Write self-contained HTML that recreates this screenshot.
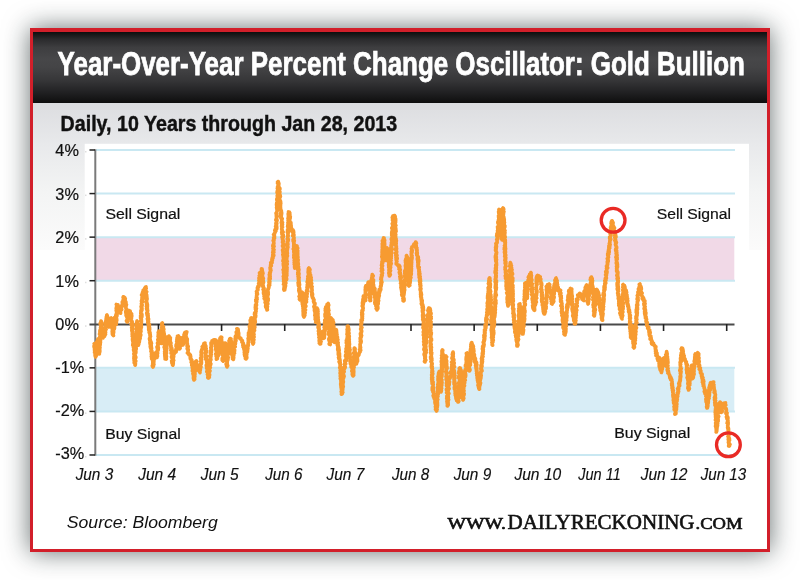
<!DOCTYPE html>
<html><head><meta charset="utf-8"><style>
html,body{margin:0;padding:0;background:#fff;}
body{width:800px;height:580px;position:relative;overflow:hidden;font-family:"Liberation Sans",Arial,sans-serif;}
#frame{position:absolute;left:30px;top:28px;width:734px;height:517px;border:3px solid #d21f2a;border-top-width:4px;background:#fff;
 box-shadow:0 0 24px 0 rgba(15,30,30,0.64);}
#hdr{position:absolute;left:0;top:0;width:734px;height:70.7px;
 background:linear-gradient(#0e0e0e 0%,#2a2a2c 10%,#3e3e40 22%,#474749 38%,#444446 50%,#363638 68%,#222224 84%,#0e0e0e 100%);}
#panel{position:absolute;left:0;top:70.7px;width:734px;height:147px;background:linear-gradient(#dcdde0 0%,#e8e9eb 28%,#f3f4f4 60%,#fbfbfb 100%);}
svg{position:absolute;left:0;top:0;}
.g{stroke:#c9e8f2;stroke-width:2;}
.t{stroke:#222;stroke-width:1.5;}
.bt{stroke:#222;stroke-width:1.6;}
.yl{font-family:"Liberation Sans",Arial,sans-serif;font-size:16.3px;fill:#111;stroke:#111;stroke-width:0.2px;}
.xl{font-family:"Liberation Sans",Arial,sans-serif;font-style:italic;font-size:16.6px;fill:#111;stroke:#111;stroke-width:0.15px;}
.lab{font-family:"Liberation Sans",Arial,sans-serif;font-size:15.5px;fill:#111;stroke:#111;stroke-width:0.2px;}
.ttl{font-family:"Liberation Sans",Arial,sans-serif;font-weight:bold;font-size:32.4px;fill:#fff;stroke:#fff;stroke-width:0.75px;}
.sub{font-family:"Liberation Sans",Arial,sans-serif;font-weight:bold;font-size:22.2px;fill:#111;stroke:#111;stroke-width:0.45px;}
.src{font-family:"Liberation Sans",Arial,sans-serif;font-style:italic;font-size:17px;fill:#111;}
.dr{font-family:"Liberation Serif",serif;fill:#111;stroke:#111;stroke-width:0.6px;}
</style></head><body>
<div id="frame">
 <div id="hdr"></div>
 <div id="panel"></div>
</div>
<svg width="800" height="580" viewBox="0 0 800 580">
 <text x="57.6" y="75" textLength="687.3" lengthAdjust="spacingAndGlyphs" class="ttl">Year-Over-Year Percent Change Oscillator: Gold Bullion</text>
 <text x="60.6" y="131.2" textLength="336.6" lengthAdjust="spacingAndGlyphs" class="sub">Daily, 10 Years through Jan 28, 2013</text>
 <rect x="84.7" y="143.8" width="664.3" height="320" fill="#fff"/>
 <rect x="96" y="237.14" width="638.3" height="43.57" fill="#f1d9e7"/>
 <rect x="96" y="367.85" width="638.3" height="43.57" fill="#d8edf6"/>
 <line x1="96" y1="150.00" x2="735" y2="150.00" class="g"/><line x1="96" y1="193.57" x2="735" y2="193.57" class="g"/><line x1="96" y1="237.14" x2="735" y2="237.14" class="g"/><line x1="96" y1="280.71" x2="735" y2="280.71" class="g"/><line x1="96" y1="367.85" x2="735" y2="367.85" class="g"/><line x1="96" y1="411.42" x2="735" y2="411.42" class="g"/><line x1="96" y1="454.99" x2="735" y2="454.99" class="g"/>
 <line x1="95.3" y1="149.3" x2="95.3" y2="455.8" stroke="#7a7a7a" stroke-width="2"/>
 <line x1="89.5" y1="150.00" x2="95" y2="150.00" class="t"/><line x1="89.5" y1="193.57" x2="95" y2="193.57" class="t"/><line x1="89.5" y1="237.14" x2="95" y2="237.14" class="t"/><line x1="89.5" y1="280.71" x2="95" y2="280.71" class="t"/><line x1="89.5" y1="367.85" x2="95" y2="367.85" class="t"/><line x1="89.5" y1="411.42" x2="95" y2="411.42" class="t"/><line x1="89.5" y1="454.99" x2="95" y2="454.99" class="t"/>
 <rect x="85.2" y="151.00" width="1.2" height="1.5" fill="#d6d6d6"/><rect x="85.2" y="194.57" width="1.2" height="1.5" fill="#d6d6d6"/><rect x="85.2" y="238.14" width="1.2" height="1.5" fill="#d6d6d6"/><rect x="85.2" y="281.71" width="1.2" height="1.5" fill="#d6d6d6"/><rect x="85.2" y="325.28" width="1.2" height="1.5" fill="#d6d6d6"/><rect x="85.2" y="368.85" width="1.2" height="1.5" fill="#d6d6d6"/><rect x="85.2" y="412.42" width="1.2" height="1.5" fill="#d6d6d6"/><rect x="85.2" y="455.99" width="1.2" height="1.5" fill="#d6d6d6"/>
 <line x1="89.5" y1="324.5" x2="734.5" y2="324.5" stroke="#4a4a4a" stroke-width="2"/>
 <line x1="158.44" y1="324" x2="158.44" y2="331" class="bt"/><line x1="221.58" y1="324" x2="221.58" y2="331" class="bt"/><line x1="284.72" y1="324" x2="284.72" y2="331" class="bt"/><line x1="347.86" y1="324" x2="347.86" y2="331" class="bt"/><line x1="411.00" y1="324" x2="411.00" y2="331" class="bt"/><line x1="474.14" y1="324" x2="474.14" y2="331" class="bt"/><line x1="537.28" y1="324" x2="537.28" y2="331" class="bt"/><line x1="600.42" y1="324" x2="600.42" y2="331" class="bt"/><line x1="663.56" y1="324" x2="663.56" y2="331" class="bt"/><line x1="726.70" y1="324" x2="726.70" y2="331" class="bt"/>
 <text x="78.9" y="155.90" text-anchor="end" class="yl">4%</text><text x="78.9" y="200.07" text-anchor="end" class="yl">3%</text><text x="78.9" y="243.14" text-anchor="end" class="yl">2%</text><text x="78.9" y="286.61" text-anchor="end" class="yl">1%</text><text x="78.9" y="330.18" text-anchor="end" class="yl">0%</text><text x="84.3" y="373.45" text-anchor="end" class="yl">-1%</text><text x="84.3" y="416.12" text-anchor="end" class="yl">-2%</text><text x="84.3" y="458.99" text-anchor="end" class="yl">-3%</text>
 <text x="75.65" y="480.3" textLength="37.60" lengthAdjust="spacingAndGlyphs" class="xl">Jun 3</text><text x="138.15" y="480.3" textLength="38.10" lengthAdjust="spacingAndGlyphs" class="xl">Jun 4</text><text x="200.65" y="480.3" textLength="38.10" lengthAdjust="spacingAndGlyphs" class="xl">Jun 5</text><text x="265.15" y="480.3" textLength="37.35" lengthAdjust="spacingAndGlyphs" class="xl">Jun 6</text><text x="326.40" y="480.3" textLength="37.85" lengthAdjust="spacingAndGlyphs" class="xl">Jun 7</text><text x="391.90" y="480.3" textLength="37.35" lengthAdjust="spacingAndGlyphs" class="xl">Jun 8</text><text x="453.65" y="480.3" textLength="37.60" lengthAdjust="spacingAndGlyphs" class="xl">Jun 9</text><text x="514.40" y="480.3" textLength="46.85" lengthAdjust="spacingAndGlyphs" class="xl">Jun 10</text><text x="578.15" y="480.3" textLength="42.60" lengthAdjust="spacingAndGlyphs" class="xl">Jun 11</text><text x="640.65" y="480.3" textLength="46.85" lengthAdjust="spacingAndGlyphs" class="xl">Jun 12</text><text x="700.65" y="480.3" textLength="45.60" lengthAdjust="spacingAndGlyphs" class="xl">Jun 13</text>
 <text x="105.5" y="219" textLength="74.8" lengthAdjust="spacingAndGlyphs" class="lab">Sell Signal</text>
 <text x="656.7" y="218.8" textLength="74.3" lengthAdjust="spacingAndGlyphs" class="lab">Sell Signal</text>
 <text x="105.2" y="438.75" textLength="75.5" lengthAdjust="spacingAndGlyphs" class="lab">Buy Signal</text>
 <text x="614.2" y="437.8" textLength="76" lengthAdjust="spacingAndGlyphs" class="lab">Buy Signal</text>
 <polyline points="94.4,344.0 94.2,343.7 94.7,344.1 94.6,345.2 94.0,346.0 94.0,346.4 94.1,346.1 94.6,348.2 94.2,347.4 95.0,349.5 95.0,348.8 95.6,348.5 95.5,349.5 94.5,349.7 94.8,351.7 94.6,351.7 95.3,351.7 95.3,351.5 94.6,352.4 95.5,353.3 95.1,354.2 95.3,354.1 95.8,355.4 95.1,355.7 95.5,356.8 95.9,356.0 95.6,357.0 96.3,355.7 95.6,356.6 95.3,355.5 95.2,355.4 96.3,354.7 96.5,353.6 96.3,353.7 96.2,352.9 96.6,353.5 96.1,352.4 95.6,351.9 96.5,352.1 96.8,350.0 96.3,350.4 95.8,349.4 96.1,348.2 96.0,349.1 96.1,347.4 96.6,348.3 96.2,346.9 96.9,347.3 97.3,346.8 96.6,345.3 97.0,345.0 96.9,345.3 97.8,343.2 96.8,342.9 97.0,343.0 97.5,342.0 96.8,341.8 97.4,341.6 98.3,341.4 97.8,340.8 98.1,339.0 98.5,340.1 98.0,339.0 98.6,340.2 97.9,339.8 97.5,340.8 97.5,340.0 97.8,340.8 98.0,341.0 97.5,341.7 97.7,342.7 97.6,344.3 98.5,343.2 98.0,344.2 98.2,344.2 98.9,346.6 98.4,346.0 97.9,345.6 98.3,346.5 99.0,346.8 97.9,349.0 98.7,347.7 98.7,348.0 98.7,350.6 99.2,350.4 98.4,350.2 98.3,351.6 98.9,352.1 98.6,351.4 99.3,353.6 99.4,353.7 99.4,354.0 99.0,354.0 98.6,353.5 98.9,352.0 98.4,352.0 98.8,352.4 99.8,351.4 99.8,352.1 99.8,350.2 98.9,349.4 98.8,348.8 99.5,349.9 99.8,348.5 99.6,348.7 98.8,347.9 100.0,347.6 99.8,346.5 99.0,346.6 99.3,346.2 100.2,344.8 99.4,345.5 99.9,343.3 99.1,342.7 100.2,343.7 99.2,343.2 100.4,342.3 99.5,341.6 99.3,339.9 100.5,340.8 99.9,341.0 99.8,340.3 100.4,338.4 99.6,338.0 99.6,338.2 99.7,337.3 99.5,337.9 99.9,336.4 100.2,336.9 100.0,336.4 100.2,335.1 100.2,333.4 100.1,333.3 99.5,334.2 99.8,332.9 100.6,332.6 100.1,332.0 100.4,332.1 99.8,331.1 100.1,330.0 100.8,330.0 100.6,330.1 101.1,328.9 100.7,328.5 100.6,328.4 100.5,327.6 100.6,328.0 100.9,327.3 101.3,325.5 100.8,326.5 101.2,324.2 100.3,324.4 100.2,323.4 100.3,323.9 101.3,323.9 100.4,323.0 101.2,321.2 101.5,322.5 101.0,321.0 100.7,322.5 101.0,322.0 101.9,323.2 100.8,322.8 101.3,323.1 100.9,323.6 101.7,323.4 101.5,324.9 100.9,325.1 101.8,326.0 101.0,327.6 102.1,328.0 101.2,327.0 101.2,328.6 101.6,327.7 101.8,329.9 102.4,329.0 101.6,330.9 102.2,330.9 101.6,330.0 102.5,331.3 101.7,333.0 102.5,333.2 101.8,333.8 101.9,334.3 102.5,333.6 102.7,335.4 102.3,334.2 102.7,334.9 102.2,335.3 102.2,335.8 102.6,336.6 103.3,337.0 103.0,338.0 103.3,336.9 103.4,336.1 103.5,335.6 104.5,336.4 104.0,335.8 105.3,334.6 105.0,335.0 105.5,334.4 105.1,334.7 105.0,333.5 105.5,334.1 105.0,333.2 105.6,332.3 105.2,331.2 104.8,330.2 104.8,331.0 105.2,329.3 105.0,330.3 106.1,329.4 105.3,327.9 105.4,327.9 105.3,327.4 105.5,328.0 106.5,326.6 105.5,327.0 105.7,325.2 105.3,324.7 106.0,324.5 105.7,324.0 105.5,323.0 105.6,322.8 105.6,321.4 106.0,321.4 106.5,321.6 106.8,321.3 106.8,321.3 106.3,319.6 107.2,318.7 106.9,319.3 106.0,319.2 107.2,318.3 107.1,318.2 106.3,317.1 106.9,317.2 107.3,316.7 107.1,316.4 107.0,315.0 107.3,315.9 106.8,315.0 106.7,316.2 106.8,317.7 107.5,317.8 107.7,318.4 107.6,317.4 108.1,319.5 107.8,319.6 108.1,319.0 108.2,320.0 107.4,320.5 108.4,320.9 108.5,323.0 108.2,322.2 108.3,323.4 108.8,323.8 108.7,323.1 108.1,324.0 109.0,324.6 108.8,324.4 108.2,325.5 109.2,326.9 109.0,327.0 109.4,326.0 109.2,325.9 109.3,324.7 110.0,324.3 110.2,325.5 109.0,323.9 110.2,324.5 109.8,322.5 109.6,323.5 109.7,322.2 109.7,321.6 111.0,320.2 110.9,320.5 111.1,320.4 110.3,320.4 110.8,318.0 110.2,318.5 111.0,318.0 111.0,318.1 110.6,318.7 110.9,320.2 110.5,320.6 111.8,319.7 111.9,321.5 112.0,321.0 111.3,321.8 112.2,322.7 111.4,322.8 111.3,322.5 111.1,324.7 111.5,325.5 111.5,324.5 111.9,324.8 111.8,327.0 112.5,327.2 112.2,327.9 112.7,327.6 112.5,327.0 112.6,328.4 112.6,329.3 112.1,328.5 113.0,329.2 112.4,330.2 112.2,331.5 113.3,331.0 112.9,331.6 112.8,332.3 112.3,332.3 112.4,334.4 112.9,333.4 113.5,335.6 113.0,335.0 113.0,333.7 112.7,333.1 113.0,332.6 112.9,332.5 113.4,333.4 113.7,331.8 113.3,331.6 113.3,330.6 112.9,330.0 114.2,329.2 113.7,329.8 114.2,328.4 113.4,327.9 113.7,327.9 114.5,328.3 114.5,325.9 113.3,327.0 114.6,325.9 114.2,324.4 114.0,325.9 114.7,325.3 115.0,323.4 113.8,322.7 114.4,323.4 115.1,323.0 114.7,322.6 114.5,321.6 114.0,321.6 114.3,321.4 115.0,319.6 114.3,319.0 115.1,319.4 114.4,317.6 115.0,318.0 115.1,318.7 115.0,318.4 115.4,318.4 115.1,319.9 116.1,320.8 116.0,320.9 115.2,320.9 116.3,322.5 115.5,321.4 115.8,323.4 115.8,323.0 116.0,324.0 116.3,324.4 115.7,322.0 115.9,322.3 116.4,321.3 116.5,322.0 116.2,320.4 116.8,320.1 116.7,319.4 115.8,320.1 116.0,320.0 116.3,317.8 115.9,317.8 116.6,318.5 115.9,316.8 116.0,317.5 115.9,315.0 115.8,315.3 117.0,315.8 116.8,315.6 117.1,313.6 116.1,314.5 116.9,312.0 116.8,312.2 116.5,311.6 116.2,310.4 116.4,310.7 117.3,309.7 117.4,309.4 116.6,310.2 117.2,308.9 116.2,308.4 116.7,308.9 116.4,307.2 117.5,306.0 116.8,307.2 117.3,305.0 116.3,304.5 117.0,305.0 118.0,304.9 118.1,306.7 118.0,305.7 119.2,306.9 119.0,307.0 118.8,308.0 118.9,307.5 118.6,309.1 119.9,309.3 120.0,308.5 119.1,309.9 120.2,311.5 119.5,310.5 119.7,311.5 120.4,311.3 120.3,313.0 120.0,313.0 120.6,313.1 120.4,311.6 120.1,311.2 120.9,310.1 120.2,311.1 120.4,309.0 120.2,309.6 120.8,310.1 121.7,309.6 120.9,307.1 120.8,307.5 121.8,306.9 121.3,306.3 121.9,306.4 122.2,306.3 122.0,305.0 122.4,303.7 122.7,303.5 122.5,303.2 122.8,302.3 122.3,301.9 122.3,302.8 123.0,301.1 122.9,302.1 123.1,299.9 123.7,300.3 124.1,298.6 123.5,299.7 124.1,299.4 123.1,297.5 123.3,296.8 124.0,297.0 124.8,297.7 124.9,297.7 124.9,298.4 124.2,299.6 125.3,298.6 125.0,300.3 124.6,300.2 124.6,300.3 124.9,301.7 125.6,301.3 124.9,302.1 126.0,302.3 125.6,302.8 126.0,304.0 126.4,304.6 125.4,304.1 125.9,305.6 126.3,305.1 125.7,306.9 126.0,306.5 125.9,308.5 126.0,308.1 126.1,308.3 126.8,310.1 126.1,308.8 126.7,309.3 125.7,311.4 126.3,311.7 126.3,312.3 126.4,311.3 125.8,312.6 126.7,313.9 126.0,313.8 126.4,314.0 126.1,314.0 126.6,315.9 126.1,315.5 127.1,317.0 126.3,315.7 127.3,318.0 126.7,316.5 127.4,317.8 127.4,318.8 127.3,318.3 127.3,318.9 126.8,320.8 127.4,319.8 126.5,320.8 127.0,321.2 127.0,322.0 126.6,320.9 127.5,321.9 126.6,320.6 127.7,319.0 127.9,318.7 127.7,319.1 127.8,318.1 127.6,318.2 127.7,317.8 127.8,316.9 127.3,316.8 128.1,315.4 128.6,316.1 128.2,314.3 128.3,313.6 127.9,313.8 128.0,313.4 128.7,312.0 128.9,311.6 129.1,312.6 128.9,310.5 129.0,311.0 129.3,311.2 130.2,311.1 130.4,313.4 130.5,313.4 130.0,314.2 130.7,314.6 131.0,314.0 131.6,313.8 131.5,315.9 130.5,315.2 131.5,315.2 131.8,316.0 131.7,316.2 131.3,318.4 130.9,317.5 131.4,318.1 130.8,318.3 131.0,320.5 131.8,320.9 131.1,321.1 131.1,321.1 131.8,321.2 132.2,322.1 131.9,323.3 131.2,324.1 132.0,323.3 132.3,323.5 132.6,324.7 131.8,325.6 131.9,324.8 132.4,325.0 132.5,326.0 132.3,328.1 132.3,327.9 132.0,326.9 131.6,327.7 132.5,328.9 132.4,330.4 131.9,329.4 132.6,329.4 131.8,330.7 132.0,331.2 132.2,332.2 132.7,331.8 132.8,332.9 132.2,334.5 132.4,333.2 132.2,334.8 133.3,335.6 132.7,335.0 132.2,336.3 133.0,336.2 133.0,337.0 133.2,337.4 133.7,338.5 132.8,339.4 132.5,339.1 133.0,338.9 132.6,340.6 132.6,340.6 133.9,340.2 132.9,341.7 133.4,342.3 133.8,341.8 133.2,342.6 132.8,344.4 133.9,344.5 132.8,345.3 133.9,344.9 133.9,345.4 133.3,345.1 133.3,345.5 133.5,347.5 134.0,348.3 134.1,347.5 133.9,348.4 134.3,349.1 133.6,349.8 134.6,349.4 134.5,349.4 133.7,350.4 134.4,352.5 134.4,351.6 134.6,352.1 133.8,353.9 134.4,353.9 134.4,355.1 134.2,355.2 134.6,355.8 134.2,356.0 134.5,355.6 134.0,356.8 133.8,357.9 134.0,356.5 133.9,358.9 134.3,357.7 133.9,358.0 134.9,359.8 134.9,360.5 134.1,360.7 134.5,361.7 135.2,362.4 134.2,362.8 135.4,363.5 134.3,362.4 134.3,362.5 135.4,364.7 135.2,365.2 135.0,365.0 135.2,364.0 134.5,363.1 135.4,362.9 134.8,362.8 134.4,362.0 134.8,362.5 135.0,361.1 135.8,361.0 135.7,360.8 134.6,359.8 135.2,360.1 135.1,359.5 135.3,357.9 135.8,357.1 135.8,356.8 134.7,356.3 135.8,357.6 134.7,356.0 135.4,356.2 135.0,355.0 135.3,355.2 135.2,355.0 135.2,352.9 135.8,353.0 135.0,352.8 135.0,352.6 135.9,352.1 135.8,350.7 135.5,350.3 136.2,349.1 136.2,348.5 135.3,348.5 136.3,348.5 135.6,348.8 135.4,347.4 135.9,347.6 136.2,346.8 135.7,345.6 135.4,346.3 136.1,345.5 135.5,344.4 136.3,344.2 135.5,343.4 136.5,342.4 135.6,342.1 136.3,342.8 135.6,340.7 135.7,340.6 136.1,339.8 135.9,339.3 136.8,340.0 135.6,340.0 135.6,338.2 136.9,338.6 136.6,337.4 135.8,337.3 135.7,335.9 136.2,335.0 136.2,336.1 136.6,335.0 136.6,334.4 135.9,334.2 136.3,334.0 137.0,332.8 136.6,333.0 136.4,331.4 136.8,332.3 136.9,331.4 137.1,330.9 136.8,329.9 136.4,329.8 136.1,328.8 137.1,329.0 136.9,327.5 136.6,327.4 136.9,326.8 137.0,327.4 136.3,326.3 137.2,325.3 136.8,326.0 136.2,324.6 136.4,324.6 137.5,323.5 136.4,323.2 137.0,323.0 137.0,322.3 137.4,321.5 137.0,321.0 136.9,322.5 136.7,322.4 136.9,323.1 136.6,324.1 136.9,322.5 136.9,323.8 136.5,324.3 137.1,325.4 137.1,325.0 136.9,326.5 137.9,326.6 137.0,327.7 137.2,326.9 136.9,328.6 137.9,328.8 137.4,329.1 137.1,330.5 137.3,330.3 138.0,331.2 137.5,330.5 137.7,330.7 138.1,331.7 138.2,332.0 137.5,332.5 137.6,332.8 137.1,334.5 137.5,333.9 137.5,335.0 137.7,335.8 138.1,335.7 138.5,337.3 137.3,337.7 138.5,338.1 137.5,338.7 138.2,337.4 137.4,340.0 138.3,339.0 137.6,339.2 137.8,341.1 138.0,340.2 138.8,342.1 137.8,342.9 138.4,343.1 138.5,343.9 138.7,344.2 137.9,344.4 138.4,345.0 138.4,345.0 138.4,345.3 138.7,343.5 138.3,342.7 138.8,342.0 138.9,341.7 139.0,342.0 139.2,342.3 138.5,341.7 139.3,340.6 139.6,340.7 139.3,339.3 140.2,338.1 139.9,338.8 139.1,338.2 140.2,338.4 139.8,338.1 140.1,336.5 140.8,335.0 140.6,335.8 140.4,335.0 140.2,335.3 140.3,333.9 140.5,334.1 140.1,332.9 140.4,332.6 141.0,331.5 141.0,331.3 140.6,330.5 140.6,331.5 140.9,330.6 140.4,329.1 140.4,329.2 140.9,329.1 140.1,328.5 141.3,327.6 140.2,326.6 140.1,325.8 141.4,326.2 141.1,326.1 141.4,325.2 141.1,324.8 141.2,324.2 141.2,322.9 141.2,322.9 141.4,321.6 140.6,321.0 141.4,322.4 141.3,320.7 141.5,321.1 141.2,319.5 140.9,319.3 140.9,318.8 141.4,319.5 140.6,318.1 140.6,316.7 141.7,317.2 141.9,316.4 140.6,315.8 141.5,316.5 142.0,314.9 141.3,313.6 141.6,313.4 140.9,312.4 140.8,313.4 140.9,313.5 140.9,312.8 141.0,310.4 141.8,310.4 141.9,309.8 141.0,310.6 141.9,310.3 142.0,308.1 141.8,309.0 141.6,309.0 141.4,308.5 142.0,305.9 141.1,306.8 142.2,305.1 141.5,306.0 141.4,305.8 141.8,303.5 141.7,304.2 141.8,303.9 141.4,303.7 141.8,302.8 142.2,301.8 141.8,302.1 142.6,301.6 142.1,300.0 141.5,301.0 142.4,300.2 141.9,299.2 142.8,299.2 142.3,297.6 142.1,298.4 142.0,297.4 142.4,297.4 142.7,295.5 141.6,295.0 142.2,295.2 142.8,295.4 141.7,294.7 142.8,294.3 142.4,293.0 142.7,292.0 143.4,292.8 143.4,292.5 143.2,290.2 143.7,291.3 143.5,290.8 144.7,289.2 144.5,289.7 144.6,288.2 144.5,288.9 145.5,287.8 144.8,288.1 145.6,287.0 146.0,286.9 145.8,288.9 146.2,288.5 145.7,289.2 145.3,288.8 145.4,290.4 145.7,290.6 145.7,291.0 145.4,290.5 146.7,291.7 145.4,292.8 146.4,292.2 146.2,293.2 146.1,292.9 145.5,295.6 146.7,295.0 146.3,295.0 146.6,295.8 146.9,297.1 146.8,298.0 146.0,296.5 146.0,297.3 145.8,297.5 146.5,299.8 146.4,300.5 147.1,299.0 146.7,300.3 146.1,302.0 146.3,301.6 146.9,303.0 146.9,302.3 146.7,302.3 147.4,304.6 146.4,303.0 146.5,304.2 147.4,305.9 147.4,304.5 147.4,306.5 147.2,307.6 146.4,306.2 147.4,308.5 147.3,307.6 147.3,309.1 146.6,308.6 146.9,308.7 147.2,309.3 146.9,309.7 147.6,309.9 147.7,310.8 146.7,312.9 147.0,313.5 148.0,313.9 147.0,313.4 147.0,314.9 148.0,314.8 147.6,315.0 147.6,315.1 148.2,316.0 147.9,315.7 147.4,316.0 148.2,317.6 147.4,318.8 147.7,318.3 147.6,318.5 148.6,319.1 147.7,320.0 148.0,321.4 147.7,322.1 147.7,322.4 148.6,321.4 148.4,322.0 148.1,322.3 148.4,324.6 149.3,324.9 148.1,324.0 149.3,324.0 149.1,325.0 149.5,324.9 149.3,326.1 148.4,325.9 149.5,327.6 148.6,327.9 149.7,327.9 149.3,328.2 148.8,330.1 149.6,329.3 148.7,329.6 149.5,331.0 149.1,330.9 149.6,332.5 150.0,332.7 149.6,333.0 149.2,332.5 150.0,333.8 150.1,333.5 150.2,334.6 150.3,336.3 149.9,334.9 150.5,336.4 150.5,336.5 149.6,338.2 149.9,337.3 150.0,338.7 149.5,339.0 150.2,339.5 149.8,340.5 150.8,341.3 150.1,341.5 150.3,342.1 149.9,342.8 151.2,342.5 150.6,343.1 150.7,342.4 151.4,343.4 150.3,343.6 150.5,345.7 150.2,344.6 151.2,345.3 150.3,346.7 151.1,347.1 151.3,346.6 151.6,348.5 150.5,347.7 151.2,349.0 150.9,348.7 151.2,349.2 151.5,351.3 150.9,351.2 151.8,350.8 152.0,353.0 151.4,352.3 152.1,353.1 151.5,354.5 152.1,353.6 151.4,354.1 151.7,356.1 152.3,356.4 152.3,356.8 151.3,356.5 152.6,358.0 151.7,357.3 152.3,357.7 152.2,357.6 152.1,359.0 151.6,358.7 153.0,360.6 153.0,360.8 152.8,361.8 153.0,360.5 152.7,361.5 152.8,362.0 152.7,363.9 152.8,363.0 152.7,363.9 153.4,364.0 152.5,365.3 152.3,365.7 153.5,366.0 152.6,366.4 153.0,367.0 153.1,365.7 152.6,365.2 152.9,365.3 153.0,364.4 152.8,364.6 153.9,364.2 153.6,363.8 153.2,363.5 153.6,362.6 153.9,361.9 153.5,360.9 153.5,361.0 153.8,360.7 153.3,359.7 154.6,358.9 154.2,359.0 153.9,359.6 154.0,358.6 153.9,356.5 154.9,356.9 153.9,356.3 154.5,356.5 154.1,354.9 155.4,355.5 154.3,354.1 154.7,354.4 155.1,354.3 155.0,353.0 155.7,353.5 155.8,354.5 156.1,354.4 156.4,355.5 156.8,354.7 157.0,354.9 157.1,356.7 157.0,357.0 157.0,357.5 157.2,355.8 157.5,356.3 157.3,354.7 157.1,354.4 157.5,353.5 157.1,353.6 157.1,352.6 157.7,353.3 157.4,351.9 157.0,351.1 157.0,351.2 157.6,349.6 158.1,349.6 158.1,350.2 158.3,348.3 157.6,349.4 157.0,347.0 157.8,347.5 158.4,347.6 157.9,347.6 157.9,346.0 158.1,345.3 157.7,345.2 157.8,345.5 158.2,344.1 157.5,343.2 157.9,343.1 158.2,343.3 158.8,342.0 158.1,341.8 158.9,340.7 158.3,341.2 157.8,339.6 159.0,340.2 158.4,338.1 159.0,338.9 158.9,339.1 159.0,337.3 158.1,336.5 158.6,336.5 158.2,335.3 158.8,335.7 158.5,336.1 158.9,333.5 158.6,334.6 158.5,333.9 158.2,332.6 159.4,332.7 159.2,331.3 159.0,331.6 159.0,331.0 158.8,331.8 159.2,333.1 159.4,332.3 158.8,332.2 159.8,332.6 158.9,333.3 159.6,335.2 159.8,335.7 159.1,334.4 160.2,335.6 160.2,336.2 159.5,336.5 159.5,338.4 160.3,337.7 160.2,338.2 159.7,339.9 160.5,340.5 160.4,340.3 160.2,339.5 161.3,341.8 160.5,342.4 161.3,341.6 161.1,343.5 161.0,343.0 161.0,343.5 160.7,341.8 161.4,340.9 160.9,341.8 161.2,341.1 160.9,339.3 161.0,338.8 161.9,338.5 161.4,337.7 161.4,337.7 161.2,336.5 160.9,337.7 161.2,335.9 161.1,335.5 161.2,334.5 161.8,334.7 161.1,335.0 161.1,333.5 162.1,332.7 161.6,333.7 162.2,331.8 161.6,332.5 161.6,332.5 161.4,332.0 161.9,329.9 161.8,329.2 162.2,329.0 162.5,329.2 161.8,327.9 162.2,327.4 162.6,326.7 162.1,327.1 161.8,327.1 162.0,326.3 162.3,325.1 162.1,324.1 161.8,325.3 162.1,324.4 161.8,323.6 162.4,323.0 162.3,323.5 162.2,323.0 162.3,323.9 162.1,325.5 162.4,325.3 163.4,326.6 163.4,327.3 162.4,326.5 162.3,327.9 163.3,327.7 163.0,328.8 163.5,328.4 163.8,329.2 163.5,329.3 162.9,331.4 163.8,331.5 162.9,330.5 163.1,331.3 163.4,332.2 163.1,332.6 164.0,332.8 164.3,334.2 164.2,334.0 164.0,335.0 163.9,335.9 163.9,334.9 164.6,337.1 163.8,336.0 164.7,337.7 163.6,337.4 163.7,339.1 163.9,339.9 164.6,338.6 164.6,339.8 164.7,341.2 164.1,340.1 165.1,341.3 165.1,342.4 164.8,343.2 164.7,342.9 163.9,343.9 164.5,344.0 165.2,343.7 165.0,344.0 165.0,346.2 164.4,346.1 165.4,346.8 164.9,346.4 164.2,347.2 164.7,347.3 164.6,347.7 165.2,349.4 164.6,348.9 165.0,349.9 165.6,350.2 164.8,351.8 164.6,351.6 164.9,352.7 165.2,353.1 164.7,353.4 165.4,353.4 165.6,354.7 164.8,354.0 165.1,354.4 164.8,355.0 165.0,356.4 165.4,355.6 165.2,356.9 165.3,356.8 164.9,356.9 166.3,359.1 165.6,359.0 165.0,359.0 166.3,358.1 165.1,357.5 165.6,356.3 165.8,355.4 166.4,356.3 166.0,356.5 166.1,354.5 165.5,353.7 165.3,354.6 166.4,353.1 165.5,353.3 166.5,353.4 165.6,352.6 166.5,352.0 165.9,350.3 166.6,350.1 166.0,350.1 166.0,350.2 165.9,348.0 166.4,348.8 166.7,348.5 166.9,348.5 166.4,347.0 165.9,346.1 166.5,345.1 166.7,344.8 166.4,346.0 165.9,343.5 166.5,343.3 166.9,342.4 167.1,343.8 167.1,342.3 166.4,342.4 166.7,341.3 166.5,340.9 167.0,341.2 167.4,339.3 166.6,339.4 167.0,338.7 166.5,337.6 166.7,337.9 167.6,338.4 167.0,337.0 168.0,338.0 168.7,337.3 169.0,336.0 169.3,337.2 169.6,337.0 169.4,337.7 170.4,338.0 170.0,338.1 169.7,339.8 169.3,338.8 170.3,339.9 169.5,340.9 170.0,341.2 170.1,341.6 170.4,341.8 169.8,341.8 171.0,343.1 170.0,344.3 170.3,343.1 170.7,344.0 170.7,345.1 170.4,345.7 170.3,346.0 171.1,345.6 170.9,346.1 171.0,348.3 171.2,348.5 171.6,347.7 172.0,349.5 170.8,350.2 171.3,349.3 172.2,350.6 171.6,351.0 172.0,350.7 172.1,351.0 171.3,352.2 171.1,353.2 171.4,353.1 172.1,353.8 172.4,354.8 172.4,355.1 172.5,356.3 171.5,356.5 171.8,357.1 172.3,357.7 171.5,357.2 172.4,359.0 172.4,357.5 172.3,358.1 172.3,360.2 171.7,360.9 172.5,360.0 171.9,360.9 172.8,361.7 171.8,360.9 171.9,363.2 172.0,363.1 172.2,363.9 172.4,363.2 173.1,364.6 172.6,365.0 172.9,365.2 173.3,362.9 172.6,362.7 172.8,363.8 173.3,361.5 172.5,362.7 173.3,361.3 173.0,360.2 173.6,360.3 173.7,360.2 172.6,359.1 172.9,359.9 173.5,357.5 173.0,357.7 173.4,357.7 173.4,356.7 172.9,356.7 173.4,354.9 173.7,356.6 173.1,354.2 174.1,354.0 173.6,354.0 173.6,353.7 174.0,353.0 174.4,353.6 175.5,351.2 175.3,352.4 176.1,352.0 176.0,351.0 176.3,350.8 175.9,349.5 176.6,350.3 176.9,349.4 176.1,349.1 176.7,348.0 176.7,347.2 176.6,346.8 176.0,346.1 176.4,347.1 176.7,345.2 176.4,344.4 176.7,343.7 176.2,344.8 176.9,343.4 177.2,342.6 176.7,341.5 176.9,341.6 177.6,341.6 177.9,340.6 178.0,340.7 176.9,339.3 177.6,340.6 177.4,339.6 177.6,339.3 177.1,338.0 178.4,337.0 177.5,336.0 177.5,336.0 178.0,336.0 178.3,335.9 178.0,336.3 178.3,338.3 178.5,337.3 178.6,339.5 178.5,338.1 178.9,340.3 178.3,339.2 178.1,340.6 179.1,341.3 179.3,340.9 178.5,342.5 179.0,342.3 179.1,342.6 178.3,343.3 178.3,344.3 178.8,344.5 179.2,344.5 179.1,344.4 179.8,346.1 180.0,345.5 179.5,347.5 179.2,346.6 179.0,347.2 179.9,347.6 179.6,349.0 180.1,348.3 179.8,348.2 179.9,347.8 180.0,346.6 180.3,346.0 180.3,346.6 180.4,345.1 180.5,346.1 180.1,344.0 180.3,345.0 179.8,342.4 180.3,343.3 180.8,342.2 181.2,341.4 180.9,340.6 180.0,340.2 180.1,340.5 180.8,339.3 181.4,339.2 180.4,338.3 181.3,339.4 181.0,338.0 180.7,337.5 181.7,338.4 182.1,339.5 181.8,339.7 182.1,340.4 181.6,341.9 181.5,342.0 181.5,342.3 182.1,343.3 181.8,343.1 182.4,344.4 183.3,344.3 182.5,344.0 183.0,345.0 182.7,344.4 182.7,343.3 183.5,343.8 182.9,344.1 182.9,342.7 182.9,342.8 183.9,341.0 183.8,341.7 183.2,340.1 183.5,340.9 183.1,339.9 183.8,338.9 183.8,339.3 183.4,338.8 183.6,338.1 184.4,336.3 184.5,337.6 184.0,336.0 184.0,334.5 184.0,336.0 184.1,335.4 184.5,334.5 184.7,332.8 185.8,332.1 185.5,333.4 186.0,332.0 186.4,333.3 186.8,332.0 185.8,334.1 186.5,333.0 186.2,333.9 186.2,334.1 185.7,336.6 186.1,336.8 185.9,336.5 186.0,336.8 186.1,337.9 186.1,338.5 186.6,337.6 186.5,339.0 187.3,339.2 186.4,341.0 187.3,341.0 186.5,340.3 186.6,340.6 186.3,342.0 186.9,342.6 186.9,341.9 187.4,343.8 187.2,344.1 187.5,345.6 187.8,345.5 187.1,345.1 187.2,347.0 187.2,346.2 187.3,346.2 188.2,346.4 187.7,348.9 187.2,348.7 187.4,348.4 187.2,348.7 188.2,350.6 188.3,349.5 188.1,350.6 188.1,351.6 187.6,353.0 187.3,353.0 188.0,353.0 188.9,353.4 188.9,354.9 188.8,354.5 189.9,354.3 190.0,355.0 190.4,355.3 190.3,356.2 190.6,356.1 190.7,357.1 190.2,357.7 190.4,358.9 190.8,359.0 191.0,358.9 190.7,358.7 191.8,360.1 191.4,360.6 191.9,360.4 191.2,362.2 191.7,362.3 192.3,363.4 192.0,363.0 192.6,362.5 192.0,364.7 192.6,363.7 191.8,364.5 191.7,365.2 192.8,366.0 192.3,365.6 192.3,368.1 192.8,367.4 192.6,368.7 193.0,367.7 193.0,368.7 192.8,368.9 192.6,369.6 192.7,369.4 192.5,371.2 192.4,370.8 193.4,371.5 192.9,371.9 193.6,372.1 193.4,374.3 192.9,373.8 193.8,374.8 193.2,374.0 193.4,375.2 193.8,375.5 193.5,376.8 194.1,376.7 193.5,377.7 194.4,377.3 194.5,379.0 193.7,379.4 193.7,378.6 194.0,380.0 194.4,379.2 194.1,379.0 194.7,379.1 193.5,378.2 194.2,377.4 194.8,376.8 194.3,377.4 194.3,376.0 194.5,376.2 194.8,375.5 194.4,373.5 194.9,374.1 195.1,374.1 194.2,372.4 194.2,373.2 194.3,371.1 195.2,371.6 194.3,371.4 195.3,370.5 194.4,370.4 195.0,369.7 195.9,369.7 195.7,367.7 195.0,368.0 194.6,368.6 195.1,366.5 195.2,366.0 196.0,366.1 195.5,365.3 195.0,364.6 196.1,365.2 196.2,363.5 195.3,362.5 195.8,362.7 195.8,362.5 196.0,361.7 196.4,360.8 196.0,361.0 196.7,361.6 195.6,361.6 196.4,362.3 196.5,362.6 196.2,364.2 196.4,364.5 197.2,364.7 196.8,366.0 196.9,366.3 196.5,365.9 197.4,365.5 197.8,366.1 197.6,366.8 198.1,368.1 198.1,368.5 198.0,369.4 197.6,368.9 198.0,370.0 198.9,369.6 199.4,370.2 198.6,370.3 200.0,372.6 200.0,372.0 199.9,371.8 199.7,371.9 200.4,369.7 199.6,370.4 199.6,370.2 200.0,368.4 200.4,368.1 200.4,367.2 201.0,367.1 200.9,366.2 200.9,367.6 200.4,365.0 200.4,365.8 200.2,365.1 200.1,364.4 201.0,363.8 201.0,362.7 201.2,362.2 201.4,363.6 201.5,362.1 200.6,361.2 201.3,361.0 201.6,359.6 201.0,360.8 201.2,359.6 200.6,358.2 200.9,359.4 201.7,357.4 201.9,356.5 201.4,358.0 201.1,357.5 201.6,355.0 201.2,355.4 201.1,355.5 201.1,355.1 201.3,353.1 201.7,352.6 201.7,353.6 201.8,352.4 201.1,352.0 201.2,351.8 201.3,351.2 201.7,350.2 202.1,349.3 201.5,350.5 202.0,349.0 202.0,349.3 203.0,348.0 202.2,346.7 203.5,346.3 203.1,346.8 202.8,346.2 203.1,345.8 203.9,345.0 203.7,344.6 203.9,343.6 204.2,344.7 204.8,344.3 205.0,343.0 204.4,344.5 205.1,344.6 205.2,344.9 204.8,345.6 204.7,345.0 204.6,345.8 205.3,346.0 205.9,346.1 205.5,346.9 205.5,348.6 205.7,347.5 205.1,349.2 206.2,348.5 205.7,350.4 206.0,350.2 206.1,350.9 206.2,350.4 206.3,351.8 205.6,351.6 205.4,353.5 206.1,352.7 205.6,353.2 205.5,353.9 205.7,356.0 206.7,356.1 206.0,356.0 206.4,357.4 206.4,357.3 205.7,357.8 206.6,358.6 205.6,359.0 206.0,358.3 206.9,359.9 206.7,359.2 206.8,361.5 207.0,361.5 206.9,362.2 206.6,361.9 207.0,363.1 207.1,362.6 207.2,363.6 207.2,363.2 207.3,365.1 206.3,365.7 206.4,364.8 206.7,365.4 206.8,367.4 207.1,367.5 206.7,368.1 207.3,368.4 207.6,369.2 207.0,369.0 207.0,368.6 207.4,370.7 207.0,370.7 207.8,371.6 206.8,371.5 206.9,371.1 208.1,372.3 207.9,372.9 207.6,372.9 207.7,374.8 208.1,374.0 207.5,374.5 208.4,375.4 208.5,376.7 207.8,376.9 207.8,377.7 208.1,377.0 208.6,378.0 209.3,377.2 208.3,377.9 208.9,377.4 208.7,376.0 209.5,375.5 209.6,374.3 209.4,373.8 209.1,372.9 208.6,374.5 209.1,373.7 208.8,372.2 208.7,372.1 209.8,371.5 209.2,371.9 210.0,370.9 208.9,370.3 209.4,370.5 209.4,369.4 209.8,368.2 209.7,368.4 210.3,367.5 209.6,368.0 209.2,367.2 210.1,366.1 209.9,366.1 210.0,365.0 210.6,365.0 210.4,363.0 209.9,362.7 210.8,363.9 209.7,362.7 210.3,361.0 210.1,362.0 210.5,360.5 210.7,360.0 210.4,359.8 211.0,359.8 210.8,359.4 210.2,359.5 210.7,358.4 210.2,356.8 210.6,357.7 211.0,356.2 210.1,356.0 211.1,354.8 211.0,354.3 210.4,353.5 210.4,353.7 211.4,354.5 210.3,352.6 211.4,351.8 210.6,351.9 210.3,351.0 210.7,350.7 211.6,350.0 210.5,350.9 210.9,350.2 211.2,349.6 210.8,347.7 211.4,347.9 211.2,347.9 211.5,346.5 211.0,347.4 211.3,345.5 211.4,345.0 211.7,344.0 211.8,344.6 211.1,345.0 211.0,342.9 211.4,343.0 211.1,342.7 212.3,342.5 212.1,342.4 212.0,340.9 213.0,341.9 213.3,340.9 213.4,340.0 214.3,339.8 215.0,340.5 214.7,339.8 215.4,340.0 215.9,340.2 215.0,341.8 215.6,341.5 215.8,342.9 215.1,342.1 215.0,342.8 215.7,344.3 216.0,344.2 215.6,344.7 215.5,345.8 216.3,346.2 215.4,346.4 216.3,346.5 216.5,347.9 216.4,348.2 216.3,348.8 215.6,348.9 216.4,349.2 215.9,348.5 216.4,350.7 216.0,349.9 215.9,350.1 216.6,352.5 216.8,351.7 216.7,351.6 217.0,352.6 215.8,353.8 216.1,353.5 216.0,354.4 216.7,355.7 216.1,356.2 216.2,355.4 217.0,356.1 216.6,357.2 216.5,358.1 216.5,358.7 217.4,358.6 217.0,359.0 216.4,359.1 216.5,358.0 217.1,356.5 217.5,357.5 217.5,356.3 217.4,356.2 217.1,356.3 218.3,355.7 218.3,354.1 218.4,353.1 217.8,352.7 217.8,353.4 218.2,352.4 217.8,351.3 217.9,351.0 217.7,351.5 218.2,350.4 217.9,350.4 217.9,349.0 218.5,349.4 219.2,349.0 219.2,348.9 219.0,348.0 218.1,346.4 218.1,347.3 219.2,346.3 218.6,345.2 219.0,345.0 218.7,344.8 219.9,343.6 218.7,342.8 219.3,343.9 220.1,342.4 219.2,341.1 219.4,342.1 220.0,342.1 220.7,341.1 220.2,340.7 219.9,338.6 220.6,339.0 220.2,338.0 220.1,338.9 221.2,338.5 221.0,337.0 221.7,337.4 221.4,337.7 221.6,339.3 220.7,337.9 220.8,339.7 221.1,338.9 221.8,341.1 221.3,340.0 221.9,341.6 220.8,341.6 221.6,343.3 221.5,343.3 221.1,342.9 222.2,343.7 221.1,344.7 221.1,344.3 221.6,345.7 221.9,346.5 221.7,345.5 222.1,346.0 221.8,347.3 222.2,348.5 221.6,348.8 222.3,348.9 221.5,350.4 222.2,349.0 221.8,351.6 221.8,350.8 222.6,352.2 222.4,352.5 221.6,351.6 223.0,353.7 221.7,352.5 222.1,354.9 222.1,354.9 223.1,355.3 223.1,355.0 222.1,354.9 223.0,355.6 223.3,357.5 222.3,358.2 222.3,358.0 222.2,359.1 223.4,359.9 222.2,360.3 223.0,360.7 223.0,360.8 223.0,361.0 223.2,361.2 222.5,359.0 223.2,359.0 223.1,357.9 223.6,357.5 223.8,358.7 223.3,356.7 223.7,356.4 223.4,355.6 224.2,356.1 223.4,354.6 224.0,355.8 224.2,353.6 223.6,353.6 224.2,352.7 224.0,354.1 224.3,351.4 223.4,351.2 224.3,351.7 224.1,350.9 224.0,350.7 224.4,350.9 224.6,350.2 224.9,349.7 224.7,347.5 224.7,348.8 224.4,348.3 224.1,348.0 224.5,347.0 224.3,345.6 224.5,345.1 224.2,344.9 225.5,344.8 225.5,344.6 225.4,344.6 225.0,343.0 225.4,343.0 224.7,343.8 224.5,343.9 225.7,345.9 225.0,346.1 225.6,346.9 225.7,346.6 224.8,347.7 225.1,347.8 225.2,348.1 226.1,347.8 225.5,349.3 225.6,350.5 225.5,350.9 225.9,351.5 225.1,350.4 225.4,352.4 225.1,351.5 226.1,353.6 225.4,352.9 226.1,353.9 226.3,354.6 225.6,354.0 225.3,355.4 225.6,355.0 226.7,356.3 226.3,356.8 226.3,357.4 225.9,356.5 225.6,356.9 226.1,357.7 225.8,359.0 227.0,359.9 226.1,360.6 226.0,359.6 226.2,360.8 226.8,361.4 226.9,361.1 227.2,362.2 227.1,362.0 227.2,362.9 227.2,364.7 227.0,364.0 226.1,364.3 227.4,364.7 227.1,366.2 227.2,365.8 227.0,367.0 226.5,365.6 227.8,365.7 227.3,365.7 226.8,364.0 226.5,365.3 226.7,365.0 227.1,364.0 226.8,363.6 227.0,362.2 227.4,361.1 227.1,362.2 227.2,360.7 227.9,359.9 227.1,359.4 227.4,359.2 227.8,358.9 228.2,357.5 227.9,358.7 227.4,356.5 227.7,356.2 227.8,357.0 227.3,355.2 227.9,354.8 227.5,354.9 227.4,353.5 227.8,353.9 228.6,353.6 227.5,352.4 228.5,352.6 228.7,353.0 228.7,350.6 228.9,351.1 227.9,349.8 228.8,349.4 227.8,349.0 229.0,348.9 228.7,347.6 228.4,347.6 228.1,347.9 228.3,346.2 229.3,346.5 228.2,344.9 228.9,345.5 228.0,344.9 229.1,344.6 228.4,344.0 229.0,343.8 228.3,343.7 229.5,343.0 229.4,341.7 229.5,340.8 229.0,341.0 229.0,340.8 230.4,339.3 229.8,338.8 230.5,338.6 231.0,339.0 230.6,340.0 231.2,341.0 231.0,340.9 230.5,342.0 230.9,341.4 231.3,343.0 231.3,343.6 231.6,342.4 231.9,342.8 232.2,343.9 231.2,345.5 231.4,344.8 231.4,345.9 231.0,345.7 231.3,347.2 231.1,347.2 231.5,347.4 232.0,348.5 231.4,347.9 231.5,350.0 231.6,348.7 232.1,350.2 232.7,349.5 231.8,350.3 232.4,351.4 232.2,352.9 232.6,353.3 233.0,352.5 233.1,353.3 231.9,354.9 232.0,353.4 232.3,354.5 233.3,356.3 232.6,356.1 233.2,357.2 233.0,357.0 232.3,356.9 233.1,358.2 233.4,359.4 233.0,359.0 233.7,357.8 232.5,358.9 233.3,356.8 233.5,356.5 232.9,356.2 233.4,356.4 232.8,356.0 233.7,354.9 233.8,355.2 232.9,353.9 233.9,354.0 234.0,352.3 234.5,353.1 233.5,351.8 234.6,350.9 233.9,352.0 234.6,349.9 234.5,349.7 234.4,350.1 233.7,348.4 233.9,348.0 233.7,347.2 234.3,347.3 233.9,347.2 235.2,346.7 234.4,346.4 234.6,344.8 234.7,343.9 235.1,343.8 234.7,345.0 235.3,344.2 235.0,343.0 235.3,342.8 235.5,343.0 234.9,342.1 235.1,340.5 235.9,340.7 236.0,340.8 235.8,338.8 235.1,339.1 236.2,338.0 235.3,336.9 235.6,337.9 235.4,336.4 235.9,337.0 237.0,334.9 235.9,336.5 237.1,334.2 236.3,334.5 236.4,333.8 236.7,333.0 236.2,332.1 236.5,331.6 237.2,332.4 236.8,332.1 237.5,330.7 237.3,329.8 238.0,330.1 236.9,328.7 237.6,329.0 238.0,329.2 238.1,329.4 238.3,331.2 237.4,331.2 237.6,332.0 238.6,332.6 237.8,331.6 238.5,333.1 237.9,332.8 238.6,333.1 238.8,333.9 238.3,334.8 238.8,336.0 238.2,336.5 238.5,336.0 239.0,337.0 239.6,337.8 240.0,338.7 239.8,337.8 240.8,338.1 241.0,339.0 240.8,338.9 241.9,340.7 242.1,341.5 242.4,340.6 242.0,342.0 241.9,342.2 242.2,341.5 243.0,343.0 243.1,342.7 243.8,344.8 243.2,343.8 242.8,345.0 243.5,345.2 243.9,346.1 244.0,345.6 243.1,346.8 243.8,347.0 244.2,347.4 243.8,348.4 244.4,349.6 244.0,349.4 244.9,351.0 244.6,349.6 244.4,351.3 244.3,350.5 245.4,352.9 244.3,352.4 245.0,352.6 244.4,354.1 245.4,353.9 244.6,354.3 244.7,356.0 244.7,355.0 245.8,355.2 245.0,355.6 245.2,357.1 246.2,356.8 245.4,358.6 245.8,358.1 246.0,359.0 245.5,357.9 246.8,357.2 245.9,358.0 246.8,357.9 246.3,357.5 246.5,355.5 246.4,356.0 246.8,354.2 246.1,355.5 246.1,354.7 246.5,352.9 246.4,352.9 247.5,351.7 247.4,351.6 246.5,352.0 246.8,350.3 246.9,351.2 247.6,350.2 246.5,350.1 247.4,349.9 247.9,348.1 247.9,348.7 247.1,347.2 247.3,346.7 247.4,345.6 247.2,346.9 247.6,345.8 248.3,345.6 247.5,345.4 248.3,345.1 248.3,344.1 248.0,343.0 248.5,342.0 248.3,341.7 248.7,340.7 248.3,340.6 248.7,340.2 248.8,340.8 249.0,338.7 249.1,339.5 248.8,338.8 248.0,338.8 248.7,337.4 248.5,337.6 249.2,337.3 248.4,335.6 248.5,334.6 248.7,334.0 249.4,333.9 248.5,333.0 249.5,332.8 249.1,332.8 249.7,333.5 249.1,332.3 249.9,331.4 250.0,331.5 249.2,331.3 249.7,329.1 249.7,330.2 249.7,329.0 249.6,329.3 250.0,327.4 249.7,327.2 250.6,327.4 249.5,327.4 249.4,326.2 250.0,326.0 250.1,324.1 250.3,325.2 250.7,323.7 250.0,324.0 250.8,322.4 251.0,323.6 250.4,321.7 250.9,322.4 250.2,320.6 250.5,321.0 250.3,320.1 250.8,319.9 250.4,320.0 251.6,318.6 251.0,318.0 251.5,317.8 251.7,319.1 251.5,320.3 251.0,320.9 250.8,319.5 251.2,321.9 251.8,322.5 251.3,323.0 251.4,321.7 251.6,323.7 251.3,323.7 251.1,323.5 251.4,324.5 251.5,324.1 250.9,325.1 251.9,326.5 251.3,326.0 251.7,326.3 251.9,328.4 251.4,328.2 252.1,329.0 252.1,329.5 251.6,330.2 252.5,329.0 252.6,330.4 251.4,330.1 252.5,331.9 251.6,331.9 252.3,333.6 251.9,333.6 251.8,332.8 251.8,333.8 252.4,334.1 251.8,334.4 251.8,334.8 252.1,336.0 252.0,336.5 252.4,338.0 252.5,338.5 252.5,337.3 252.7,337.7 252.2,338.1 252.9,340.5 252.6,339.7 252.6,340.2 253.0,340.8 252.3,342.3 252.9,340.9 253.4,343.0 252.7,343.3 253.5,343.3 253.0,344.0 252.9,343.1 253.1,343.4 253.4,343.5 252.6,341.7 253.7,342.1 253.3,341.4 253.0,341.5 253.4,339.8 252.9,338.7 253.9,339.7 252.7,338.1 253.4,338.0 253.3,338.4 253.3,337.1 254.1,336.8 253.5,335.6 253.4,335.7 254.0,334.5 253.5,334.3 253.5,334.9 253.8,333.0 253.6,333.7 253.3,332.9 253.2,331.3 253.3,332.2 253.4,330.4 253.3,330.0 254.3,330.5 254.6,330.5 254.1,329.9 253.5,329.4 254.1,327.3 254.5,328.3 254.1,326.1 254.8,327.1 254.4,327.0 253.7,324.5 253.8,323.9 254.7,324.8 253.9,323.3 254.0,323.7 254.7,324.0 254.3,323.6 254.5,321.8 254.3,320.9 255.3,322.1 255.0,319.8 254.3,319.2 254.5,320.0 254.2,319.1 255.1,317.5 254.8,318.6 255.0,317.4 255.5,317.2 254.7,316.3 255.0,316.0 255.7,316.3 255.7,315.1 254.6,313.8 255.0,314.4 254.5,314.2 255.7,313.0 254.6,313.2 255.2,312.4 255.5,312.0 255.3,312.0 256.1,311.4 255.7,309.6 255.4,309.0 256.1,309.6 256.0,309.2 256.4,308.4 255.5,308.1 255.4,307.2 255.3,307.3 255.8,305.5 256.5,304.6 256.5,305.6 255.5,305.1 256.1,304.9 256.2,303.3 256.7,302.1 256.5,301.6 255.9,301.2 256.7,301.4 256.6,300.5 256.6,300.8 255.8,300.0 256.7,298.9 256.6,298.5 256.3,299.4 257.1,299.1 256.4,297.7 257.0,297.6 256.6,297.3 256.5,297.0 256.7,294.7 257.1,294.2 257.0,293.5 257.5,294.1 257.2,292.7 257.1,292.7 256.6,293.2 257.0,292.0 256.5,291.5 256.7,291.8 257.9,289.5 257.5,289.9 257.9,290.0 257.5,290.0 257.4,287.7 258.4,287.2 257.7,287.5 258.0,286.3 259.0,286.4 258.9,285.5 259.2,284.9 259.3,285.2 259.5,285.1 259.0,284.0 259.2,283.6 259.6,282.9 258.6,283.4 259.6,282.4 259.6,280.9 259.2,281.7 260.0,281.4 258.9,280.4 259.5,279.3 259.0,278.2 259.5,278.5 259.3,277.7 259.7,278.1 259.8,276.3 260.3,276.2 260.4,277.1 259.3,275.7 260.6,274.7 260.0,274.1 260.0,274.0 259.5,272.9 259.9,272.5 260.8,272.6 261.4,272.4 260.8,272.5 261.4,271.1 261.9,270.9 261.4,270.2 261.5,270.5 262.0,269.0 261.7,270.5 261.5,268.9 262.2,269.9 262.1,270.2 262.6,271.9 262.5,272.9 262.9,272.9 262.6,271.9 261.7,273.3 263.0,273.6 262.5,273.4 262.3,275.9 262.6,276.2 261.8,275.3 262.1,277.2 262.0,278.0 262.2,278.3 262.6,277.6 263.3,278.3 262.9,278.0 263.2,280.6 262.2,280.5 262.4,279.7 262.6,281.4 263.5,282.6 263.6,282.3 263.1,281.8 263.2,283.1 262.8,284.4 263.0,284.0 262.7,283.7 262.6,284.2 263.3,286.2 262.8,286.0 263.4,286.6 263.3,287.1 262.8,286.5 263.4,287.4 263.9,287.9 264.1,288.4 263.1,289.5 263.6,289.6 264.2,289.9 264.1,291.7 263.9,291.5 264.6,292.2 263.6,291.6 263.5,292.6 263.6,293.8 264.1,293.6 264.3,295.5 264.0,294.2 264.2,295.1 265.1,296.5 264.5,295.8 264.0,296.2 265.2,297.8 264.3,298.3 264.2,298.5 264.6,298.1 265.3,300.0 265.0,300.0 265.1,299.8 265.4,300.9 265.5,300.6 266.0,300.9 265.1,302.3 265.2,302.1 266.0,304.6 265.6,303.5 266.1,303.9 265.9,305.4 266.0,304.7 265.6,306.1 267.0,307.4 265.8,307.0 266.5,306.8 266.8,308.0 267.1,308.0 267.4,309.7 266.9,308.7 267.0,310.0 267.0,308.7 267.3,309.4 267.2,309.5 266.5,308.5 267.5,306.6 266.9,306.0 267.3,307.0 267.0,306.4 267.0,306.0 266.9,306.1 267.2,303.4 266.7,304.5 267.8,303.8 266.9,303.8 267.7,301.7 267.2,302.4 266.7,300.5 267.2,301.8 268.2,300.1 268.1,300.6 268.0,299.7 268.2,299.3 268.2,298.6 267.2,298.0 267.6,297.1 267.5,297.0 267.8,295.9 267.4,296.0 267.7,295.3 268.0,294.3 267.8,294.0 268.2,294.4 268.2,293.5 267.5,293.9 267.9,292.2 267.6,291.8 268.2,292.2 267.9,291.5 267.6,290.4 268.0,290.0 267.9,289.1 268.1,289.6 268.7,287.9 268.1,288.6 268.8,287.9 268.9,287.4 268.6,285.5 269.0,286.0 268.9,284.5 269.7,285.1 269.4,285.5 269.6,283.4 269.0,282.6 269.7,283.5 269.3,282.2 269.0,282.0 269.7,282.4 269.9,281.8 269.4,280.3 269.3,281.0 269.1,278.7 269.3,279.9 270.2,278.1 270.2,278.9 269.7,276.8 270.2,276.7 269.3,277.4 269.8,275.8 270.1,275.0 269.3,274.8 269.9,273.4 269.9,274.6 269.9,273.9 270.4,272.3 269.6,272.9 270.4,271.5 269.9,272.3 270.9,270.4 270.5,270.7 270.2,269.0 270.3,269.8 270.7,269.0 270.1,267.9 270.4,267.8 270.5,268.4 270.2,268.1 270.4,267.3 270.5,266.2 270.7,264.5 271.3,265.7 270.6,265.1 271.0,264.0 271.1,264.6 270.7,262.7 271.1,262.8 272.1,262.8 271.9,261.3 272.4,260.1 271.8,261.1 272.2,261.1 271.9,259.4 272.3,257.9 272.3,257.6 273.0,258.0 272.8,257.4 273.1,256.5 273.3,256.5 273.8,255.3 273.1,255.5 272.9,255.8 272.7,255.3 273.0,253.6 273.3,253.6 272.9,252.1 273.9,252.2 272.7,252.3 273.3,251.1 273.1,251.8 273.1,250.3 274.0,249.7 273.2,248.8 273.6,249.4 273.3,248.3 273.0,248.6 273.4,248.2 273.3,247.5 272.8,245.9 274.1,246.4 273.8,245.5 273.5,244.3 273.1,244.8 273.9,243.5 273.8,242.7 273.8,242.3 273.7,242.1 273.7,241.2 273.7,241.8 273.2,240.6 274.0,240.6 273.9,240.6 273.9,238.9 273.7,239.7 273.9,239.1 273.6,237.9 274.5,238.2 274.1,236.1 274.1,235.5 274.5,237.0 274.3,235.0 274.4,234.3 274.4,234.5 274.0,234.0 273.6,234.4 274.4,233.7 275.0,232.6 275.5,231.3 275.8,231.1 274.8,230.6 275.1,229.6 276.0,230.0 276.2,228.7 275.6,228.5 275.8,229.4 276.7,228.8 276.8,227.4 276.6,226.5 276.8,227.2 276.5,225.4 275.6,226.4 276.3,225.2 276.8,223.7 276.6,223.9 276.7,223.4 275.9,224.0 276.0,223.0 276.8,221.4 276.7,221.3 276.0,220.4 277.1,220.2 276.5,220.0 275.8,220.1 276.9,219.8 276.3,217.9 276.3,218.5 276.8,217.3 276.6,216.2 277.2,216.4 276.7,216.6 276.3,216.0 276.5,215.7 276.2,214.0 276.9,214.0 276.6,213.7 276.4,212.9 276.1,213.2 276.5,212.7 276.9,211.7 277.1,210.2 277.3,210.0 277.4,210.6 277.2,210.2 276.9,209.4 277.6,207.8 276.5,207.8 277.1,206.7 276.7,207.8 276.9,205.7 276.7,206.2 276.7,205.4 277.2,204.9 277.2,205.2 276.5,204.9 276.8,202.5 277.6,203.2 277.3,201.9 277.3,202.0 277.7,201.1 277.7,200.4 277.5,200.8 277.2,200.0 276.8,199.8 277.7,198.2 277.5,199.0 276.9,198.7 278.0,196.5 277.2,196.1 277.2,195.6 277.5,195.5 277.3,195.4 277.4,195.6 277.9,193.7 277.3,192.9 277.4,192.6 278.0,193.6 278.4,191.9 277.1,192.6 277.6,192.4 277.6,190.6 277.2,191.5 277.8,189.9 277.8,190.1 278.3,188.9 277.4,188.3 278.5,187.8 278.2,187.6 277.9,187.2 277.6,186.6 278.5,185.1 277.8,186.3 278.7,183.9 278.2,184.8 278.6,183.9 277.6,183.1 278.4,183.5 277.7,182.8 278.4,182.3 278.2,181.5 277.6,181.9 278.1,182.7 278.2,182.2 278.7,183.0 278.9,183.6 278.7,185.2 278.1,185.5 278.1,186.5 278.1,186.5 278.7,185.8 278.8,187.0 278.9,186.7 279.1,187.6 279.8,188.2 279.1,188.4 279.9,189.1 279.3,190.0 279.5,191.2 279.2,191.6 279.1,190.6 278.8,191.9 280.0,191.8 279.4,193.6 279.2,192.7 279.6,193.8 280.2,195.4 279.2,195.1 279.5,194.5 279.6,196.9 279.4,196.7 280.0,196.0 280.4,196.6 279.5,198.5 279.2,198.2 279.3,198.9 279.2,198.7 279.5,199.1 279.4,199.8 280.0,200.2 280.5,201.3 279.7,201.4 280.6,201.5 280.5,202.1 280.8,203.3 280.3,204.8 279.6,203.5 280.5,205.2 280.6,205.0 280.3,206.0 280.3,205.8 280.3,206.5 280.6,207.1 280.2,208.3 280.0,209.2 280.6,208.4 280.1,209.5 280.7,210.5 280.6,210.3 281.3,210.5 281.5,212.4 281.6,213.0 280.6,213.2 281.2,212.3 281.7,213.8 281.5,214.1 280.6,215.3 280.7,214.5 281.4,214.8 281.2,216.5 280.8,216.9 280.8,216.9 281.7,217.9 281.5,218.0 280.9,217.8 282.2,218.8 281.5,219.2 281.9,220.5 281.9,220.3 281.8,221.0 281.3,222.5 282.4,222.6 282.5,222.4 282.3,222.4 282.2,224.0 282.5,224.7 282.4,224.0 282.3,224.9 281.7,225.2 282.4,226.8 282.5,226.9 281.6,226.2 282.2,226.9 281.9,227.1 281.7,229.0 281.8,229.8 282.0,230.3 282.0,229.5 282.1,229.4 282.2,230.7 281.7,232.3 282.2,230.9 283.1,231.9 282.1,232.0 281.9,234.0 282.6,234.0 282.2,234.0 283.2,234.7 283.3,236.4 282.1,236.8 282.0,237.0 283.1,237.4 282.8,238.2 282.3,238.1 282.5,238.3 282.4,239.5 282.9,240.1 283.1,240.2 283.5,241.2 283.0,240.6 283.6,241.2 283.0,242.0 282.5,242.1 283.3,243.9 283.2,243.9 283.7,244.6 283.0,244.4 283.5,244.6 282.6,245.8 283.5,245.4 283.4,247.4 282.6,246.2 283.2,247.1 283.8,249.1 283.1,249.1 283.4,248.3 283.9,248.8 282.6,249.9 282.6,250.5 283.1,252.0 283.2,252.3 283.7,252.2 282.9,252.1 283.3,252.8 283.5,253.5 283.1,254.2 284.1,253.8 283.1,253.9 282.8,254.5 283.3,256.7 283.7,257.5 283.9,257.2 283.6,256.4 283.3,257.5 283.7,257.5 283.6,258.7 283.5,259.3 283.0,260.5 284.0,260.7 283.0,261.2 284.1,262.6 283.9,261.0 284.1,262.9 283.3,263.9 284.1,264.4 283.3,264.2 283.5,264.1 284.0,265.3 283.4,265.6 284.3,266.1 284.3,266.6 284.4,266.0 283.7,267.6 284.1,269.0 283.9,268.5 284.0,269.1 284.1,270.5 283.1,269.6 284.4,269.5 284.3,270.0 284.1,272.2 283.5,271.7 283.5,273.0 283.9,273.2 283.7,273.7 284.6,274.6 284.6,273.9 284.0,274.7 283.8,276.2 283.5,276.1 284.4,277.5 283.3,276.5 284.0,278.5 283.6,278.7 283.9,278.6 284.7,278.0 283.9,278.7 283.6,279.6 284.4,280.7 283.6,281.7 284.2,280.7 284.6,282.7 283.8,283.5 284.6,282.4 283.5,284.3 284.7,283.1 284.6,285.1 284.4,285.7 284.9,285.1 284.8,286.9 284.0,286.9 284.6,287.8 284.4,287.0 284.0,288.1 283.8,289.3 284.9,288.4 284.7,289.9 284.4,290.0 284.0,290.1 284.9,288.6 284.1,288.0 285.1,287.9 285.2,286.8 284.3,286.7 285.5,285.8 284.4,286.6 284.5,285.9 284.6,284.4 285.5,285.3 285.2,283.9 284.8,283.1 285.2,283.6 285.9,283.1 285.7,282.4 285.2,281.2 285.6,280.5 286.3,279.9 286.0,280.0 285.8,279.0 286.5,279.3 286.0,278.2 286.7,279.0 286.0,277.6 286.6,276.5 285.8,275.6 286.1,276.6 285.7,275.4 286.9,275.0 286.0,275.2 286.8,273.7 285.7,273.8 286.6,273.9 286.5,272.1 286.3,271.5 286.2,271.4 286.9,271.9 286.9,270.5 287.0,269.2 287.0,269.8 286.9,268.8 287.1,267.5 286.9,268.7 286.3,268.2 286.1,267.6 286.4,266.3 286.1,266.7 286.8,264.6 287.2,264.4 286.4,264.3 286.7,264.9 287.2,263.8 286.4,262.1 286.0,262.5 286.8,261.9 287.3,261.3 286.5,260.8 286.2,261.5 286.8,260.1 286.6,259.0 286.5,259.0 286.7,259.6 286.9,257.4 286.2,256.8 286.6,257.6 287.4,255.9 287.2,255.9 286.9,255.6 286.3,254.0 287.1,254.9 286.8,254.9 287.4,253.1 286.4,253.1 287.2,251.9 287.0,252.0 286.4,251.5 286.4,251.5 287.3,250.0 287.0,249.4 286.7,248.8 287.6,248.9 287.5,248.2 287.6,248.2 287.4,247.3 287.3,246.3 287.9,246.9 287.3,246.3 286.8,245.1 287.0,245.8 286.7,244.4 287.9,244.6 287.7,243.1 287.1,243.4 287.2,243.0 287.3,242.6 287.6,242.2 288.2,240.7 288.3,239.4 288.1,239.0 287.7,239.3 288.0,238.6 287.3,239.1 287.8,238.6 287.7,236.5 288.1,236.4 287.7,235.4 287.5,236.4 288.2,235.8 287.8,235.5 288.1,233.9 287.9,234.2 288.2,232.8 287.7,232.7 287.4,232.2 288.3,232.2 287.6,232.0 287.5,231.6 287.6,229.6 287.8,230.0 287.8,230.3 288.8,228.5 288.5,228.9 288.3,227.5 288.9,228.5 287.6,226.6 288.0,225.8 288.2,226.9 287.7,226.2 288.1,223.9 288.9,224.0 288.0,223.2 288.2,222.7 288.0,222.5 288.6,222.4 288.2,222.1 288.9,222.0 288.3,221.9 289.0,220.6 288.6,219.6 288.1,220.3 288.8,218.1 289.3,219.4 288.0,218.4 288.4,217.6 289.2,216.7 288.8,216.9 288.4,216.3 288.7,216.6 288.4,215.5 288.2,214.0 288.4,213.2 289.0,212.8 289.4,212.1 289.1,213.3 289.0,212.0 288.5,211.9 289.5,212.9 289.8,213.1 289.1,215.0 289.1,215.5 289.9,214.3 289.5,216.5 288.9,216.8 289.9,217.0 289.7,216.1 290.3,216.6 290.1,218.5 289.5,218.9 289.7,219.6 289.2,220.5 289.7,220.7 289.9,221.2 289.7,221.1 289.4,221.5 289.5,222.8 290.4,222.3 290.9,224.0 290.9,222.6 290.6,224.5 290.5,223.4 291.0,224.9 290.6,226.2 290.2,225.0 291.2,226.0 290.0,226.2 291.4,228.0 290.4,227.2 291.4,228.9 291.0,228.2 290.8,230.5 291.0,230.0 290.8,229.8 291.4,231.1 291.9,231.0 293.0,230.0 293.5,231.0 292.4,231.4 293.1,231.5 292.6,232.0 293.6,231.7 293.7,232.8 292.9,232.9 293.2,234.3 293.3,235.4 293.3,235.0 294.0,234.9 292.6,235.6 293.1,235.7 293.3,236.0 294.0,237.5 294.0,238.4 293.8,239.1 293.2,239.5 293.1,239.6 293.7,240.6 293.1,240.2 294.0,241.7 294.3,240.7 293.2,241.1 294.0,243.0 293.9,243.6 293.7,243.6 294.3,244.3 294.0,244.7 293.8,245.6 293.9,244.7 293.7,245.8 293.8,246.6 293.7,246.8 293.8,247.2 294.6,247.1 293.3,249.0 293.9,248.9 294.2,249.2 293.7,248.9 294.6,251.5 293.8,250.9 293.9,250.5 294.7,252.7 293.8,252.0 294.5,253.7 294.2,253.3 293.9,254.7 294.8,255.3 293.8,255.2 295.0,256.0 294.3,255.2 293.8,257.0 293.8,257.7 294.7,257.4 295.0,259.0 294.7,257.6 294.7,258.8 294.2,260.4 294.9,259.2 294.2,260.2 294.7,260.6 294.6,262.2 294.2,262.5 294.5,263.5 295.4,262.6 294.9,262.6 294.7,264.3 295.0,264.2 294.2,264.2 295.0,264.8 294.6,266.3 295.5,266.5 294.6,267.2 294.7,268.1 295.0,268.0 294.6,267.0 295.0,267.9 294.7,265.8 294.7,265.4 295.0,265.3 295.6,264.8 295.3,264.3 295.7,264.9 295.3,264.4 295.1,264.1 295.5,262.9 295.4,261.5 295.1,262.3 295.4,261.4 295.6,260.6 295.3,259.3 295.5,259.9 295.9,257.9 296.2,258.4 295.3,257.5 295.6,258.2 296.1,256.6 295.7,256.0 295.8,255.7 296.5,256.1 296.5,255.8 296.4,253.6 295.6,253.3 296.0,253.6 296.8,253.2 296.3,251.9 297.1,252.6 296.3,250.5 297.2,250.5 297.1,249.7 296.9,249.7 297.2,249.1 296.2,248.3 297.2,249.6 297.0,248.4 296.6,247.0 296.3,248.1 296.3,246.7 297.0,246.0 296.8,245.8 297.0,247.9 296.7,246.8 297.3,248.3 297.1,247.8 297.7,248.1 296.7,248.9 297.2,249.9 297.3,251.0 297.8,250.9 296.6,252.2 296.6,251.6 296.8,252.7 297.7,252.2 297.1,254.3 297.7,253.1 297.7,255.1 297.3,254.2 297.7,255.1 297.0,255.3 297.4,255.7 297.4,257.1 297.6,257.3 298.0,257.1 297.4,259.5 298.2,259.9 298.0,259.6 298.1,260.2 297.2,260.0 297.2,261.8 297.5,261.3 297.9,261.1 298.1,263.2 298.3,263.8 297.6,262.7 298.3,264.4 297.7,264.2 297.5,265.7 297.9,266.2 297.8,265.6 298.0,267.0 298.6,266.7 298.3,267.3 298.6,268.6 298.2,268.2 297.8,269.8 298.6,269.1 297.6,269.3 298.9,269.5 298.7,271.1 298.4,271.6 298.2,272.1 297.8,273.4 297.8,272.2 298.6,273.8 298.8,274.4 299.0,273.5 297.8,274.4 298.9,274.7 298.5,276.6 298.0,276.6 299.1,277.5 298.4,277.5 298.3,279.0 299.0,278.9 298.4,279.5 298.7,280.2 298.5,280.8 299.0,280.4 298.8,281.7 298.8,282.5 298.1,282.9 299.1,282.5 299.3,282.2 298.6,284.0 299.4,283.7 299.6,284.8 298.3,284.2 298.4,285.7 299.0,286.0 298.8,286.0 299.0,286.1 299.7,288.2 299.2,287.9 298.9,288.7 299.0,290.0 299.9,290.0 299.7,289.1 298.8,290.2 298.8,290.8 300.1,292.2 300.1,291.4 299.1,291.5 299.2,292.0 299.6,293.1 299.8,294.1 299.7,294.1 300.0,295.4 300.0,295.4 299.7,295.5 299.1,296.4 299.9,296.3 300.3,298.3 300.4,298.7 299.9,297.8 299.6,299.5 300.6,298.6 300.0,300.0 299.4,299.2 300.0,299.2 299.8,299.3 300.3,298.9 300.4,297.1 300.3,298.0 301.0,297.2 300.4,296.1 301.5,296.6 301.9,294.1 301.2,295.6 301.5,295.0 301.3,292.5 302.4,292.5 302.0,292.2 302.0,292.0 302.1,293.5 302.7,293.8 301.8,294.2 301.5,293.8 302.8,294.0 302.1,295.2 301.9,296.0 302.5,295.1 302.9,295.6 302.7,296.7 301.9,296.6 303.2,298.7 302.5,299.1 303.2,299.9 302.6,299.0 302.7,301.1 303.0,300.9 303.2,300.8 302.8,302.3 302.4,302.8 302.2,302.6 303.0,302.2 303.5,303.4 302.5,303.8 303.1,304.3 302.3,304.1 303.4,304.7 302.8,306.7 303.7,307.3 302.7,305.9 303.6,307.7 303.1,306.9 303.2,307.9 303.5,310.1 303.0,308.6 303.7,309.1 303.1,310.4 304.2,310.6 303.3,311.4 303.1,311.8 303.9,312.1 304.1,312.3 303.2,313.8 303.7,314.9 303.2,315.0 304.1,314.7 303.4,315.7 304.3,315.9 303.9,316.9 304.0,317.0 304.2,316.3 303.7,315.9 304.2,316.4 304.9,315.1 304.1,313.9 304.5,314.5 304.1,313.9 305.2,312.8 305.1,312.4 304.8,312.8 304.2,311.2 305.4,310.0 304.5,310.4 305.2,310.3 305.5,309.9 304.2,308.1 304.4,308.3 304.4,308.1 305.3,306.8 305.7,306.8 305.9,306.2 305.5,306.1 305.0,306.1 304.7,304.4 305.2,305.3 305.5,303.0 305.3,303.7 306.1,302.1 306.1,302.3 305.8,301.8 305.7,302.6 306.5,301.9 306.3,300.9 306.0,300.0 305.5,298.5 306.6,299.4 306.3,298.1 305.9,298.9 306.3,296.4 306.1,296.7 305.7,297.6 307.0,296.7 305.8,295.3 306.0,295.5 307.0,295.1 307.0,293.2 306.0,292.6 307.2,293.7 306.8,291.9 307.3,291.2 306.6,290.4 307.6,290.8 307.3,291.2 307.1,291.1 307.4,290.4 307.7,288.1 307.5,287.9 307.0,287.7 307.9,286.5 307.2,286.2 308.0,286.5 307.7,286.0 307.8,285.1 307.4,285.5 307.8,285.4 307.3,284.8 308.0,283.7 307.6,283.1 307.2,281.6 307.5,281.2 307.2,282.0 308.2,281.3 307.5,281.0 308.0,280.0 308.5,279.8 307.7,279.1 308.0,278.0 307.7,278.8 308.4,278.5 307.8,276.5 308.3,275.5 308.1,276.1 308.3,276.4 308.5,275.3 308.6,275.1 308.3,272.9 309.2,274.1 308.1,272.1 308.2,272.8 308.2,270.9 308.7,270.4 308.4,270.7 308.4,269.4 308.5,269.4 308.6,269.3 308.7,268.6 308.3,269.2 309.0,268.0 309.4,268.5 308.5,268.4 309.8,269.4 308.9,270.7 310.0,269.7 309.5,271.1 309.0,271.1 309.8,272.4 309.9,272.8 309.7,272.1 309.2,274.2 310.5,274.9 309.5,275.1 309.7,274.7 309.8,276.3 310.8,276.7 310.3,277.5 310.2,277.2 310.8,276.9 310.5,277.1 311.2,277.8 310.3,278.5 311.1,279.8 311.0,280.0 311.1,281.3 311.4,280.4 311.1,280.8 310.8,281.2 310.6,282.2 311.7,283.3 310.6,282.9 311.4,284.1 310.6,283.6 311.4,285.2 310.8,286.1 311.0,286.2 311.4,286.1 312.1,286.8 311.4,287.6 312.0,289.1 311.9,288.6 311.9,289.3 312.2,290.5 312.0,289.4 311.8,290.4 311.3,291.6 311.3,292.0 311.7,291.8 312.1,293.0 312.5,294.1 312.3,293.0 312.1,294.0 312.5,294.4 311.7,294.0 311.9,295.6 312.0,296.0 312.0,295.6 312.5,296.1 312.3,297.4 312.8,298.0 313.3,298.3 313.0,297.9 313.8,300.5 314.0,300.0 313.7,300.2 313.8,301.5 314.1,302.2 313.5,301.2 313.8,302.2 314.1,302.7 315.0,303.4 314.5,305.0 314.6,304.7 314.9,304.6 313.9,306.5 314.6,306.2 314.0,307.0 314.5,307.3 314.4,308.4 314.5,307.5 315.3,307.9 314.5,309.0 315.5,308.7 314.5,310.7 314.4,310.3 315.4,311.5 315.5,310.7 315.6,311.7 315.6,312.4 315.7,313.0 314.9,312.7 315.3,313.0 314.8,315.3 315.5,315.8 314.9,315.5 315.4,315.1 315.2,317.4 315.9,317.0 315.7,318.3 316.3,318.2 315.1,319.3 315.3,318.4 315.3,319.5 315.9,319.9 315.8,319.7 316.2,321.1 315.7,322.2 316.0,322.0 316.7,322.4 316.8,320.1 316.0,320.4 315.8,320.5 316.7,318.7 316.2,320.0 316.8,318.4 315.7,317.9 316.3,318.1 315.9,316.5 317.1,315.4 316.6,315.1 316.8,315.3 317.1,314.4 317.1,313.9 315.9,313.1 316.0,313.3 317.3,312.7 317.0,311.5 316.7,312.1 316.2,311.7 316.7,310.6 317.3,310.9 316.3,309.1 316.3,309.0 317.1,310.0 317.6,309.3 317.0,308.0 316.5,309.1 317.5,308.9 317.8,309.7 316.6,309.4 316.7,310.7 317.4,311.8 316.6,310.4 318.0,311.5 317.1,313.3 316.9,313.6 318.1,313.6 317.7,312.9 317.7,314.8 318.0,315.0 317.1,314.9 317.9,315.1 317.2,316.0 318.2,317.1 317.7,318.5 318.0,317.4 318.0,319.3 317.8,318.9 318.2,320.6 318.3,319.3 318.3,320.1 318.1,321.5 317.6,321.5 318.0,322.2 318.8,322.4 318.5,322.5 318.1,323.5 318.5,323.4 318.9,324.5 318.3,324.5 319.1,326.4 319.2,325.4 318.1,326.8 318.1,327.8 319.0,327.1 318.7,328.4 318.4,328.2 319.3,329.4 319.1,328.6 319.0,330.0 318.6,330.0 318.4,331.3 319.2,332.4 319.2,332.9 319.1,332.5 318.9,332.9 319.9,333.5 318.6,333.7 318.9,334.8 319.4,334.9 320.0,336.1 318.9,335.0 319.7,336.7 319.7,337.0 318.9,337.4 320.0,338.2 319.0,337.7 320.2,339.1 319.2,340.0 320.3,340.8 320.0,341.2 319.2,340.9 320.3,341.2 319.4,342.8 320.2,341.4 319.3,343.1 320.6,343.8 320.0,344.0 320.6,342.6 320.3,342.3 320.0,341.7 320.3,341.0 320.6,341.8 321.1,341.6 320.0,341.3 320.7,341.0 320.7,338.6 321.1,338.3 321.6,338.6 321.6,338.0 320.8,337.9 321.5,336.9 320.9,336.3 321.6,335.4 320.9,335.5 321.7,334.0 321.3,335.5 321.3,334.6 321.5,332.6 321.8,333.8 322.3,331.5 322.0,332.0 322.5,332.8 322.3,333.4 322.5,332.8 322.9,333.2 322.6,335.3 323.1,335.0 323.5,335.5 323.2,336.1 322.8,336.2 323.0,338.1 324.4,337.8 324.0,338.0 323.6,338.3 323.8,337.7 324.3,336.7 324.5,335.5 324.6,335.6 324.6,335.7 323.9,334.3 324.1,333.1 324.8,333.9 324.3,333.1 324.9,331.6 324.2,332.4 324.5,331.5 324.1,330.4 324.7,330.2 325.1,330.9 325.2,329.0 324.6,328.1 324.4,327.6 324.7,329.0 325.1,327.2 324.4,327.9 324.1,327.3 325.3,325.1 325.5,325.8 324.7,324.8 325.1,324.6 325.4,324.9 324.7,322.4 325.4,323.3 325.3,321.6 324.5,322.9 324.9,321.4 325.8,320.3 325.4,319.5 325.3,320.5 324.8,320.1 325.9,319.7 325.7,319.5 325.6,318.1 325.8,318.2 325.6,317.4 325.0,316.1 325.2,316.8 325.9,315.0 326.2,314.0 325.0,314.1 325.0,315.0 325.4,313.3 326.2,313.1 325.9,312.4 325.7,313.0 325.5,311.6 325.8,310.2 325.3,310.5 326.3,309.9 325.3,310.5 325.4,309.8 325.3,308.8 326.0,308.0 325.8,307.0 326.4,307.6 326.7,306.3 326.9,306.0 326.9,306.5 327.1,304.2 327.8,304.2 328.0,304.0 328.3,303.5 328.3,304.7 328.7,305.1 328.0,305.6 328.1,306.0 328.4,306.8 328.4,307.0 328.1,308.1 328.5,308.8 328.1,308.1 327.7,308.7 327.8,309.3 328.5,310.1 328.9,310.4 327.9,310.8 327.8,312.4 328.4,312.0 328.8,313.4 328.3,313.7 328.6,313.9 327.8,314.2 329.1,314.7 328.7,314.6 328.9,316.8 328.3,316.2 328.5,316.5 328.1,316.7 328.8,318.0 329.2,319.5 329.1,320.0 329.1,318.5 328.1,321.0 329.2,320.8 328.8,320.9 328.6,320.7 328.8,321.5 328.2,323.3 328.9,323.8 328.5,323.7 328.5,324.7 328.4,324.8 328.9,324.6 328.3,325.5 328.9,326.7 328.5,325.8 328.6,327.7 328.6,327.8 328.3,327.1 329.3,328.5 328.5,328.9 329.6,329.3 329.1,329.8 329.1,329.5 329.6,331.2 328.9,331.0 328.7,333.0 329.6,332.2 329.3,333.1 328.8,332.5 329.5,333.3 329.3,333.4 328.6,334.3 329.5,335.7 330.0,336.4 329.3,335.4 330.0,337.0 329.8,336.5 329.8,337.9 329.0,338.3 328.8,339.2 329.0,339.9 329.0,340.4 329.6,341.0 330.1,340.5 329.8,341.3 330.1,342.7 329.9,342.7 329.2,343.9 330.2,344.5 329.6,344.0 329.4,344.2 329.9,343.7 330.1,342.4 329.6,342.7 330.0,341.6 330.3,340.0 329.1,340.4 329.3,340.8 329.3,340.3 329.5,338.2 330.3,338.9 329.8,338.2 330.0,338.5 330.0,337.1 330.0,336.3 330.3,335.1 330.3,336.4 330.5,335.1 329.9,333.6 329.6,334.1 330.7,334.3 329.7,333.5 330.6,332.5 330.7,331.3 330.0,331.5 330.6,330.9 330.0,331.3 330.2,329.8 330.0,329.5 330.7,328.7 330.7,328.5 329.8,329.0 330.2,327.6 331.2,326.4 329.9,325.9 330.1,326.8 330.6,324.5 330.3,325.0 330.2,324.1 331.2,323.9 330.3,323.7 330.2,323.0 331.0,321.6 330.9,321.6 331.2,321.8 331.4,321.2 330.4,319.8 331.2,320.7 330.3,319.3 330.6,318.9 331.5,318.6 331.0,318.0 331.7,319.0 331.5,319.1 332.0,319.1 332.6,320.0 333.0,320.0 332.6,321.2 332.6,320.6 333.6,322.6 332.9,323.0 332.5,323.5 332.7,322.0 333.5,322.8 333.5,322.9 332.7,324.2 332.6,324.9 333.0,326.0 333.3,327.0 333.8,325.8 333.9,327.9 333.4,327.6 332.9,327.6 333.0,327.8 333.6,328.6 333.8,329.7 333.9,329.1 334.0,330.5 333.7,330.4 333.8,331.3 333.9,332.2 333.1,332.1 333.9,331.9 333.8,333.6 333.9,333.6 333.6,334.4 334.0,334.1 333.7,335.0 333.9,335.5 333.3,335.9 334.3,336.7 334.3,338.0 333.5,338.1 333.2,339.5 334.0,338.1 333.9,339.5 334.1,339.5 334.5,340.8 333.4,341.7 334.5,341.1 334.0,342.0 334.4,342.3 334.7,340.1 334.7,339.9 334.8,340.4 334.4,340.4 334.9,340.1 335.2,338.7 335.0,338.4 334.6,337.5 334.8,336.4 334.6,337.3 335.5,336.4 335.3,335.5 335.3,335.4 334.6,334.4 336.0,333.4 335.4,332.6 335.2,333.7 334.9,333.2 336.1,332.8 335.4,332.4 335.7,330.9 336.5,330.6 336.0,330.0 336.3,329.6 335.4,330.5 335.6,332.2 335.9,333.0 336.6,331.8 336.7,332.6 336.5,332.6 337.0,334.6 336.7,334.9 336.4,334.2 336.4,336.0 336.8,335.2 336.4,336.4 336.2,336.0 336.9,336.7 337.5,337.2 337.4,339.1 336.9,339.1 337.9,339.8 337.1,341.0 337.0,341.5 337.1,340.8 337.2,341.8 338.0,342.4 337.1,343.6 337.9,343.0 338.2,342.6 337.9,344.6 338.2,344.9 337.3,345.0 337.6,345.7 338.0,346.0 337.9,346.4 338.2,347.2 338.7,347.0 337.9,347.3 337.7,349.3 338.9,348.2 338.2,350.4 339.0,351.1 339.2,350.1 337.9,350.4 338.6,350.4 338.3,351.9 339.0,351.7 338.3,352.6 338.3,352.7 338.3,354.7 339.5,353.5 339.4,355.8 339.3,355.1 339.6,355.1 338.5,357.5 338.8,357.9 339.6,356.5 338.8,358.3 338.9,358.9 339.7,358.4 339.5,358.9 340.1,360.3 339.9,360.8 339.1,361.8 340.1,361.5 339.9,362.0 340.2,362.6 339.6,363.0 339.5,362.4 340.0,364.0 340.1,365.3 340.4,364.4 340.1,365.7 340.2,365.9 340.2,366.9 340.7,367.0 340.6,367.9 339.7,367.5 340.0,368.2 340.3,368.5 341.1,370.0 340.2,370.4 341.0,369.8 340.6,372.0 340.3,372.3 341.0,371.6 340.1,373.2 340.5,372.7 340.6,374.0 341.2,374.9 341.1,373.8 340.6,373.9 340.3,375.1 340.3,375.9 340.3,376.8 340.7,376.4 341.2,377.1 340.3,378.7 341.3,379.3 340.7,378.5 341.3,378.7 341.7,380.3 341.2,379.5 340.8,380.8 341.8,380.7 341.3,381.1 341.9,383.0 341.7,383.5 340.9,382.9 340.7,384.1 340.8,383.8 340.9,385.9 341.8,385.0 342.1,385.3 341.0,386.2 342.0,386.1 342.0,387.6 342.0,387.6 341.0,387.6 342.0,389.0 342.1,388.8 341.4,389.4 342.3,390.9 341.3,391.5 341.2,391.4 341.5,392.6 342.2,392.9 341.5,392.0 342.2,393.9 342.0,394.0 341.4,394.2 342.6,392.7 342.2,392.8 342.8,392.3 342.2,392.1 342.2,390.0 342.4,390.3 342.1,389.8 342.0,389.1 342.8,389.8 342.4,389.3 342.0,388.0 342.9,388.1 342.4,386.3 343.3,386.7 342.9,385.7 342.2,385.7 342.6,385.9 343.0,385.1 342.9,384.6 342.4,384.6 343.0,383.2 342.5,381.6 343.3,382.5 343.3,381.0 343.1,381.6 343.3,381.4 342.6,380.6 342.5,379.8 343.3,378.1 343.2,378.9 343.8,377.1 343.4,378.1 342.9,377.9 344.1,376.2 343.1,375.2 343.1,375.3 343.9,376.0 343.7,375.5 343.6,374.3 343.0,373.3 343.1,372.2 344.2,371.7 343.6,372.1 343.9,370.5 343.4,371.4 343.8,369.6 344.0,370.0 344.1,369.2 344.9,368.0 343.8,367.6 344.4,369.0 344.8,366.6 344.6,366.7 345.3,367.0 344.8,365.5 344.7,365.6 344.7,365.1 344.3,364.3 345.7,363.8 345.1,364.1 345.6,363.5 345.1,363.0 344.9,362.3 344.7,360.8 345.0,360.7 345.9,359.4 346.2,359.1 346.4,360.5 346.0,359.7 346.5,358.4 346.0,358.0 346.5,356.5 346.5,357.3 346.5,355.7 345.5,356.1 346.3,355.9 345.7,355.1 346.9,354.0 346.7,355.0 346.5,353.4 346.2,352.9 345.8,351.6 346.1,351.3 347.0,351.2 347.0,351.1 347.0,351.4 346.8,349.9 346.2,349.6 346.3,349.7 346.0,348.8 346.4,347.8 346.7,348.6 347.4,346.7 347.4,347.5 346.8,346.1 346.4,346.1 346.8,345.6 347.4,344.8 347.1,344.1 346.4,343.4 346.3,342.3 347.6,342.2 346.5,341.9 346.4,341.7 346.7,340.4 347.3,341.4 346.4,340.5 347.3,339.5 347.1,337.9 347.0,338.6 347.0,339.1 347.1,338.3 347.7,337.6 347.3,336.5 347.9,335.2 347.0,334.4 347.4,334.9 348.1,335.4 347.4,334.0 347.0,334.1 347.6,332.3 348.1,331.5 347.2,331.9 348.4,330.7 347.4,331.6 347.5,331.4 347.1,329.4 347.5,330.3 347.3,329.4 348.4,329.5 348.3,327.0 347.9,326.9 347.4,326.4 348.3,326.7 348.0,326.0 347.5,326.0 347.5,327.9 348.4,327.4 348.8,329.1 347.7,328.0 347.8,329.3 348.4,329.5 348.6,330.1 348.0,330.9 348.9,330.0 348.3,330.7 348.7,331.8 348.9,332.9 349.1,333.2 348.6,334.5 348.9,333.6 348.0,335.4 348.0,335.9 349.2,335.9 349.3,336.2 349.0,336.7 348.3,336.1 349.1,337.4 348.2,338.1 348.5,338.0 349.3,339.3 349.2,340.2 348.8,339.9 348.8,340.2 349.3,341.8 348.7,342.0 348.6,340.9 349.3,343.1 348.8,344.1 349.4,343.1 349.5,344.8 348.7,345.4 349.1,344.5 349.0,345.6 349.3,345.5 348.7,346.8 349.6,347.4 349.2,348.3 348.7,347.2 348.7,348.6 349.5,348.4 349.5,348.4 348.9,351.0 350.1,349.6 349.8,351.0 349.6,352.2 349.8,353.0 349.9,353.4 349.2,353.7 349.5,354.4 350.2,355.0 350.1,354.3 349.8,355.6 349.2,355.6 350.0,356.5 349.7,356.7 350.3,356.7 350.2,358.4 350.0,358.0 349.9,358.6 350.2,359.7 350.0,359.0 350.2,360.3 350.0,361.6 350.6,361.5 350.6,360.5 350.6,362.2 350.3,363.6 351.1,362.9 350.4,362.9 351.0,364.3 350.8,364.5 351.1,365.1 351.8,365.5 352.0,366.3 351.1,366.8 351.8,367.6 352.5,367.2 352.0,368.0 352.6,367.9 352.3,367.9 352.6,369.4 352.2,370.0 352.1,369.9 352.6,371.3 351.8,371.0 353.1,371.5 352.3,372.7 352.4,374.0 353.4,372.7 352.4,373.3 352.7,374.0 353.1,375.8 352.3,374.5 353.0,376.0 352.5,375.1 352.5,374.8 352.9,375.0 353.8,375.1 353.0,373.8 352.6,373.2 353.7,373.3 352.7,371.3 353.8,371.9 353.6,370.0 353.4,369.5 353.6,370.6 353.1,368.4 353.7,370.1 353.5,368.2 353.2,368.7 354.1,367.2 353.1,368.1 353.4,366.4 353.2,366.5 354.2,365.4 354.0,364.8 353.5,365.2 354.3,364.6 353.9,364.2 354.2,364.0 353.7,362.3 353.0,362.1 353.5,360.4 354.4,360.6 354.4,359.4 353.6,360.6 354.1,359.9 353.8,358.1 354.3,359.1 353.9,358.1 354.4,357.5 353.9,357.0 354.3,357.0 353.8,356.6 353.9,355.9 353.9,355.9 354.7,355.1 353.9,353.7 354.0,353.7 353.5,353.1 354.8,351.5 354.7,352.2 354.9,352.0 354.6,351.6 354.2,349.7 354.8,350.8 354.6,348.9 354.3,349.0 354.2,348.5 354.4,348.0 354.4,349.6 354.7,350.0 355.1,348.8 355.0,349.7 354.8,350.6 355.0,350.6 355.0,351.2 355.2,352.0 355.1,353.6 354.6,351.9 355.5,353.6 355.2,354.7 355.6,354.2 355.8,354.8 355.5,356.2 355.0,355.8 355.1,356.2 355.2,357.8 354.7,358.6 355.8,358.1 355.6,358.1 355.9,359.8 355.4,359.5 355.2,359.5 356.1,360.8 355.6,361.3 355.3,360.4 355.6,362.2 355.4,362.6 355.7,362.5 356.3,363.2 356.0,364.0 356.5,364.0 356.1,362.0 356.9,362.6 356.6,362.4 356.7,362.4 356.1,362.0 357.0,360.3 357.6,360.9 357.3,358.4 357.4,358.8 357.5,359.2 357.0,358.8 357.4,357.0 357.1,356.1 357.5,356.6 358.0,356.0 358.9,354.8 358.2,354.7 358.9,354.2 359.2,353.2 358.6,353.7 359.8,352.2 359.1,352.9 360.0,352.0 359.4,352.4 360.3,350.3 360.0,349.5 359.5,349.7 360.7,350.4 360.5,349.3 360.3,348.5 360.4,348.0 360.1,348.2 360.0,346.8 360.6,347.5 360.1,345.9 360.2,344.9 360.2,345.6 360.0,344.5 360.1,344.2 360.9,342.7 360.5,342.3 360.7,342.9 360.2,341.4 360.3,341.1 361.2,341.8 361.0,340.3 360.6,339.3 360.6,340.5 360.2,338.8 360.3,339.3 360.5,338.0 360.2,337.9 360.9,337.7 361.2,337.0 360.6,335.5 361.1,334.5 361.6,335.5 361.0,334.2 360.4,334.1 361.4,332.7 360.5,333.4 361.0,333.1 361.0,333.1 361.7,331.1 361.2,331.2 361.1,331.2 361.5,330.7 360.9,329.5 361.3,329.2 360.6,329.2 361.3,327.2 361.9,327.6 361.7,327.5 361.6,327.4 360.8,325.6 361.0,325.8 361.1,324.0 361.0,323.8 361.6,323.9 361.5,322.4 361.7,322.5 361.1,321.5 361.2,321.8 361.2,321.4 361.3,321.5 362.3,320.1 361.2,321.0 361.2,319.8 362.2,319.0 362.4,317.7 362.2,318.9 362.5,318.3 361.9,317.0 362.5,316.2 362.0,316.0 361.7,314.5 361.7,314.2 362.7,314.1 362.0,315.0 362.5,313.4 361.7,312.7 362.0,313.5 362.2,313.0 362.0,310.5 363.0,310.1 362.8,310.7 362.2,310.7 362.4,310.6 362.6,310.0 363.2,308.2 362.9,308.5 362.9,306.5 363.0,307.6 362.3,305.6 362.2,306.1 362.3,306.3 362.8,306.1 363.2,304.3 362.5,303.8 363.1,304.3 363.6,302.6 362.4,302.9 363.4,302.3 363.6,302.2 363.4,301.7 362.7,301.5 363.5,299.1 362.9,299.8 363.1,300.0 363.1,298.5 363.4,299.0 363.2,298.4 363.8,297.2 364.2,297.3 363.6,296.0 364.1,296.6 363.3,296.4 364.3,296.7 364.5,297.7 364.3,299.2 365.1,299.5 364.8,299.6 365.0,300.0 365.7,300.4 365.2,298.1 365.7,297.5 364.6,298.3 364.8,298.1 365.5,296.3 365.8,297.6 365.5,297.1 365.7,295.4 365.8,296.0 365.7,293.6 365.3,294.4 365.3,292.8 365.4,292.2 365.5,291.6 365.9,291.4 366.2,290.6 365.8,291.3 365.3,290.8 365.8,290.3 365.3,289.4 366.3,289.3 365.5,288.1 366.4,287.0 365.9,287.5 365.8,285.9 365.4,287.3 366.0,286.0 366.3,285.9 366.6,285.8 366.4,287.9 367.6,286.9 367.6,288.0 367.5,286.6 367.6,287.0 368.3,286.5 368.6,287.1 368.3,284.5 367.8,285.4 367.9,285.4 367.9,283.0 369.3,283.3 368.8,283.2 368.3,282.1 369.0,282.0 368.8,283.0 369.5,283.4 368.6,283.4 369.7,283.3 368.9,284.8 369.9,284.0 369.5,285.4 369.3,286.7 368.7,286.7 369.0,287.6 369.6,287.3 368.8,288.6 369.6,288.6 369.7,290.0 369.1,289.9 369.9,289.5 370.0,290.1 370.1,291.2 370.2,292.3 370.0,291.7 369.5,292.7 370.0,292.8 370.2,292.9 369.7,293.2 369.2,294.0 369.1,295.2 369.9,295.3 370.2,296.1 370.1,295.6 369.6,295.9 369.4,298.3 369.4,298.2 369.7,298.9 370.5,299.7 370.6,300.5 370.0,300.0 369.9,300.6 370.4,298.5 369.9,298.6 370.6,297.1 370.7,297.9 370.3,296.8 370.1,296.3 370.6,295.9 370.6,296.3 369.8,293.9 371.0,293.8 370.9,293.8 370.1,292.4 370.4,293.2 369.9,291.4 370.3,292.8 371.0,291.0 370.5,290.8 371.0,290.0 370.5,290.0 370.4,289.3 371.1,289.0 370.2,288.2 371.0,287.4 370.7,287.6 370.7,286.3 371.5,285.5 371.0,286.0 371.6,284.6 371.2,285.1 371.1,284.8 371.8,283.6 370.7,282.8 371.9,283.2 371.8,282.3 371.3,282.4 371.7,282.4 371.2,280.7 372.0,281.4 371.7,280.6 371.3,279.8 371.7,279.4 371.7,277.8 371.7,278.5 372.4,278.4 372.0,276.0 372.6,276.0 372.6,276.0 372.3,274.5 372.4,275.0 372.1,276.0 372.4,276.8 372.9,276.6 373.2,275.9 372.4,277.6 372.0,278.8 372.2,278.7 372.4,278.7 372.7,279.0 372.3,280.4 373.0,279.6 373.5,280.1 372.5,281.0 372.7,282.0 373.5,281.6 373.1,283.3 372.7,283.2 373.0,284.9 373.5,284.5 372.5,284.7 373.6,285.4 373.0,286.3 372.6,286.8 373.5,286.1 373.2,288.3 373.0,288.1 373.1,288.6 373.2,288.7 374.0,289.9 374.2,289.6 373.4,290.2 374.0,290.7 373.8,290.8 373.6,292.0 373.8,291.0 374.4,290.7 374.5,290.6 373.8,290.1 374.7,289.9 374.7,289.1 374.5,287.7 374.4,288.0 374.9,288.8 374.7,288.6 374.9,289.6 374.3,291.1 375.0,290.9 375.1,291.4 374.5,292.5 375.3,292.4 374.6,292.5 374.1,293.9 375.3,293.7 374.8,294.7 374.2,294.3 374.6,295.2 374.8,295.7 375.6,295.8 374.5,295.4 375.5,296.9 375.0,296.5 374.6,296.9 375.7,297.5 375.0,298.9 375.4,298.9 375.5,300.3 376.0,299.6 375.1,300.1 375.1,300.9 374.8,302.7 375.2,303.0 376.0,303.7 374.9,303.7 375.6,304.0 376.2,304.8 376.0,304.8 376.4,305.6 375.9,306.0 376.1,305.8 376.5,307.7 376.6,306.4 376.4,308.6 376.1,308.5 377.0,309.1 376.6,308.4 377.0,310.0 377.3,308.8 377.3,309.1 377.5,307.6 377.9,308.5 377.8,306.8 377.6,306.7 377.7,306.9 377.3,307.0 377.4,305.4 377.9,304.2 378.2,304.1 378.2,303.2 377.2,303.7 377.4,302.9 377.4,303.0 378.2,302.4 377.4,300.5 378.1,300.1 378.4,300.6 378.7,300.7 378.4,300.2 378.2,298.5 377.7,298.9 378.6,298.3 378.4,297.4 379.0,296.7 378.0,297.5 378.9,296.9 379.3,295.4 378.2,295.0 378.7,294.3 379.2,293.5 379.5,292.9 378.6,293.7 378.6,293.0 379.0,292.0 378.9,291.3 379.3,290.4 380.0,291.5 380.3,289.2 379.2,289.4 380.3,289.1 380.8,289.6 380.6,287.5 380.4,286.5 380.5,287.6 380.6,285.8 381.0,286.0 381.1,286.4 381.3,284.1 381.0,283.9 381.6,283.8 381.1,284.3 380.9,282.9 381.9,282.1 381.3,282.3 381.1,281.8 381.2,281.7 381.4,281.0 381.5,280.4 381.3,278.7 381.2,278.6 380.8,279.1 381.5,278.0 381.8,276.5 381.0,277.5 381.0,277.3 381.6,277.0 382.2,275.3 381.5,274.9 382.1,274.4 382.1,275.1 382.1,273.5 382.2,273.0 382.0,272.3 382.5,273.1 382.0,271.6 381.4,271.1 382.6,269.9 382.0,270.0 382.4,269.0 382.3,268.5 382.2,269.1 381.4,268.7 382.1,266.9 381.8,267.1 382.5,265.8 381.5,265.4 382.3,265.3 382.5,265.5 382.0,264.7 381.7,264.2 382.4,262.9 382.5,262.2 382.9,262.6 382.9,262.4 381.9,262.0 382.5,260.7 382.6,261.1 382.6,259.4 383.0,260.4 382.3,259.9 383.1,258.2 382.0,257.4 382.4,256.7 382.1,257.5 381.8,256.7 382.3,256.5 382.1,255.5 382.1,253.9 383.0,254.2 382.2,255.0 382.4,253.6 382.1,252.8 383.1,253.2 383.0,252.9 382.2,250.5 382.1,251.3 382.7,250.2 383.0,249.4 382.8,249.3 382.2,249.6 382.3,249.2 383.1,247.9 382.7,246.9 382.3,247.4 382.6,246.6 382.6,245.5 382.3,246.1 382.7,244.2 383.4,243.7 382.5,243.2 383.0,244.1 382.2,243.9 383.2,243.2 382.8,241.9 382.4,241.0 383.5,240.5 383.5,241.2 383.0,240.0 383.8,238.7 383.4,239.7 383.5,237.9 384.0,238.0 383.4,238.6 384.1,238.4 383.8,239.8 383.7,240.6 384.7,240.3 383.7,241.2 384.0,240.6 384.6,242.1 384.0,241.9 384.7,243.9 384.2,243.7 384.0,243.9 384.6,244.1 384.7,245.1 383.9,244.7 384.5,245.2 384.7,246.7 384.8,247.8 384.8,248.1 384.2,248.8 385.4,248.7 385.3,249.1 384.7,248.8 384.8,250.5 385.3,251.4 385.0,252.0 384.8,250.4 384.9,252.1 385.4,251.9 384.4,253.5 384.7,254.3 385.3,253.2 385.2,255.1 384.8,256.0 384.7,254.7 385.4,256.4 385.5,257.4 385.0,256.0 385.5,257.2 385.3,257.8 386.0,258.0 385.8,259.1 385.3,260.4 385.6,260.0 385.3,259.1 385.3,259.4 386.0,258.2 385.3,258.2 385.7,257.6 386.2,255.9 385.4,257.2 386.6,255.1 385.7,255.3 386.6,254.6 386.9,253.6 386.9,253.0 386.5,254.5 386.7,253.9 386.3,253.5 387.1,251.5 387.0,252.4 386.2,250.8 387.1,250.7 387.4,249.9 386.8,248.8 386.6,249.8 386.6,249.4 387.0,248.0 387.5,248.7 387.0,247.9 386.8,250.2 388.1,251.0 387.3,251.5 387.7,250.7 388.4,252.2 388.0,252.0 388.3,252.0 387.5,252.3 387.8,252.8 388.2,253.6 387.8,255.3 388.0,253.9 387.5,255.6 387.6,256.1 387.6,256.4 388.5,257.1 388.0,258.2 389.1,258.7 389.0,259.5 388.3,259.1 388.4,260.1 388.1,259.4 388.5,260.6 389.3,260.6 387.9,261.3 389.2,261.1 388.7,262.7 389.2,262.6 388.9,264.5 389.5,264.1 388.6,264.8 389.2,265.4 389.1,265.2 389.2,265.7 388.6,265.6 389.1,266.3 388.7,267.1 388.9,267.8 389.8,268.6 389.2,268.8 389.2,270.2 389.2,270.0 389.0,269.8 388.9,270.1 389.0,270.5 389.2,272.2 388.8,273.1 389.3,273.3 389.3,274.1 389.7,273.2 389.6,274.0 389.9,274.7 389.2,274.5 389.6,276.0 390.3,274.7 389.3,275.9 389.1,274.3 389.7,274.4 390.2,274.5 389.6,272.1 389.5,271.4 389.6,272.3 390.5,270.6 389.7,271.9 390.1,270.3 389.5,269.0 389.7,269.8 389.5,269.0 390.6,267.4 389.9,267.8 390.4,268.0 390.6,266.9 390.1,266.8 390.3,266.9 390.5,265.7 390.7,265.0 390.5,264.9 390.7,265.1 390.3,263.5 391.3,263.7 390.7,262.1 390.2,261.8 390.6,261.4 390.4,261.0 390.9,259.6 391.1,260.5 390.5,258.9 390.3,258.9 391.2,258.3 391.0,258.0 391.1,257.7 390.4,256.0 391.1,257.4 391.4,255.9 390.8,254.7 391.3,255.6 391.0,253.6 390.9,254.5 391.6,253.3 391.8,252.8 390.6,251.9 391.8,252.5 390.7,251.0 391.2,251.0 390.7,251.4 391.4,249.5 390.7,249.7 392.0,249.5 391.9,249.3 391.7,247.0 391.2,247.7 391.4,246.4 390.9,247.3 391.8,245.6 391.5,246.3 391.1,245.3 391.2,245.4 392.1,245.0 391.5,243.5 391.4,242.7 392.3,243.5 392.4,242.9 391.7,241.9 392.3,240.8 392.4,241.2 391.5,239.7 392.1,238.8 391.5,238.3 391.3,239.4 392.6,238.7 391.9,238.0 392.2,236.9 392.0,235.7 392.0,236.0 391.7,235.2 391.8,235.4 391.7,233.9 392.6,234.6 392.7,234.1 391.7,233.0 392.6,233.2 391.8,232.0 392.3,230.4 391.9,231.5 392.5,230.4 392.4,230.1 392.1,228.6 392.7,229.6 392.3,229.1 392.9,228.4 392.9,228.5 391.8,228.0 392.4,227.1 392.8,225.1 392.6,224.6 392.9,224.6 392.4,224.0 393.0,224.3 392.3,224.0 392.2,223.7 392.8,223.1 392.9,223.1 393.0,221.4 392.9,221.1 392.5,220.1 393.2,220.7 393.5,219.9 392.9,218.8 393.2,218.8 393.5,218.5 392.8,217.0 392.3,217.6 392.9,216.3 393.0,216.0 392.9,216.0 394.6,215.5 394.8,216.6 395.0,216.0 395.2,216.7 394.7,217.4 395.2,218.5 395.1,217.7 395.6,218.8 394.9,219.3 394.6,218.8 395.7,219.9 395.6,219.9 395.1,220.4 395.6,221.7 395.0,221.7 394.8,221.9 395.5,222.6 394.7,223.2 395.2,225.1 395.1,224.3 395.9,225.5 395.2,225.3 394.9,225.2 395.3,226.8 394.8,226.9 394.9,227.7 395.1,228.4 395.8,228.3 395.2,228.1 395.0,229.8 395.8,229.2 396.1,231.4 395.3,231.1 395.7,231.1 395.3,232.5 395.5,232.4 395.6,232.2 395.5,233.0 395.1,234.1 395.8,234.6 395.6,235.4 395.5,236.6 395.2,234.9 395.7,236.9 395.5,236.8 395.4,236.9 396.1,238.8 395.4,238.6 395.6,238.2 396.0,239.6 396.4,240.9 396.3,240.0 395.2,241.7 395.2,241.9 395.3,242.5 395.2,241.6 396.3,243.0 395.7,244.5 396.2,243.4 396.1,244.2 395.8,244.6 395.5,245.1 395.6,245.3 396.4,246.2 396.0,247.7 396.2,246.7 396.6,248.9 396.4,248.1 396.4,249.3 395.3,249.2 396.0,250.0 396.3,250.6 396.7,251.6 396.6,252.6 395.9,252.9 395.5,253.2 395.6,253.0 396.2,252.6 396.5,254.6 395.9,253.9 396.7,255.1 395.7,255.1 397.0,255.5 396.2,256.4 397.0,257.7 396.4,257.9 395.9,257.0 396.4,258.8 396.1,258.0 397.2,258.8 396.1,259.1 396.2,260.0 396.9,261.3 396.5,261.5 396.6,262.2 396.3,262.8 396.2,263.9 396.6,263.6 397.0,264.0 397.0,264.3 397.5,265.1 398.6,266.0 399.3,265.5 399.0,266.0 399.2,266.2 398.9,267.0 399.9,266.5 399.7,267.6 399.6,268.0 399.8,269.0 399.3,269.4 399.0,269.1 400.3,269.6 399.7,271.4 399.3,272.4 400.0,272.0 399.6,273.5 400.0,273.2 400.3,272.6 400.2,274.5 400.7,275.0 400.6,274.2 400.2,275.5 399.8,276.6 399.9,276.6 400.2,276.3 401.2,277.8 400.9,278.2 400.7,279.3 400.1,278.7 400.4,279.7 400.7,280.9 400.5,280.0 401.5,281.5 400.9,281.2 401.3,281.2 401.4,281.9 401.5,282.1 401.7,284.3 400.5,283.3 401.8,285.2 401.0,285.7 401.5,284.9 401.7,285.8 400.9,287.3 401.8,286.4 401.4,287.9 401.4,287.5 401.7,289.5 401.1,288.5 401.7,290.6 402.5,288.9 402.0,289.7 401.5,290.2 401.9,292.6 402.0,292.0 402.7,292.2 402.7,293.4 401.7,294.4 402.0,295.1 401.9,295.4 402.6,295.0 402.2,295.5 403.1,296.1 403.5,296.6 403.5,296.2 403.3,297.7 403.6,297.6 403.1,299.2 402.9,298.7 403.8,299.8 403.4,298.9 403.9,300.3 403.6,301.0 403.3,300.2 403.1,300.7 404.1,300.5 404.0,298.3 403.6,299.6 403.1,297.7 403.3,296.8 403.5,297.3 403.2,297.3 403.8,295.3 403.3,295.6 403.7,295.0 403.4,294.2 404.0,293.1 404.0,294.2 404.2,292.2 404.3,291.6 403.6,290.9 404.2,290.8 403.9,290.2 404.7,289.7 404.5,290.7 404.2,289.7 404.0,289.7 404.6,287.6 404.6,287.2 404.3,286.8 404.4,287.3 404.7,286.1 403.8,285.9 405.0,285.6 404.7,285.6 404.7,285.5 405.2,284.5 405.0,282.7 404.3,283.5 404.7,283.3 405.0,281.6 404.2,281.8 404.2,281.0 404.4,280.3 405.0,280.3 405.0,278.5 405.4,279.5 405.4,278.7 405.1,278.9 405.3,277.8 404.3,276.0 405.3,277.3 405.0,276.0 404.9,274.9 405.0,275.8 405.5,273.7 404.7,273.4 405.5,273.0 405.8,272.8 404.8,272.3 404.8,272.8 404.6,271.3 405.2,270.0 405.0,271.6 405.9,269.8 406.0,270.4 406.0,269.5 405.6,268.5 405.9,268.2 406.3,266.8 406.2,267.6 405.6,267.3 405.4,265.8 405.8,266.5 405.4,265.8 406.0,265.4 405.6,264.4 406.4,264.3 406.2,263.7 406.1,262.6 405.5,262.0 406.7,262.5 405.4,260.6 405.7,261.3 405.7,260.6 405.7,259.1 406.9,258.2 406.3,258.0 406.6,257.0 406.5,257.0 407.0,256.6 406.6,255.5 406.4,256.0 407.2,256.8 407.4,257.5 406.4,258.0 407.0,257.3 407.9,258.9 407.4,258.1 408.0,258.5 408.0,260.0 407.7,259.5 407.6,261.5 407.7,262.6 407.8,262.7 408.4,262.8 408.3,262.2 408.6,264.4 408.2,263.3 407.6,264.0 408.9,264.6 407.9,265.6 407.6,266.6 408.6,266.1 407.6,267.9 408.7,268.1 407.9,269.0 408.5,267.5 409.0,269.4 407.9,270.4 408.5,270.3 407.7,269.9 408.8,269.9 408.0,270.6 408.6,271.2 408.9,272.4 408.9,273.9 409.2,272.8 408.3,274.6 408.3,275.5 408.3,275.3 408.3,276.0 408.3,275.8 408.9,277.2 408.2,276.3 408.3,278.1 408.9,278.5 409.1,277.9 408.7,277.9 408.5,279.7 408.4,280.6 408.4,280.4 409.1,280.4 409.1,281.3 408.2,281.1 409.1,283.2 409.1,283.8 409.1,284.1 409.4,284.2 409.0,283.8 408.6,284.1 408.4,285.3 409.0,286.0 408.8,285.6 409.6,284.5 409.8,285.2 408.9,284.2 409.0,282.5 409.1,282.3 408.9,281.5 410.1,282.8 410.3,280.6 409.2,281.8 409.8,280.2 410.3,280.1 409.9,278.7 409.7,279.5 410.9,277.5 410.4,278.0 410.0,277.6 410.1,277.0 410.5,276.0 410.0,275.8 411.0,274.7 410.6,275.7 410.7,274.2 411.2,274.6 411.3,273.1 410.6,272.9 411.2,272.8 410.8,272.0 411.3,271.2 410.3,270.3 410.4,269.6 411.5,270.1 411.3,269.4 410.9,268.4 411.5,268.3 410.8,268.5 411.5,268.6 411.0,266.8 411.5,266.3 410.6,266.0 410.8,265.0 411.5,264.7 411.3,264.1 410.6,264.6 411.6,264.0 411.4,262.3 411.2,263.2 411.7,262.2 411.5,260.8 410.7,261.8 410.7,260.0 411.2,260.4 411.7,260.3 412.0,258.5 411.1,257.7 411.2,257.1 412.1,257.7 411.5,256.0 412.1,255.9 412.0,255.4 411.3,254.7 411.7,254.5 411.8,255.0 411.3,253.2 411.7,253.3 411.7,252.7 411.3,251.7 412.1,252.3 412.1,251.8 411.9,250.3 412.4,250.6 411.8,249.5 411.7,250.6 411.8,249.7 411.4,248.7 412.0,248.0 411.9,246.9 412.2,246.8 413.0,246.3 413.5,245.2 413.7,245.4 413.9,244.8 413.4,245.4 414.0,244.0 414.5,244.1 414.7,243.7 415.6,243.3 415.9,242.1 415.6,242.0 415.4,243.3 416.2,243.9 415.7,243.3 416.5,243.3 415.5,243.8 415.7,244.8 415.9,245.4 415.5,245.7 416.2,245.5 416.3,247.9 416.6,248.5 416.9,248.0 415.8,247.5 416.7,249.8 416.4,248.7 417.1,250.1 416.7,249.7 416.9,251.2 417.2,252.4 417.0,252.0 416.5,253.2 416.9,252.8 417.0,254.2 417.2,253.1 417.3,253.7 416.7,254.0 417.3,255.4 416.8,255.2 418.1,256.6 418.3,257.1 418.3,257.9 417.6,257.0 417.3,259.1 418.1,258.6 417.5,259.8 418.0,260.0 418.7,259.9 418.8,261.1 417.7,260.8 418.5,262.9 417.8,261.9 417.8,262.4 418.0,263.3 418.0,264.4 418.1,264.0 418.4,264.3 417.9,264.6 417.9,266.4 418.0,266.5 419.2,267.3 418.5,267.3 418.7,267.6 418.2,267.7 418.4,268.4 418.7,268.6 419.2,269.3 419.1,270.9 419.1,271.5 419.5,271.4 418.8,271.0 419.5,272.2 419.0,272.1 418.9,274.4 419.4,274.8 419.9,273.9 419.1,275.9 419.2,275.7 419.6,276.0 420.2,276.4 419.6,278.0 420.2,278.4 420.0,277.4 419.1,277.4 420.4,279.1 420.4,280.5 419.5,281.0 419.6,279.8 419.6,282.1 420.6,281.2 420.0,282.7 420.5,283.4 419.9,282.4 420.1,284.5 420.3,284.8 419.8,284.5 420.8,285.2 420.7,286.2 420.2,286.4 420.6,286.4 420.4,287.7 420.9,288.6 420.3,288.4 420.5,289.3 420.1,288.9 420.2,290.2 420.9,288.9 420.1,289.7 420.8,291.6 420.5,290.6 420.8,292.3 420.7,292.0 420.6,292.4 421.3,293.2 421.2,294.1 420.5,294.0 421.2,295.8 421.5,294.7 421.0,296.0 420.7,295.6 420.7,296.8 421.5,298.4 421.4,297.2 421.2,297.7 421.1,299.2 421.5,298.8 421.3,300.9 421.8,300.7 421.5,300.6 422.2,300.4 422.1,303.0 422.1,301.5 421.3,303.6 421.6,303.3 422.4,304.4 421.9,304.9 422.9,304.9 422.2,305.9 423.0,306.4 423.1,307.1 423.2,306.5 422.9,306.9 422.2,307.7 423.4,308.0 422.6,309.9 423.6,310.1 423.0,310.0 422.8,311.2 422.4,309.9 422.4,311.1 422.7,312.8 423.0,313.3 423.1,312.7 422.9,312.5 423.1,315.0 423.8,315.4 422.6,314.9 423.7,314.7 422.6,315.4 422.7,317.0 423.6,318.1 422.7,317.9 423.7,317.3 422.7,319.6 423.8,318.1 422.9,319.8 422.9,319.9 422.9,319.6 423.4,321.1 423.9,320.4 423.3,321.1 423.6,321.8 423.3,324.0 423.7,323.9 423.7,323.3 423.8,325.5 423.0,325.7 423.4,324.8 423.8,326.8 423.2,325.8 423.7,326.4 423.7,328.6 423.0,327.8 423.3,327.8 423.9,330.0 423.7,329.6 424.0,330.8 424.4,330.1 423.4,331.9 424.0,332.3 423.4,332.6 423.3,331.7 423.4,332.7 423.8,333.8 424.5,333.8 424.1,334.3 423.8,334.5 423.3,335.0 424.3,336.7 424.3,336.4 423.9,336.3 423.7,338.6 424.2,337.8 424.1,338.5 423.8,338.8 424.0,340.4 424.7,339.5 424.1,339.9 424.8,340.2 424.2,340.4 424.2,341.9 423.6,341.7 424.3,342.9 424.0,342.5 424.1,343.7 423.8,344.7 424.0,345.1 424.7,344.4 424.4,346.3 425.0,346.9 424.9,347.4 424.1,348.2 424.8,348.0 425.1,347.5 425.1,348.7 424.6,350.2 424.1,350.0 423.9,349.5 425.2,350.4 424.5,350.7 425.2,352.0 425.1,352.0 424.6,352.4 424.8,354.0 424.8,354.2 424.4,355.5 424.1,354.3 425.0,356.5 425.3,355.4 425.4,356.4 424.9,357.3 425.0,358.3 425.4,357.6 425.4,358.1 425.1,358.2 425.1,359.1 425.6,360.4 424.8,361.5 424.4,361.5 425.2,360.4 425.0,362.0 425.0,360.7 425.8,360.1 425.3,360.6 424.6,361.0 425.2,359.8 424.8,358.2 424.9,357.5 424.8,358.0 425.1,358.1 424.8,356.4 425.3,356.9 425.1,355.4 424.8,355.2 425.2,355.7 425.0,354.1 425.8,353.4 424.8,354.5 426.1,352.6 425.2,352.4 425.1,352.6 426.1,352.0 425.4,351.7 426.2,349.8 425.9,349.3 426.3,350.2 425.6,349.5 425.4,347.5 425.8,347.1 425.7,348.3 425.9,346.5 425.4,346.6 425.9,346.9 425.4,345.4 425.8,344.7 425.5,344.2 426.0,343.3 425.7,343.6 426.6,343.0 425.8,341.5 426.1,341.7 425.5,341.4 426.3,340.7 426.5,340.8 425.5,339.0 426.2,339.7 426.3,338.4 426.0,339.0 426.1,338.1 425.9,337.8 426.3,335.9 426.7,337.2 427.1,337.0 426.7,335.4 426.1,335.4 426.3,334.1 425.9,334.2 426.8,334.1 426.0,332.4 426.7,331.7 427.1,332.9 426.8,331.0 426.7,331.6 426.4,330.8 426.8,330.9 427.1,329.9 426.8,329.9 426.9,328.9 426.5,327.1 426.9,326.9 427.5,326.4 427.4,326.1 426.5,326.2 426.7,326.6 427.1,324.1 426.7,323.6 427.0,324.0 427.1,323.6 426.9,323.4 427.1,323.2 427.5,321.5 427.8,320.5 427.0,320.0 428.1,320.6 428.0,321.1 427.0,320.4 427.0,319.4 428.1,318.2 428.3,318.6 427.8,317.0 427.4,316.1 428.0,316.6 427.6,316.1 427.5,315.1 428.4,314.2 428.2,313.7 428.8,313.4 428.9,314.4 429.0,312.5 428.7,311.6 429.2,312.4 427.9,310.7 428.1,310.7 429.3,311.1 428.5,310.7 428.1,309.6 428.7,308.1 429.5,308.8 429.0,308.0 430.0,308.8 429.9,308.2 430.0,310.4 430.4,310.0 430.5,310.8 430.4,310.7 429.7,310.9 430.0,311.1 429.8,313.1 431.1,313.4 430.9,312.9 430.9,313.7 431.0,313.9 430.2,315.1 430.1,315.0 430.8,316.6 431.2,316.8 430.3,316.9 430.6,317.7 431.1,318.1 431.2,318.5 430.5,318.0 430.3,319.5 429.9,319.9 430.0,320.0 431.1,321.9 430.0,321.7 430.6,321.0 430.3,322.6 430.5,323.2 430.0,323.7 430.8,323.3 430.7,325.5 431.2,325.3 430.7,326.0 430.6,326.5 430.5,326.6 431.0,327.2 430.8,327.2 430.5,328.3 430.6,328.4 430.5,328.5 430.9,330.3 430.3,330.3 430.8,330.8 430.9,330.8 430.0,331.2 430.8,332.3 431.3,332.8 431.0,332.7 431.2,332.7 431.3,334.0 430.7,334.9 430.8,336.1 430.3,334.5 430.9,335.4 430.4,337.6 430.8,336.5 430.6,336.9 430.5,337.2 431.5,339.0 430.6,338.1 431.5,340.4 430.3,340.8 430.9,341.6 430.8,340.9 430.2,341.7 430.5,342.8 430.5,343.3 430.7,343.7 431.2,344.5 431.0,343.7 430.6,343.9 430.4,344.6 430.7,346.2 430.2,346.0 431.0,345.7 431.2,346.4 431.3,346.8 431.5,347.6 430.4,347.7 430.6,348.2 430.7,350.5 431.0,350.0 430.8,350.3 431.4,350.1 430.5,352.3 430.9,351.3 430.7,353.0 431.8,352.8 431.5,353.4 430.8,353.6 431.0,354.0 431.6,354.1 431.1,356.0 430.6,357.0 431.5,356.8 430.9,356.3 431.8,358.5 430.7,358.7 431.0,357.6 431.6,358.1 431.9,360.3 431.2,359.2 431.5,361.0 430.9,361.4 431.0,361.2 431.1,361.1 431.6,362.1 432.2,363.9 432.0,363.5 431.9,363.6 431.6,364.6 431.6,364.9 432.2,366.6 432.1,366.8 431.5,365.6 431.4,367.0 432.2,368.0 432.4,368.6 431.6,367.5 431.9,368.6 432.4,370.4 432.0,370.6 432.3,370.5 431.9,372.0 432.4,371.7 432.7,371.2 432.4,372.6 431.8,372.2 432.2,374.3 431.7,374.9 432.8,373.8 432.3,375.0 432.0,374.7 431.9,377.0 432.7,377.5 432.3,377.0 431.7,377.3 432.4,379.1 431.7,378.8 431.7,380.0 432.0,379.9 432.6,379.4 432.4,380.3 432.0,380.8 431.9,382.0 433.2,382.1 432.4,382.5 432.1,383.5 432.9,382.6 432.4,383.2 432.9,383.4 433.2,384.0 433.2,384.8 432.8,386.5 433.4,387.3 432.3,387.5 432.7,386.8 432.8,389.0 432.2,388.9 432.9,389.8 432.8,388.9 433.4,389.1 433.2,390.0 432.3,390.3 433.5,390.7 433.0,392.0 433.7,391.7 433.8,392.0 433.6,393.6 433.6,394.9 433.2,395.6 433.8,395.7 433.5,396.6 434.3,395.9 433.7,397.3 434.3,398.1 434.9,398.0 434.8,397.3 435.1,399.0 434.2,398.1 434.3,398.9 435.0,400.0 435.4,401.1 435.4,400.7 435.8,400.7 434.9,401.9 435.0,403.0 435.9,403.5 435.2,403.7 435.3,404.1 435.6,403.7 436.1,405.7 436.1,404.6 435.4,406.5 436.3,406.8 436.5,406.8 435.6,407.4 435.7,407.7 436.5,408.1 436.4,409.2 435.5,409.5 436.8,410.3 436.8,410.8 436.4,411.0 437.1,409.5 436.4,409.3 436.9,409.0 436.8,409.3 435.9,408.8 436.4,407.5 436.9,407.8 436.3,407.5 436.1,405.5 437.3,406.9 437.4,406.6 437.2,405.2 436.9,404.6 437.6,405.0 436.9,402.8 437.1,402.8 437.5,403.4 437.3,401.1 437.2,400.7 437.2,401.7 437.4,400.4 436.8,400.9 437.8,399.5 436.7,399.4 437.2,398.3 437.2,397.5 436.9,397.8 437.5,396.8 437.9,396.5 437.1,395.5 437.7,395.9 437.8,395.5 437.5,395.1 437.8,393.5 437.2,393.8 438.3,394.0 438.3,393.2 438.0,391.4 437.6,392.3 437.6,391.0 438.0,389.4 438.0,390.0 437.5,388.8 438.5,389.6 437.5,387.8 438.8,387.3 438.6,387.7 438.7,387.5 437.6,387.1 438.5,385.0 438.9,385.0 438.2,385.1 438.4,384.7 437.7,384.8 438.4,382.6 438.4,382.3 438.3,383.0 438.8,381.3 438.2,382.5 438.7,380.3 438.7,379.9 438.0,380.3 438.0,378.7 438.9,380.0 438.0,379.0 438.2,377.0 438.0,376.4 439.0,377.9 438.1,375.7 438.1,375.8 438.6,374.8 439.3,374.1 439.0,373.7 439.1,373.2 438.5,374.6 438.6,372.9 439.2,373.6 439.0,372.0 439.1,371.7 439.3,373.4 439.3,373.2 439.6,373.0 439.3,374.6 439.9,375.6 439.0,375.2 439.5,375.7 438.8,377.6 439.4,376.2 439.1,376.4 440.2,377.2 439.7,379.5 440.1,379.2 439.4,379.9 440.2,379.4 439.5,380.3 440.0,381.9 440.1,381.0 440.3,381.2 439.5,381.4 440.2,383.2 440.1,383.6 439.8,383.4 440.4,384.3 440.3,385.9 440.3,386.0 439.8,386.0 439.8,385.8 440.1,386.7 440.1,388.5 440.3,387.6 440.0,388.2 441.1,389.1 441.3,389.8 441.0,389.8 441.3,390.4 440.4,390.4 441.4,390.5 441.0,392.0 440.6,391.8 441.3,390.9 441.3,390.3 441.2,389.0 441.0,390.5 441.2,388.6 441.3,389.5 441.1,387.8 441.6,388.3 440.8,387.4 440.9,386.2 441.6,385.7 441.8,385.5 441.7,384.2 441.1,383.5 441.8,384.9 441.3,383.4 442.0,382.8 441.0,381.7 441.9,382.7 441.4,382.0 441.8,381.4 440.8,380.8 441.9,379.9 441.3,379.8 441.0,378.4 441.7,379.6 440.9,378.4 441.5,376.5 441.0,376.6 441.8,375.7 441.4,376.3 441.9,376.6 442.0,374.3 441.7,374.7 441.7,374.2 441.5,372.9 441.9,373.8 441.9,372.8 442.3,371.5 441.8,372.2 441.9,369.9 441.7,371.2 441.3,369.8 442.4,369.4 441.8,369.2 442.3,368.4 442.4,368.5 441.7,367.8 441.6,366.0 441.8,365.5 441.6,366.8 442.5,364.8 441.4,364.7 441.8,363.7 442.4,363.2 442.0,363.0 442.2,362.2 442.0,363.3 441.3,361.3 441.4,362.2 442.3,360.4 442.6,359.8 442.1,360.5 442.2,358.5 441.5,358.3 442.7,359.4 441.9,357.0 442.3,356.8 442.7,357.9 442.6,357.1 442.6,356.7 442.0,356.0 441.6,355.4 442.2,355.6 442.7,353.9 442.6,353.7 442.5,351.9 441.9,352.0 442.6,352.9 442.5,352.1 442.6,350.2 442.0,350.7 442.4,350.0 442.8,350.3 442.8,350.6 442.3,350.8 442.5,352.2 442.1,353.4 442.0,353.5 442.5,354.5 442.5,353.0 443.1,354.2 443.3,355.4 442.9,355.9 443.3,355.6 442.6,356.8 443.2,356.0 442.7,357.3 442.6,358.1 443.1,358.1 443.7,359.5 442.7,359.7 444.1,360.2 444.1,359.9 443.1,360.6 443.2,360.8 443.3,362.0 444.1,363.1 443.1,363.6 443.9,363.0 443.1,364.8 443.3,364.0 443.6,365.7 444.6,366.4 444.0,366.0 444.6,366.3 444.2,364.0 443.9,363.7 443.9,363.2 444.2,362.5 444.3,363.8 444.3,362.5 445.3,360.9 445.2,361.6 444.3,361.9 445.5,359.6 445.8,360.2 445.5,358.9 444.7,359.5 445.8,357.8 444.9,358.2 445.4,357.2 446.3,357.1 445.4,356.9 446.0,356.0 446.3,356.6 446.7,356.9 446.3,356.5 445.8,357.6 446.0,358.5 445.6,359.4 445.5,359.0 446.2,359.0 445.9,361.2 446.5,360.7 445.7,362.1 446.7,361.1 446.1,362.6 446.5,362.3 446.7,363.7 446.7,365.0 446.5,364.9 446.0,364.5 446.1,366.2 446.5,365.5 446.9,366.5 447.0,367.3 446.7,367.2 447.1,368.0 446.6,368.3 446.4,368.3 446.2,369.3 446.8,369.2 446.0,370.8 446.4,371.8 445.8,371.4 447.0,372.6 446.3,372.5 446.4,371.9 446.0,372.9 447.1,373.3 446.3,374.6 446.9,375.3 446.4,375.2 446.0,376.6 446.5,376.0 446.3,377.0 446.2,377.1 446.2,377.3 446.8,378.1 446.2,379.8 446.1,379.3 446.5,379.0 446.5,380.4 447.1,380.5 446.6,382.4 447.0,381.9 446.4,383.1 447.5,382.4 447.4,383.2 446.9,383.0 446.6,383.9 446.5,385.7 447.6,385.1 447.4,385.6 447.1,385.8 447.6,387.0 447.1,388.1 447.1,388.0 447.3,388.4 447.2,388.6 446.6,388.9 447.7,390.2 446.4,389.8 447.2,391.0 447.8,392.4 446.6,392.7 447.8,393.0 447.8,392.7 447.4,393.9 447.6,394.5 447.7,394.1 447.7,395.2 447.9,395.1 447.4,396.8 447.7,396.9 446.8,396.2 447.1,397.8 446.7,398.4 446.8,397.8 447.1,399.1 447.7,400.5 447.0,399.1 447.9,400.7 448.0,401.5 446.9,401.2 447.1,401.9 447.2,403.3 448.1,402.3 448.2,404.5 447.4,404.8 448.2,405.0 447.4,405.3 448.0,405.1 447.6,406.0 447.6,404.6 447.2,405.7 447.4,404.9 447.6,404.5 447.4,402.6 448.0,402.5 447.4,402.4 447.8,402.9 448.1,401.4 447.8,401.2 447.4,400.1 448.1,401.0 448.1,398.9 448.6,399.7 447.6,398.2 447.4,398.6 447.7,398.2 448.4,397.6 448.2,395.9 447.5,396.2 447.5,395.5 448.6,394.2 448.1,394.6 447.8,393.3 448.4,392.8 447.8,392.4 448.9,393.4 447.8,392.2 448.3,390.5 448.1,391.3 447.8,391.5 448.2,389.7 449.1,388.7 448.0,388.9 448.3,388.1 448.7,389.0 448.5,386.5 448.4,387.8 448.6,385.5 448.3,385.4 448.5,385.1 449.0,385.5 448.1,383.7 449.2,384.8 449.2,382.8 449.1,382.1 449.1,381.9 449.4,382.8 448.9,382.0 449.6,381.9 449.2,380.8 449.0,380.0 449.0,379.9 449.0,378.9 449.2,377.6 450.2,377.8 449.8,378.5 450.2,377.1 450.7,375.8 451.0,376.0 451.7,376.1 451.6,374.6 451.7,375.4 451.8,373.3 450.7,372.6 450.7,373.4 450.7,372.4 451.1,372.5 450.7,372.0 452.1,370.6 451.3,371.0 451.2,370.8 452.2,368.9 451.5,368.2 451.7,368.3 452.3,368.5 452.4,368.2 452.2,366.7 452.0,365.6 451.6,366.9 452.5,364.8 451.9,364.8 452.1,364.7 451.7,364.8 452.0,364.1 452.4,364.1 452.1,362.7 452.5,361.4 451.6,362.2 452.5,361.5 452.7,359.8 452.9,360.3 453.0,359.6 452.9,358.0 452.0,358.6 452.7,357.7 451.9,358.3 452.0,357.9 452.3,357.0 452.8,355.4 452.5,354.9 452.8,354.5 452.9,354.0 452.3,354.4 452.5,354.5 452.8,352.5 453.3,353.4 453.0,352.0 452.8,353.0 452.8,354.1 452.8,352.5 452.4,354.1 453.3,354.0 453.0,354.8 453.0,354.8 453.3,356.4 452.6,357.3 452.9,356.9 452.9,357.9 453.2,358.2 453.2,358.5 452.8,360.1 453.3,359.1 453.9,359.5 453.9,360.3 452.9,361.2 453.2,360.8 454.2,363.0 453.5,363.2 453.8,362.6 453.1,363.7 453.2,364.6 453.8,363.9 454.1,366.0 453.7,366.5 453.7,364.9 453.7,366.2 454.4,367.0 454.5,366.8 453.7,366.9 453.2,369.0 453.2,368.4 453.8,370.4 453.6,368.9 454.3,370.9 453.5,371.9 454.5,372.5 454.5,372.1 454.4,371.7 454.3,372.7 453.9,373.1 453.6,374.7 454.6,373.4 454.2,374.0 454.3,374.8 454.9,375.6 454.3,376.0 454.9,375.9 454.1,376.9 454.7,377.7 454.9,378.1 453.9,378.9 453.9,378.7 454.5,380.2 454.1,379.8 454.6,380.9 454.5,381.9 454.1,380.9 454.0,383.1 454.9,382.2 454.4,383.1 455.3,383.8 455.0,383.6 454.1,384.4 455.0,385.4 455.3,386.7 455.0,387.6 455.5,387.8 454.3,387.3 454.4,388.2 454.9,387.6 454.4,388.9 455.1,389.3 455.0,390.0 455.1,390.8 455.5,391.5 455.2,390.8 455.9,391.0 455.1,391.8 455.7,393.3 455.1,393.5 455.9,394.4 455.3,395.0 455.7,394.7 455.6,396.3 456.4,396.7 456.3,395.6 456.3,396.1 455.9,398.2 455.9,397.8 456.1,399.1 457.5,398.0 456.7,400.5 457.0,400.0 457.0,400.1 458.4,401.9 457.9,401.9 458.4,402.0 458.8,401.2 457.7,400.7 458.7,401.5 458.4,399.8 458.3,399.7 457.8,399.9 459.2,397.5 457.8,397.6 458.1,398.1 459.1,397.1 459.2,395.9 458.2,395.7 458.6,394.8 459.2,395.6 458.4,393.9 458.4,393.8 458.9,394.1 459.3,392.1 458.3,392.2 459.4,391.9 459.1,392.2 458.7,390.7 459.2,390.8 459.5,389.5 459.5,389.5 459.4,389.3 459.0,389.3 458.3,387.5 458.9,388.2 458.5,387.6 458.4,386.2 458.9,386.5 459.0,386.3 459.3,384.7 459.0,384.3 459.6,383.6 458.6,382.9 458.7,383.7 459.3,381.9 459.0,382.9 459.8,380.9 459.8,380.0 459.9,380.1 459.8,379.0 459.5,380.4 459.7,379.2 458.7,377.9 459.9,378.8 458.9,377.2 459.4,376.6 458.9,377.3 458.8,376.3 459.2,375.4 459.9,375.5 459.8,373.4 459.8,374.6 458.7,372.9 459.7,373.8 459.5,373.4 458.9,371.5 459.9,372.1 459.1,371.2 459.4,371.0 459.4,369.6 459.9,369.9 459.4,369.5 459.2,368.5 459.6,368.0 459.5,368.2 460.2,368.1 460.4,369.2 461.0,370.0 460.8,370.5 461.6,371.8 460.8,370.7 460.6,372.8 461.5,373.0 461.8,372.8 460.8,372.6 461.1,374.6 460.7,374.4 460.7,374.4 461.4,375.8 462.0,375.6 461.1,375.5 461.0,376.0 460.8,376.7 461.6,377.9 462.1,378.5 461.0,378.2 461.9,380.6 462.0,379.4 461.5,380.4 461.6,380.5 461.3,380.5 462.3,383.0 462.5,382.2 462.1,382.4 461.4,382.4 461.7,384.7 462.0,383.9 462.0,385.1 461.6,385.4 462.7,385.9 462.8,387.0 461.6,387.9 462.4,387.4 461.8,388.3 461.8,388.4 461.8,388.8 463.0,389.7 462.4,390.3 462.6,390.7 462.1,390.4 462.6,392.4 463.0,392.0 462.2,392.7 461.9,393.0 463.0,394.5 462.0,393.3 462.6,394.7 463.3,394.1 462.2,395.5 463.1,395.0 462.6,397.0 462.7,396.3 462.2,398.1 462.9,398.1 463.2,399.1 462.8,398.7 463.6,398.6 463.0,400.0 463.4,399.4 463.1,398.4 463.7,398.1 462.9,397.0 463.8,398.2 462.6,396.2 463.0,395.4 463.3,396.7 463.7,395.5 464.1,394.5 463.2,393.9 463.6,393.9 463.0,393.4 464.2,393.8 463.8,393.2 463.6,391.9 464.0,390.8 463.9,390.9 463.5,390.4 463.4,390.2 463.3,389.3 463.3,389.0 463.4,389.1 463.3,388.6 463.8,388.4 463.8,386.1 464.4,385.8 464.6,385.8 463.9,385.6 463.9,384.4 463.7,383.8 463.9,383.1 464.3,383.3 464.6,383.0 464.7,382.6 464.5,382.6 464.0,380.9 463.9,381.8 465.2,380.2 465.2,380.0 465.3,380.2 464.5,378.4 464.7,379.3 464.8,377.5 464.2,377.1 465.5,376.7 465.4,377.2 465.6,376.3 465.0,374.9 465.7,375.5 465.5,373.3 465.4,374.2 464.7,372.9 465.2,372.3 465.3,372.3 464.8,371.0 465.3,370.2 465.9,370.6 465.2,369.7 465.3,370.0 465.9,369.1 465.9,368.9 466.1,368.7 466.1,366.7 465.6,366.3 466.3,365.9 466.5,365.8 465.4,366.1 465.5,364.9 465.9,364.9 466.1,364.5 466.5,364.6 466.3,362.9 466.2,362.3 466.7,362.2 466.6,362.3 466.6,361.9 466.3,361.0 467.0,360.0 466.9,359.1 466.1,359.8 466.7,359.5 466.8,357.5 466.1,358.4 466.4,356.2 466.8,357.0 466.9,355.0 467.3,355.8 466.7,355.9 467.0,355.0 466.4,353.5 467.4,353.8 467.1,352.9 467.4,353.8 466.6,354.7 466.7,353.8 467.1,354.9 466.9,355.3 467.0,355.6 467.3,355.6 468.1,355.9 467.3,358.3 467.6,358.9 467.6,358.5 467.9,358.7 468.7,359.2 468.4,360.0 467.9,361.2 468.8,359.9 468.4,362.0 468.3,361.7 468.7,361.7 468.4,362.3 469.0,364.1 468.4,364.6 468.7,364.8 468.3,365.6 469.0,366.6 468.5,365.8 469.3,365.9 469.3,367.7 468.6,368.0 468.8,367.5 469.0,369.1 469.4,368.7 469.6,370.2 468.9,370.8 469.5,370.8 469.5,371.0 470.0,369.9 469.5,370.5 468.9,369.3 469.7,368.9 469.7,369.2 469.1,368.5 469.4,366.6 469.7,366.2 469.7,365.8 469.7,365.2 470.5,364.9 469.8,365.2 470.1,363.7 470.4,363.7 469.4,363.3 470.1,362.7 470.3,362.1 470.5,363.0 470.5,360.5 470.0,361.1 470.0,359.8 470.3,359.2 469.7,359.3 470.9,358.7 470.9,358.9 470.5,358.9 470.4,358.0 470.3,357.7 470.9,355.4 471.0,355.0 470.6,354.6 470.8,354.9 470.0,355.3 470.5,354.0 470.2,354.4 470.5,353.1 470.6,353.0 470.6,352.0 470.4,351.1 470.3,350.4 470.6,350.8 470.5,349.1 471.7,349.7 470.6,349.7 471.6,348.6 471.9,347.9 470.8,346.2 470.8,346.7 471.5,347.0 470.9,344.8 471.0,345.0 472.3,345.4 471.1,344.4 471.3,343.1 471.6,342.7 471.9,342.7 471.7,342.6 471.9,344.0 472.3,344.8 472.1,343.8 472.6,344.9 472.2,345.7 473.4,346.6 473.2,345.9 473.0,347.9 473.1,348.0 473.7,349.1 472.6,350.1 472.6,350.1 473.2,351.0 474.0,351.1 472.8,351.4 472.9,351.4 473.0,351.7 472.9,352.7 473.0,352.6 474.0,353.2 473.8,355.0 473.9,355.4 474.4,354.7 473.4,356.8 474.4,355.9 474.5,355.9 473.5,358.1 473.4,358.6 473.6,358.9 473.5,358.8 474.2,359.5 474.7,358.8 474.5,361.1 474.3,360.3 474.3,361.4 475.0,360.8 474.4,361.0 475.4,360.7 475.3,358.4 475.5,359.0 474.9,359.6 475.0,360.3 475.2,361.1 475.0,361.5 475.4,362.7 475.8,362.1 476.4,362.1 476.6,362.6 475.3,363.1 475.9,364.3 475.5,365.5 476.5,365.7 476.9,364.7 476.5,367.0 475.9,366.5 476.0,368.1 476.4,368.4 476.1,368.4 476.9,368.4 476.3,368.3 476.8,369.6 476.3,369.9 476.5,370.0 476.9,370.5 476.5,371.5 477.6,372.8 476.6,373.6 477.6,373.0 477.5,374.1 477.2,375.3 477.4,375.2 477.9,375.3 477.3,375.9 476.8,375.3 477.8,376.9 478.0,378.5 477.2,377.3 477.8,377.4 477.2,378.0 477.5,379.4 477.5,380.4 478.3,381.2 478.1,381.6 478.5,382.0 477.9,382.2 478.7,382.0 478.1,382.0 478.5,382.7 478.4,383.4 478.0,385.4 478.4,386.1 479.0,385.8 478.7,386.5 479.3,386.0 479.0,386.6 478.5,387.0 479.5,389.1 479.0,388.0 479.2,389.2 478.8,388.3 479.1,389.0 479.4,387.7 479.6,386.5 479.3,386.5 479.0,385.7 479.7,385.9 479.4,384.2 479.8,383.9 479.1,385.2 480.2,384.6 479.7,383.7 480.5,382.9 479.4,381.6 479.9,381.5 480.3,380.4 479.8,379.5 480.1,379.2 480.0,378.5 480.9,378.5 480.5,378.7 479.9,378.2 481.0,377.0 480.8,377.5 480.8,376.2 480.8,376.4 480.7,376.0 481.2,375.6 480.8,373.7 481.0,374.0 480.6,373.1 481.2,372.0 480.9,371.7 481.2,371.3 481.7,370.5 481.0,371.5 481.8,370.3 482.0,370.8 481.5,369.1 481.0,369.4 480.8,368.8 481.1,367.3 481.7,367.3 481.0,366.2 482.0,366.3 482.1,366.3 481.0,365.2 481.9,364.4 481.3,365.6 481.6,364.3 481.8,364.6 481.5,362.0 482.2,362.9 482.5,361.1 481.6,361.4 481.8,360.2 481.6,359.5 482.1,359.2 481.5,358.6 482.5,359.3 482.1,359.2 481.7,357.8 483.0,356.5 481.9,357.0 482.2,355.5 483.0,356.6 482.7,355.3 482.7,355.0 482.7,354.1 483.1,354.0 482.3,353.7 483.1,353.0 482.5,352.6 483.1,351.3 483.4,351.3 482.8,351.0 483.3,349.8 483.0,350.0 482.6,349.5 482.4,348.9 482.6,347.8 483.0,348.9 483.4,347.0 483.5,347.0 482.7,346.4 483.7,346.7 484.1,344.4 483.5,344.7 483.5,345.2 483.5,344.1 484.0,344.3 483.8,343.1 483.2,342.2 483.4,342.6 484.1,340.7 484.0,341.8 484.4,340.2 483.8,340.1 483.9,340.5 484.6,339.9 484.8,337.6 484.8,337.7 483.9,337.7 484.2,336.4 485.0,335.8 483.8,335.8 484.9,336.2 484.4,334.8 484.0,335.2 485.0,333.4 484.9,334.4 484.5,332.4 485.1,332.8 484.7,330.9 484.6,331.9 484.5,331.0 485.3,330.2 485.0,330.0 484.5,329.9 485.4,329.2 485.8,328.2 485.3,327.9 485.9,327.1 485.1,326.7 486.0,327.0 485.1,326.7 486.3,325.1 486.1,325.4 485.9,323.9 485.2,324.8 485.7,324.2 486.5,323.8 486.4,323.0 486.6,323.0 486.8,322.3 486.0,321.9 485.8,319.8 486.9,320.1 487.1,319.1 486.0,318.2 487.2,319.2 486.6,318.3 486.1,318.5 486.6,316.3 486.9,316.5 487.0,316.0 487.0,316.0 486.6,315.6 486.8,314.3 487.7,314.5 487.5,314.1 487.1,312.7 487.3,313.3 486.8,312.4 487.2,312.5 487.6,311.9 487.2,310.4 487.0,309.4 487.1,308.9 487.6,309.2 487.8,309.1 488.2,308.1 487.7,307.6 487.5,306.6 487.3,306.1 487.6,305.9 487.7,305.9 488.4,305.2 488.4,304.1 487.9,304.2 487.7,303.4 487.4,304.1 487.2,303.2 487.8,301.7 487.6,302.5 487.7,301.2 487.9,300.9 488.0,300.0 488.1,299.6 487.5,298.0 488.3,297.4 488.2,297.5 488.5,297.1 487.6,296.2 488.0,296.8 488.5,296.7 488.9,295.6 487.7,295.4 488.1,294.7 487.9,293.8 488.1,293.9 489.1,292.7 488.5,292.8 488.9,291.7 488.2,291.8 488.3,291.0 488.8,290.6 489.3,289.7 488.3,289.3 489.3,289.8 488.1,287.8 488.4,288.6 489.1,286.8 489.2,287.8 489.3,286.2 489.3,285.5 489.5,284.7 488.8,284.6 489.4,285.1 489.1,284.1 488.8,283.7 488.4,283.5 489.8,282.4 489.1,282.2 489.0,282.4 488.8,281.0 489.5,281.0 489.0,279.2 489.6,278.7 489.8,277.9 489.9,279.2 489.4,278.0 489.4,279.4 489.8,279.4 489.1,278.6 489.0,279.1 489.8,280.9 490.2,280.7 489.4,282.3 490.0,283.1 489.0,283.5 489.6,283.7 489.3,283.6 490.1,284.5 490.0,283.6 490.4,284.0 490.3,285.6 490.0,285.4 490.3,287.1 489.6,287.9 489.8,288.3 489.6,287.7 489.6,287.5 489.5,288.2 490.1,289.5 489.5,290.9 490.3,290.5 489.8,290.8 490.7,291.3 490.2,292.9 490.1,293.3 489.7,293.5 489.8,293.0 489.7,294.8 490.9,295.1 490.4,294.1 490.4,296.4 490.7,294.9 491.1,297.5 490.6,295.9 490.8,297.8 489.8,297.9 489.9,297.5 490.9,299.6 490.4,298.7 490.3,299.4 490.8,300.0 491.3,299.9 490.4,301.8 490.7,301.1 490.6,302.0 491.2,302.4 491.1,303.9 490.8,303.0 491.0,303.6 490.6,305.9 490.5,306.5 491.0,306.0 490.5,305.5 490.4,307.7 491.6,307.0 490.9,307.7 491.3,308.1 491.1,309.3 490.8,308.7 491.4,310.3 490.5,310.4 491.7,311.2 491.4,312.5 490.8,311.8 490.7,313.4 491.4,313.8 491.5,313.1 491.6,313.5 491.3,314.8 491.7,314.4 491.7,315.6 491.5,315.1 491.4,315.6 491.6,317.6 491.2,317.4 491.6,318.1 492.1,319.3 491.7,318.7 490.9,319.9 491.1,320.4 491.7,321.3 490.9,321.0 491.3,321.2 491.2,322.7 491.5,322.6 491.1,323.1 491.8,322.7 491.4,323.5 491.7,323.6 492.4,324.8 492.3,324.5 492.1,326.9 491.7,326.2 491.9,326.6 491.4,328.4 492.0,328.0 491.8,329.2 492.2,328.5 491.6,329.3 491.2,329.8 491.3,330.9 491.7,330.6 491.5,331.0 491.6,332.8 491.9,332.6 491.7,334.0 492.1,332.8 492.3,332.9 492.7,335.0 491.6,334.8 492.6,336.1 492.5,336.2 491.7,336.8 492.2,336.2 491.5,337.6 492.7,337.6 492.4,337.6 492.7,339.9 491.9,340.0 492.6,339.8 492.8,339.5 492.0,340.2 492.7,342.0 491.9,342.4 492.3,342.6 492.2,343.1 492.4,343.1 492.2,343.3 492.6,345.2 492.4,345.0 492.1,344.7 492.3,343.3 491.9,342.5 492.9,342.2 492.3,342.5 492.2,342.2 492.6,340.9 492.9,341.3 493.3,340.1 493.1,340.3 492.9,338.5 492.5,338.8 492.2,337.6 493.3,337.1 493.0,336.9 492.9,336.8 492.6,336.4 492.7,337.0 493.0,334.7 493.4,334.3 493.4,335.1 493.7,334.0 493.5,334.1 493.6,333.2 493.8,333.0 493.1,331.7 493.7,332.4 493.1,331.9 493.7,330.9 493.1,329.5 493.1,329.9 493.4,328.4 493.0,329.2 493.1,327.3 493.6,326.5 493.4,326.3 494.1,326.6 493.6,325.9 493.0,326.3 494.3,323.9 493.8,325.1 494.2,325.0 494.3,324.3 493.3,324.1 494.5,322.8 494.4,321.5 493.8,320.6 493.9,322.1 494.3,320.4 494.0,320.0 493.8,318.9 494.0,318.5 494.1,318.7 494.0,318.2 494.1,317.5 494.2,317.8 494.8,316.7 494.7,315.6 493.9,315.1 493.9,315.6 495.0,314.8 494.1,313.2 494.9,313.7 494.1,314.1 495.0,313.5 495.3,312.6 495.3,312.5 494.2,310.7 494.8,310.8 494.3,309.5 495.2,310.5 494.8,310.0 495.4,309.4 494.5,307.7 495.2,308.2 495.5,306.2 495.3,305.5 494.9,305.0 495.2,304.7 495.4,304.8 495.7,304.1 496.0,303.2 494.7,303.5 495.4,303.8 494.7,301.8 495.1,301.9 495.9,301.9 495.2,300.8 495.9,300.6 495.6,300.0 495.1,299.2 494.9,298.9 495.2,298.1 495.4,298.8 495.0,296.6 495.1,296.8 495.5,297.4 495.9,295.5 495.1,295.6 496.1,294.4 496.0,294.2 496.3,295.0 495.2,294.2 495.8,292.8 495.7,293.4 495.6,292.1 495.7,290.5 496.0,290.1 496.2,289.4 495.8,289.5 495.9,289.8 496.0,289.7 496.4,287.7 495.3,288.0 496.3,287.3 495.3,287.1 495.4,285.6 496.1,285.9 496.2,284.6 495.5,284.2 496.2,284.4 495.9,283.0 495.6,283.3 496.0,282.4 496.4,282.1 495.8,281.9 495.5,280.5 495.1,281.9 496.4,280.8 495.2,279.3 495.5,278.5 495.5,278.5 495.5,279.2 495.9,279.1 495.5,276.6 496.1,277.5 496.2,276.2 496.2,275.1 496.1,275.9 495.9,275.3 495.7,274.3 495.8,274.2 496.3,273.1 495.9,272.8 495.4,273.0 495.1,272.8 495.2,270.8 496.2,270.9 495.5,270.5 496.4,270.3 495.6,270.5 495.5,268.1 496.2,269.2 496.3,267.8 496.1,266.9 495.5,268.0 496.3,267.5 495.9,266.5 495.7,265.3 496.5,265.5 496.5,263.7 495.8,264.9 496.5,264.2 496.4,262.5 496.2,261.6 495.8,260.9 495.8,260.8 495.8,261.4 496.2,261.3 496.5,259.6 495.7,259.3 495.6,259.8 496.3,258.9 496.1,257.5 495.6,258.1 495.4,258.1 495.4,255.9 496.3,256.9 495.5,256.5 496.0,254.2 496.0,253.9 496.2,254.3 496.4,254.4 496.5,253.4 496.3,253.3 496.4,252.0 496.6,252.5 495.6,250.4 496.1,250.6 495.9,250.0 495.6,249.3 496.1,249.6 496.3,247.6 496.0,248.0 495.6,247.5 496.5,246.5 496.5,245.9 495.9,246.8 495.9,246.2 496.4,244.0 496.3,244.6 495.9,243.7 496.5,243.4 497.1,242.8 497.2,242.0 497.0,241.2 496.8,242.0 497.2,240.0 497.2,239.7 497.5,239.6 497.4,238.8 497.7,239.1 496.7,239.4 497.5,238.5 497.1,236.9 497.4,237.8 497.6,237.0 496.7,235.9 497.1,235.6 497.7,235.2 496.8,234.1 497.3,233.8 497.3,232.8 497.3,233.0 498.3,231.9 498.4,232.4 498.4,232.3 498.2,231.9 497.5,230.8 498.0,230.0 497.8,228.8 497.8,229.3 497.6,227.6 498.6,228.7 497.5,226.8 497.5,227.1 498.9,225.7 498.4,225.9 498.6,225.7 498.7,224.1 499.1,225.1 497.9,222.9 498.9,224.1 498.3,223.9 498.7,222.5 497.9,222.0 498.4,221.4 498.4,221.8 498.5,219.6 498.4,220.7 498.8,219.2 499.3,220.1 498.7,217.7 498.6,217.1 499.4,218.0 498.7,217.3 499.4,217.6 498.5,215.9 499.2,215.4 499.1,214.9 499.0,214.7 499.0,213.6 499.0,214.1 498.7,212.9 498.9,213.4 498.6,211.7 499.9,212.0 499.0,211.5 499.4,209.6 499.4,210.0 498.9,209.5 499.2,210.8 500.1,212.4 499.6,212.4 499.7,213.2 499.4,213.3 499.2,212.9 499.3,213.8 499.4,214.7 499.1,214.6 499.9,216.1 500.2,215.8 500.0,215.5 500.4,217.4 500.3,216.6 499.8,217.6 500.4,219.1 499.5,220.0 499.6,218.7 500.1,219.9 500.7,219.5 500.6,221.5 499.8,220.7 500.4,221.0 499.9,221.6 500.0,224.1 500.7,223.6 500.4,224.3 500.7,225.2 500.9,226.0 500.1,226.5 500.0,225.1 500.6,225.5 500.9,228.1 500.9,227.0 500.5,227.0 500.4,229.2 500.1,228.2 500.4,229.2 500.6,230.0 500.4,230.1 500.1,231.3 500.8,231.7 500.6,232.9 501.3,232.6 500.9,233.8 501.0,233.3 501.3,233.0 501.2,233.6 501.9,235.6 500.8,234.9 501.7,236.1 501.4,236.3 501.2,236.8 501.0,236.5 501.4,237.0 501.4,237.8 501.7,239.2 502.6,240.0 502.0,240.0 502.5,239.6 502.4,239.3 501.4,238.2 501.5,238.4 501.9,237.4 501.6,238.0 501.8,235.7 501.9,235.6 501.7,235.9 502.1,233.9 502.8,233.7 502.7,235.1 502.3,234.1 501.5,232.3 502.6,232.9 501.7,231.5 501.7,232.1 502.5,230.7 502.4,230.5 502.0,230.1 501.6,230.0 503.0,228.3 502.3,228.7 502.6,228.6 502.2,228.1 502.2,227.6 502.4,226.7 503.0,225.3 502.5,225.2 501.9,225.6 502.1,223.8 502.0,224.6 502.8,223.1 502.5,222.7 502.5,221.5 502.3,223.0 502.3,221.9 502.8,220.9 502.8,220.9 502.7,220.6 502.4,218.9 502.6,219.6 502.7,217.4 502.6,218.9 502.2,217.7 502.4,217.1 503.1,216.1 502.3,215.9 503.4,214.5 502.5,214.4 502.8,215.1 502.9,214.2 502.4,213.6 503.2,212.6 502.2,213.5 502.9,213.0 503.0,211.1 502.5,212.0 503.3,210.7 502.3,209.6 502.8,208.6 502.9,208.9 502.6,208.6 503.0,208.0 503.7,209.3 503.5,208.6 502.7,209.5 503.7,209.4 502.6,211.3 502.5,211.0 503.9,211.7 502.6,211.6 503.6,212.9 502.7,212.9 503.3,212.8 502.9,213.6 503.3,215.5 503.2,215.9 502.8,215.4 503.0,215.0 503.2,216.9 503.7,216.5 503.9,217.9 504.1,218.4 503.1,219.1 504.3,219.8 504.0,218.7 504.3,220.0 504.1,221.4 503.4,220.0 504.5,222.4 503.3,221.9 504.4,222.8 504.0,224.1 503.3,223.2 503.5,225.0 504.2,224.0 504.6,225.9 504.1,226.5 503.7,226.4 504.9,225.9 504.5,227.7 504.8,227.0 504.1,227.2 504.3,229.3 504.1,229.8 504.0,229.4 504.4,230.0 504.6,231.2 505.0,230.7 504.3,232.1 504.9,232.6 504.1,233.3 504.9,233.2 504.3,234.0 503.9,234.5 504.4,235.1 504.7,234.7 504.3,235.5 504.1,235.5 504.8,235.8 505.2,237.1 504.4,236.8 504.3,237.8 504.1,238.1 505.3,240.0 505.3,240.5 505.0,241.0 504.9,240.3 504.3,241.3 505.4,242.5 505.4,241.9 505.0,243.6 505.1,243.8 505.3,243.6 505.3,243.7 505.3,244.4 504.5,245.7 505.3,245.8 504.8,245.5 505.4,246.9 505.1,247.7 504.3,248.1 505.4,247.2 504.3,249.3 504.6,249.1 505.6,248.8 505.0,249.0 505.5,251.3 504.9,251.6 504.6,252.2 505.5,252.5 504.4,252.1 505.3,253.7 505.1,253.9 505.1,254.2 504.8,253.8 505.7,255.1 504.9,255.0 505.0,256.0 504.7,256.4 505.0,256.8 505.0,256.5 505.8,257.6 505.6,259.5 505.1,258.7 505.5,260.5 505.3,260.3 504.8,260.1 505.3,261.3 505.2,262.0 505.8,261.4 505.4,261.6 505.1,263.2 505.9,262.8 505.8,264.4 505.9,263.5 505.5,264.2 505.8,265.9 505.1,267.1 506.0,266.3 505.1,267.6 505.3,268.3 505.2,268.8 505.3,268.7 505.3,269.3 505.0,269.2 505.6,270.0 505.4,270.7 506.1,271.0 506.3,270.7 506.1,271.8 505.4,272.1 505.6,273.0 505.8,274.1 506.3,273.8 506.3,274.7 505.3,275.7 506.5,275.8 506.0,276.9 506.7,276.7 505.5,277.0 505.7,277.4 506.3,277.4 505.6,278.5 506.5,279.1 506.7,280.6 507.0,279.6 506.3,280.7 506.0,282.0 506.8,282.5 506.3,282.0 506.5,281.6 506.2,283.3 507.1,282.5 506.3,284.0 506.5,284.0 506.2,284.6 506.1,285.0 506.1,286.8 507.0,286.5 506.5,287.4 506.6,288.2 507.3,287.4 506.9,288.2 507.6,288.4 506.3,288.9 507.0,290.0 507.6,290.8 507.4,291.0 507.4,291.3 507.2,292.3 507.6,293.5 507.4,293.7 506.7,292.8 507.8,293.0 507.2,293.9 507.4,294.6 507.9,294.6 507.8,297.0 507.3,297.2 507.6,296.4 507.5,296.7 507.2,297.1 507.1,299.3 507.6,299.8 507.5,299.1 507.6,299.7 508.3,299.5 507.3,300.4 507.7,301.3 507.2,302.2 508.3,302.6 507.6,303.0 507.5,302.5 507.6,303.7 508.3,304.3 508.5,304.2 507.7,304.8 508.0,306.0 508.5,304.8 508.4,305.0 508.7,304.6 508.2,305.0 508.6,302.8 508.9,303.0 508.4,301.5 509.1,302.5 509.0,301.8 509.0,301.5 509.9,300.6 509.6,300.0 510.2,299.3 509.5,297.9 509.5,299.1 510.0,297.8 509.6,297.7 509.0,297.0 510.2,295.7 509.1,296.0 509.9,295.2 509.6,296.0 510.4,295.6 509.3,293.6 509.4,294.4 509.9,293.1 509.2,293.2 510.4,291.4 509.5,290.4 510.3,290.4 509.3,291.3 510.1,289.9 509.5,290.5 509.6,289.5 510.0,288.3 510.5,287.8 509.5,286.9 509.2,286.9 510.5,287.0 509.7,285.6 510.3,286.2 509.7,284.5 509.6,285.2 509.9,284.4 510.2,284.2 510.0,282.0 510.2,281.9 510.5,282.2 510.3,281.9 510.5,281.7 510.6,281.2 509.7,280.5 509.8,280.1 510.1,279.2 509.5,277.8 509.6,277.1 510.6,278.4 509.9,276.9 510.2,276.9 509.5,277.0 509.5,274.7 510.5,274.6 510.3,274.6 510.1,274.0 510.6,273.3 510.6,273.2 510.7,271.6 509.9,271.0 509.6,271.6 510.2,270.3 509.8,269.8 510.8,270.1 510.1,269.7 510.2,269.0 509.7,269.6 510.4,268.5 510.9,266.6 509.7,266.4 509.9,265.8 510.2,266.7 510.5,266.0 510.4,265.9 510.9,263.7 510.6,265.0 510.8,263.6 510.4,263.0 510.3,262.6 510.2,263.1 510.0,265.1 510.7,264.7 511.1,265.1 511.4,265.4 510.5,265.9 511.6,267.8 510.6,268.4 510.5,268.4 511.1,267.9 511.4,268.4 511.4,270.0 511.3,270.9 512.0,269.8 511.2,269.9 511.4,270.6 511.4,271.2 511.8,272.0 512.5,273.7 511.7,273.6 512.0,274.0 511.4,273.5 512.5,274.1 511.9,274.9 511.7,275.4 511.7,277.5 511.7,277.3 511.7,278.4 512.7,278.0 512.8,279.0 512.7,279.1 511.6,278.6 512.7,281.0 512.1,281.4 512.8,280.6 512.6,282.1 512.5,281.4 511.6,282.1 512.0,283.0 512.1,283.3 512.1,283.2 512.0,284.9 512.0,285.9 512.9,285.4 512.1,286.3 512.9,287.2 512.0,286.4 511.8,288.5 512.1,287.8 512.8,288.0 512.8,287.9 512.4,288.5 512.9,289.5 513.0,291.1 512.0,290.6 513.0,291.9 512.5,291.2 512.1,292.2 512.6,293.3 513.1,293.9 512.7,294.1 512.8,293.5 512.0,295.1 512.6,296.3 512.3,295.7 512.4,296.8 513.1,296.1 512.6,297.9 513.1,298.6 512.3,299.0 512.7,299.9 512.4,300.2 513.4,300.2 512.4,300.2 512.7,301.8 512.4,301.3 512.7,302.1 513.2,301.5 512.5,302.1 512.9,303.8 513.3,304.5 512.5,305.6 512.3,304.3 513.2,305.8 513.0,306.0 512.9,306.9 513.0,306.6 512.9,307.3 512.6,308.5 512.7,308.7 513.8,309.7 513.7,308.8 513.8,308.9 513.0,310.0 513.7,312.1 513.1,311.5 513.2,312.5 512.9,313.4 513.3,312.3 514.1,314.0 514.1,314.8 513.6,314.3 514.2,315.0 513.4,315.8 513.7,316.6 514.4,317.1 513.3,317.1 513.9,316.5 513.7,316.9 514.3,317.9 513.6,319.8 513.8,319.9 514.4,320.3 513.6,319.9 514.7,320.8 514.0,321.5 513.7,322.5 514.8,323.5 514.2,323.4 515.1,324.3 514.4,325.0 514.6,324.6 514.7,324.3 514.5,325.5 515.1,326.1 514.5,327.5 514.2,326.3 514.6,328.6 514.8,327.8 515.3,327.9 515.3,328.1 515.1,330.5 515.0,330.0 515.2,329.9 514.8,331.7 514.9,332.4 515.2,331.1 515.7,333.0 515.7,331.9 515.4,333.5 516.2,333.1 515.6,334.2 516.0,334.9 515.6,335.5 516.0,335.0 515.8,336.0 515.8,336.7 515.9,337.2 516.6,337.4 517.0,337.6 516.2,339.5 516.8,339.1 516.3,340.5 516.5,341.2 517.4,340.2 517.1,340.9 517.0,342.9 517.2,343.3 516.9,342.5 517.3,343.2 517.3,343.5 516.9,344.7 516.9,344.4 516.9,345.9 517.6,346.0 517.1,345.0 518.1,345.0 517.6,344.1 517.7,344.6 517.5,342.7 517.3,343.4 517.7,343.4 517.4,342.5 517.7,341.0 518.1,340.6 517.5,340.4 517.8,339.1 518.6,339.3 517.7,338.2 517.5,337.8 517.4,338.1 518.2,338.3 517.7,337.7 518.4,335.5 517.7,335.3 518.6,336.0 517.5,334.4 517.7,334.8 518.1,335.0 518.7,333.0 517.9,333.0 518.1,333.1 517.8,332.8 518.4,331.3 519.0,330.7 518.7,331.5 518.9,331.1 518.3,330.1 518.9,328.6 518.4,329.4 518.9,327.6 518.9,326.7 518.4,327.2 518.3,325.4 518.7,326.3 518.8,324.8 518.0,324.0 518.7,323.5 518.2,324.0 518.5,323.9 518.2,323.0 518.6,321.8 519.3,323.0 519.4,321.0 518.1,321.4 519.4,320.2 518.6,320.7 518.9,319.7 519.2,319.0 519.4,318.6 519.3,316.9 518.9,318.4 519.0,317.4 519.0,317.5 518.4,315.5 518.6,316.3 519.7,314.3 518.8,313.9 519.3,314.5 518.8,314.2 519.1,313.0 519.0,312.4 518.6,311.0 519.9,311.0 519.1,312.1 519.0,309.6 519.8,309.8 519.5,309.1 518.8,308.4 519.8,308.6 519.6,308.5 519.5,307.9 519.0,306.3 519.4,307.3 519.1,306.6 520.0,306.0 519.0,304.2 520.0,303.9 519.6,304.0 519.0,304.7 520.1,305.7 520.2,305.7 519.9,306.9 519.9,306.4 519.8,307.2 520.7,307.5 520.4,307.0 520.8,307.5 521.1,309.3 521.4,309.9 521.0,310.0 521.4,310.0 521.7,311.2 521.2,311.2 521.6,312.3 521.2,312.7 521.6,314.1 520.8,314.5 520.9,313.9 521.6,315.2 521.1,314.6 521.4,315.5 521.2,315.6 520.7,317.5 521.2,317.9 521.6,316.6 521.0,317.7 521.1,317.6 521.9,319.0 521.1,319.5 521.8,320.7 521.5,319.9 521.0,321.2 521.7,322.6 521.3,321.0 521.8,322.9 521.4,322.5 521.4,324.3 521.9,323.5 521.6,324.0 521.2,325.7 522.3,325.1 521.7,326.9 521.6,326.9 522.6,326.6 522.4,327.1 522.7,327.2 521.6,328.9 521.9,328.9 522.6,328.8 521.8,330.3 521.8,330.4 521.8,331.3 522.5,330.5 522.7,333.0 522.0,333.1 522.1,333.9 523.0,334.0 522.4,334.0 522.3,333.2 522.1,333.8 523.2,333.0 523.2,331.6 522.1,331.5 523.4,331.2 523.3,330.8 522.7,330.0 522.6,329.3 523.6,329.9 523.2,329.0 522.8,328.3 523.7,326.6 523.9,326.3 522.6,325.5 523.2,326.5 523.0,326.5 523.8,324.2 523.9,323.9 523.8,323.0 524.0,323.2 523.9,322.1 523.7,322.3 523.3,321.8 524.5,320.5 524.5,320.7 524.4,321.2 524.0,320.0 524.1,319.8 524.7,318.9 524.5,318.5 523.8,319.1 523.6,318.5 524.5,316.3 524.7,315.5 524.5,317.0 524.5,316.4 524.5,315.5 524.8,315.4 524.0,313.3 524.1,312.6 524.8,312.8 525.0,311.6 524.2,312.2 524.1,312.0 524.0,310.0 524.9,310.6 524.1,310.6 523.8,309.1 524.4,309.8 524.6,308.4 524.6,309.0 524.3,306.8 524.5,306.2 524.2,306.8 524.5,305.3 523.9,306.5 525.0,305.3 524.7,304.5 525.3,305.1 525.3,303.8 524.9,303.9 524.3,302.5 524.8,301.6 524.8,301.7 525.3,300.9 524.6,300.6 524.1,299.0 524.1,300.3 525.3,299.6 524.5,298.8 524.3,298.1 524.9,297.9 524.3,297.9 525.0,297.6 524.3,296.5 525.4,296.6 524.6,294.6 525.5,294.9 524.4,294.2 524.7,294.2 524.5,293.5 524.9,291.7 524.7,292.7 525.7,292.5 524.5,291.8 525.3,290.3 524.5,290.5 525.2,288.9 525.2,288.1 525.8,289.3 525.5,289.1 524.8,287.5 525.9,287.9 525.5,285.6 525.3,286.1 525.4,285.0 524.9,284.6 525.0,285.5 524.9,283.4 526.1,282.7 525.4,283.0 524.8,283.3 525.6,284.3 526.1,285.4 524.9,285.7 525.3,285.7 526.2,285.2 525.8,287.4 525.7,287.3 526.3,287.2 525.4,288.4 525.3,289.4 526.0,289.1 525.6,289.6 526.1,290.3 525.6,290.0 526.3,291.6 526.5,290.5 527.0,291.8 526.6,293.6 526.9,292.7 526.2,293.5 526.6,293.2 526.8,295.3 526.2,295.3 526.8,294.9 527.3,295.2 527.2,295.6 527.4,296.5 527.2,297.9 527.0,298.0 527.3,298.1 526.8,296.9 527.3,297.0 527.1,295.7 527.4,294.6 527.3,294.8 527.6,294.1 526.7,294.4 527.2,292.6 526.8,294.0 527.5,291.7 526.9,292.1 527.5,290.5 527.7,291.0 527.8,289.6 527.0,290.3 527.1,289.5 527.7,289.8 527.9,287.7 527.4,288.7 527.6,287.7 527.8,286.6 527.9,286.8 527.9,285.6 527.9,286.3 528.8,285.6 528.6,284.2 528.6,284.4 529.0,282.9 527.7,283.0 528.7,282.1 529.1,281.3 528.7,282.3 529.2,280.7 528.9,279.7 528.6,279.2 529.1,279.6 528.1,280.0 528.8,279.3 529.4,278.2 528.8,277.9 528.9,276.3 528.3,277.1 529.0,276.0 529.9,276.0 529.6,275.9 529.6,274.2 530.5,275.1 530.5,273.9 530.9,273.2 531.0,273.0 530.9,272.6 531.2,274.7 530.9,274.9 531.4,275.4 530.7,275.4 531.3,276.8 530.5,275.6 530.8,277.6 530.8,277.6 531.0,278.4 531.2,278.0 531.4,279.9 531.9,279.6 531.7,280.9 531.7,280.8 531.9,280.1 531.6,281.0 531.5,281.1 531.3,282.5 532.0,284.1 532.3,283.8 532.1,283.8 531.2,284.1 532.0,285.1 531.2,284.9 532.0,287.0 531.7,286.5 532.4,287.5 532.1,287.6 532.4,287.6 531.3,289.2 532.2,288.1 532.6,289.4 532.0,289.1 531.6,291.2 532.4,291.2 532.2,291.2 532.6,293.1 531.6,292.0 532.6,293.4 532.6,292.7 532.1,293.9 531.6,294.6 531.9,295.0 532.7,294.6 533.0,296.5 532.2,295.6 532.7,296.8 533.2,297.4 532.7,297.6 532.1,298.3 532.2,299.0 532.3,300.0 533.1,300.4 532.4,299.5 533.0,300.8 533.4,300.7 532.9,302.8 532.5,302.3 532.5,301.9 533.5,303.3 533.3,302.9 533.5,304.5 533.4,304.6 532.6,305.4 533.0,306.0 533.0,306.1 532.8,306.0 532.7,306.7 533.1,308.7 533.9,308.6 533.2,308.6 534.5,310.4 534.0,310.0 534.7,309.2 534.4,308.5 534.5,308.6 534.5,307.0 534.1,307.0 534.6,306.6 534.5,306.5 534.9,305.7 534.7,305.7 535.2,305.5 535.3,303.7 535.0,304.3 535.6,304.4 535.7,303.2 535.7,302.0 535.7,301.7 535.5,300.9 536.4,302.0 535.6,300.5 536.0,300.0 535.4,300.2 535.7,299.8 535.7,298.5 536.3,298.2 536.7,298.0 536.1,296.8 536.0,296.4 536.6,295.0 535.9,295.9 535.7,295.7 536.0,295.3 535.9,294.6 536.8,293.1 536.4,293.6 536.9,292.7 536.9,292.9 537.0,290.9 536.3,291.3 536.6,289.6 536.5,290.9 536.5,288.8 536.2,289.9 536.4,287.6 536.2,288.2 536.1,287.5 536.5,287.4 536.3,285.8 536.5,285.3 536.7,285.3 537.1,284.3 536.7,284.0 536.2,283.2 536.8,283.5 536.9,283.4 536.1,283.5 537.4,281.5 536.3,282.1 536.2,281.3 536.5,281.5 536.3,280.0 536.3,278.7 537.2,279.6 536.4,279.6 536.4,277.6 536.6,277.0 537.1,275.9 537.4,277.2 537.0,276.0 538.1,276.3 537.5,275.5 538.0,277.0 539.0,276.0 539.3,277.0 539.7,277.6 540.2,276.8 539.5,277.9 540.0,278.5 539.7,278.6 540.4,278.6 540.8,279.1 540.4,281.3 540.2,281.0 540.4,280.6 541.0,282.0 541.2,283.4 540.9,283.9 540.9,283.9 541.7,283.3 541.5,284.0 541.1,284.2 541.8,285.0 541.1,286.8 541.2,286.7 541.5,287.6 541.3,288.3 541.0,289.1 540.8,289.2 541.5,289.8 541.0,288.6 541.9,289.8 541.3,291.3 541.8,290.4 541.8,291.7 541.1,292.1 541.9,291.8 542.3,292.7 541.9,293.1 541.7,295.1 541.7,294.4 541.6,294.8 541.6,296.5 542.6,295.2 542.4,297.4 542.3,298.0 541.8,298.4 542.5,298.4 542.1,299.0 542.8,298.3 541.6,299.8 541.7,300.9 542.8,301.6 541.8,300.8 541.8,301.9 542.4,302.0 541.9,301.6 542.1,302.3 543.1,304.4 542.9,304.4 542.6,303.8 542.4,304.1 542.3,305.0 543.0,305.1 543.1,306.5 542.8,306.1 543.0,308.3 543.5,308.5 543.0,307.8 543.7,308.1 543.3,309.2 543.0,309.0 543.3,310.7 543.6,311.7 543.9,312.5 543.3,311.6 543.6,311.7 543.6,313.0 543.8,313.0 544.0,314.0 544.6,314.0 544.9,313.1 544.6,312.7 545.3,311.6 545.3,311.5 545.4,311.6 544.9,310.7 545.3,309.3 545.3,310.5 545.4,308.2 546.1,308.4 546.0,308.0 546.2,306.7 546.1,306.9 546.2,306.4 546.2,307.1 545.6,304.5 545.9,304.2 545.5,305.0 546.7,302.9 545.8,302.9 546.1,304.1 545.7,302.3 546.3,301.3 546.1,301.9 546.6,301.7 546.6,300.1 545.9,298.9 546.6,300.2 546.7,299.2 546.3,297.5 546.4,297.1 546.2,298.1 546.6,297.9 547.0,297.0 547.2,295.2 546.9,295.8 546.7,294.2 546.6,295.4 546.9,294.9 547.1,292.5 546.5,293.8 547.0,292.5 546.7,291.8 546.6,291.2 546.7,291.2 546.3,289.8 547.0,290.2 546.8,289.5 546.7,290.1 546.6,288.6 546.6,288.2 546.7,287.3 546.3,286.6 546.9,286.8 547.0,286.0 547.8,284.6 547.6,284.6 548.1,285.7 549.2,284.9 549.0,284.0 549.7,284.5 549.4,284.2 549.6,285.0 549.5,285.4 549.5,286.3 550.1,287.1 550.1,287.0 549.8,288.1 549.6,288.3 549.3,288.2 549.9,289.9 550.3,290.5 549.7,289.9 551.0,290.2 550.0,291.6 550.5,292.8 551.2,292.7 550.7,292.9 551.6,292.6 551.0,294.0 551.0,295.1 551.3,294.1 551.6,296.4 551.5,295.3 551.8,295.7 550.6,297.4 551.6,298.1 551.4,297.1 550.8,298.8 551.9,298.7 551.9,299.2 551.5,300.4 551.9,300.8 551.2,301.4 552.1,302.1 552.0,302.2 551.5,303.6 552.6,302.5 552.2,304.1 552.0,304.0 552.2,303.0 552.3,302.2 553.2,302.5 553.0,302.0 553.7,300.9 553.8,301.3 553.2,299.6 552.6,300.0 552.7,299.8 552.9,299.9 553.6,297.5 553.9,298.4 553.1,297.2 553.7,297.9 553.4,297.2 554.2,297.0 553.8,296.2 553.1,295.5 554.2,294.2 554.3,293.7 554.3,293.1 554.0,293.3 553.4,291.6 553.8,291.8 554.2,292.5 554.7,290.2 554.4,289.7 553.6,289.1 554.8,290.0 554.3,289.2 554.5,287.6 554.4,288.9 553.8,288.0 553.9,287.1 554.1,285.6 554.0,285.8 555.3,284.7 554.6,284.6 554.6,283.9 554.7,285.1 554.3,284.2 555.3,282.9 555.2,282.6 555.0,282.0 555.8,280.5 555.6,281.7 555.6,281.5 554.9,280.2 556.0,278.6 555.8,279.7 556.1,278.2 556.0,278.0 556.5,279.4 555.8,278.4 556.7,280.1 556.2,281.1 557.1,280.7 556.3,280.1 555.9,281.3 556.6,281.1 556.4,283.3 557.2,282.7 556.4,284.5 557.6,284.6 557.3,284.9 556.8,285.1 556.6,285.1 556.9,285.1 557.7,286.4 557.2,287.6 557.8,287.9 558.2,287.3 557.7,287.6 558.2,289.6 557.3,289.2 558.0,290.0 557.9,290.7 559.1,289.4 559.8,291.0 560.0,290.0 560.6,290.3 559.4,290.7 559.8,292.0 560.0,292.8 559.9,293.4 560.9,293.1 559.7,294.1 560.9,293.2 560.8,293.6 560.2,294.5 560.1,295.8 561.3,296.0 561.3,296.0 560.2,296.5 561.2,297.1 560.6,298.8 561.0,298.3 561.4,298.2 560.5,299.8 561.0,300.4 561.5,300.9 560.6,301.5 560.8,300.6 560.9,301.7 561.3,301.7 561.5,302.7 562.0,303.5 561.9,304.7 561.6,304.9 560.9,305.9 562.2,306.4 561.0,305.4 561.4,305.8 561.4,306.1 561.9,308.3 561.6,308.7 562.4,308.7 562.4,308.5 562.1,309.8 562.0,310.0 561.4,311.6 561.8,311.0 562.6,311.5 561.7,313.1 562.8,312.5 562.1,311.9 562.1,314.6 562.8,313.2 562.7,313.6 562.5,316.0 561.9,315.5 563.3,315.1 562.6,317.2 563.2,317.1 562.9,317.6 563.0,319.1 563.1,317.9 562.5,319.0 563.2,320.1 562.7,319.3 562.5,321.1 562.4,319.9 563.1,322.2 563.9,321.5 563.0,321.6 562.8,322.3 563.8,324.0 563.7,324.6 563.0,325.5 563.5,324.5 564.0,324.9 563.6,326.0 563.0,327.1 563.2,328.1 564.3,327.1 564.6,328.2 564.1,328.0 564.6,329.2 563.9,329.1 563.9,329.6 564.9,330.7 564.6,331.5 563.8,331.7 564.9,331.1 565.2,332.5 564.0,334.0 564.6,334.2 565.5,333.0 564.6,334.5 565.0,335.0 564.8,335.0 564.9,334.0 565.0,334.1 565.2,332.7 565.7,332.4 565.9,331.2 564.7,331.9 565.9,330.0 565.1,331.0 565.7,330.1 565.7,330.3 565.6,328.7 565.1,328.1 566.0,328.8 565.4,326.9 566.3,326.0 565.5,326.3 566.0,325.0 566.0,324.5 565.4,324.9 566.2,323.8 566.1,323.0 565.4,323.1 565.4,323.7 566.1,323.2 566.0,322.1 565.4,322.5 565.9,321.3 566.6,320.3 566.0,320.6 566.7,320.4 566.1,318.6 566.3,318.7 566.6,318.7 566.6,317.0 566.8,317.6 567.0,315.6 566.4,316.8 566.4,314.8 566.0,315.5 566.0,314.2 566.6,313.3 566.7,314.0 566.2,312.6 567.0,312.8 566.9,311.5 566.7,312.5 566.9,310.5 566.9,309.7 567.0,310.0 567.2,310.5 567.3,307.9 567.6,307.8 566.6,307.5 567.3,306.4 568.0,306.8 566.7,306.9 568.1,305.0 567.0,304.7 567.4,304.7 567.0,305.5 568.0,303.5 567.9,303.5 568.2,302.4 568.5,303.0 568.1,302.1 568.2,300.5 568.5,301.0 567.6,300.2 568.4,300.6 567.8,299.2 568.9,298.0 568.1,299.5 568.6,298.0 568.3,296.6 568.8,296.6 567.9,297.5 568.0,295.9 568.9,295.6 568.5,295.5 568.4,294.9 568.7,295.0 569.3,292.9 569.4,292.9 568.7,291.7 569.0,292.0 568.8,290.6 569.2,290.9 570.1,291.6 570.4,291.3 571.1,290.7 570.4,288.4 571.0,289.0 571.2,289.2 571.8,289.0 571.7,290.0 571.4,291.5 571.2,292.1 571.7,291.2 571.7,293.6 571.8,293.2 571.5,292.6 571.5,293.6 571.1,295.4 571.1,294.3 572.0,295.6 572.1,295.3 572.2,296.3 572.2,297.2 571.5,297.2 571.2,298.1 571.2,299.4 571.5,298.6 571.7,299.5 572.5,299.1 571.7,300.6 572.0,301.8 572.1,301.9 572.3,301.7 572.0,301.9 571.6,304.0 572.4,302.7 572.7,303.8 572.1,305.1 572.0,305.4 572.7,305.9 571.9,305.2 572.8,306.7 572.2,308.0 572.6,308.6 572.1,308.7 573.2,307.8 572.2,308.9 572.4,309.7 572.1,309.0 572.2,309.6 572.5,311.6 572.9,310.8 573.0,313.1 573.5,311.7 573.2,312.1 573.5,313.1 573.0,314.0 573.3,315.4 573.1,314.6 572.7,315.9 573.6,316.4 572.9,316.1 573.3,316.2 573.2,316.9 574.3,318.8 574.1,318.1 573.8,319.9 573.6,318.7 574.8,319.5 574.9,320.0 573.8,320.6 575.0,322.3 574.8,322.1 574.6,322.2 575.4,322.8 574.4,323.7 575.0,324.0 574.9,323.1 575.7,323.4 575.1,323.4 574.7,321.3 575.9,320.6 575.6,320.5 574.7,321.5 575.6,319.6 575.0,320.0 575.8,318.5 574.8,318.2 575.6,317.6 575.9,317.4 575.2,317.1 575.1,317.0 576.3,315.4 575.3,315.7 575.4,314.1 575.8,313.8 576.1,314.0 575.5,314.4 576.0,313.6 576.4,312.0 575.6,311.5 576.1,312.0 575.6,310.5 575.4,311.2 576.8,310.2 576.3,309.3 576.0,308.7 575.6,307.9 576.3,307.6 576.5,306.7 576.3,307.9 576.1,307.6 575.8,307.0 577.2,306.4 577.3,306.0 576.6,305.2 576.2,304.7 576.2,304.3 577.1,303.4 577.2,302.1 577.3,302.9 577.1,301.9 576.5,300.8 577.3,300.7 577.0,300.0 577.2,298.7 576.7,299.0 578.0,299.6 577.2,299.1 577.5,298.5 577.9,297.7 578.3,296.8 577.7,295.2 579.1,294.5 578.8,296.0 579.0,294.7 579.0,294.0 579.8,294.6 579.7,293.2 580.2,294.3 581.0,294.0 580.8,294.2 581.3,294.7 581.7,296.5 581.7,296.7 581.5,297.4 582.5,296.1 581.5,297.3 582.0,296.9 582.0,299.2 582.7,299.3 582.8,298.6 583.0,300.0 583.8,300.5 583.1,300.0 583.5,298.3 582.9,299.1 582.9,297.3 583.4,297.5 583.5,295.5 583.6,295.0 584.0,296.5 584.2,296.0 584.2,294.6 584.3,293.0 584.0,293.4 584.5,293.9 584.8,292.1 585.3,292.2 584.1,291.5 584.5,290.8 585.1,291.2 585.0,290.0 585.5,290.5 585.4,288.1 585.6,289.3 585.4,289.0 585.2,287.7 585.6,287.2 585.8,286.6 585.8,286.9 587.0,285.5 586.6,285.0 586.2,285.6 586.3,286.9 587.2,285.7 586.3,287.3 586.4,286.7 586.4,287.0 587.4,287.7 586.3,288.5 586.3,290.1 587.3,290.1 587.7,291.4 587.2,290.2 587.4,290.4 587.8,292.6 587.4,291.7 587.6,293.6 587.8,293.3 587.1,294.8 587.2,294.9 587.7,294.4 587.5,296.2 588.1,295.4 587.2,296.4 587.0,295.9 587.7,298.0 587.4,297.2 587.5,297.7 587.8,298.0 587.4,298.5 587.7,300.9 588.0,299.7 587.3,301.4 587.2,301.7 587.2,301.1 588.4,302.3 587.7,302.0 588.3,303.6 588.0,304.0 588.4,302.6 587.9,302.6 587.5,302.4 588.3,302.0 588.6,301.4 588.3,300.3 588.3,299.9 588.3,300.3 588.5,298.9 588.9,298.2 589.1,299.3 588.3,297.3 588.8,296.5 588.8,297.0 589.2,295.8 589.2,295.1 589.0,295.3 588.8,295.0 588.8,295.0 589.3,292.9 589.1,293.1 589.4,293.7 589.7,293.4 589.9,292.1 588.7,292.0 590.0,291.9 589.4,289.7 589.5,289.2 589.3,288.8 590.1,290.0 590.2,288.7 590.3,288.9 589.7,287.2 589.6,286.3 590.4,286.1 590.0,286.0 589.9,286.3 590.3,284.0 590.4,283.6 590.3,283.4 590.8,283.6 590.4,283.6 591.1,282.3 590.9,281.2 591.3,280.6 591.0,280.8 590.3,279.7 590.8,279.2 591.0,280.6 591.5,279.8 591.1,277.8 590.6,278.1 591.2,277.9 591.4,277.0 591.2,277.0 591.7,278.9 591.5,279.1 591.0,279.0 592.2,278.5 592.2,279.9 591.3,280.8 592.6,280.7 591.4,281.6 591.4,283.0 592.3,282.4 591.5,282.7 591.5,282.7 592.2,283.6 592.3,284.9 591.7,286.0 592.6,285.6 591.9,287.0 592.4,285.9 592.9,287.0 592.3,286.6 593.3,288.7 593.5,288.9 592.8,289.9 592.3,289.4 593.0,290.0 593.5,290.6 593.5,291.6 592.8,292.5 592.5,292.6 592.5,291.7 592.5,292.3 593.3,293.3 593.3,294.9 593.0,293.5 593.8,296.1 593.9,296.4 593.4,295.1 593.9,297.5 593.2,296.3 592.8,297.3 593.1,297.7 593.2,299.2 593.4,298.3 593.6,299.5 592.9,299.9 593.3,300.0 594.1,302.1 593.6,302.4 593.5,302.8 593.7,302.1 593.4,303.9 594.2,304.4 594.3,303.4 593.1,304.9 593.9,304.6 593.5,306.0 594.2,305.2 593.6,306.1 593.6,307.6 593.3,307.1 594.4,307.1 593.9,309.5 594.7,309.4 594.4,309.8 594.0,309.0 594.1,309.4 593.6,311.0 594.7,311.3 594.2,311.2 594.4,313.4 594.9,312.0 593.9,313.4 594.3,314.9 594.6,314.7 593.9,315.4 594.4,315.9 594.4,316.0 593.7,315.2 594.2,314.8 594.5,315.1 594.6,313.4 594.5,313.7 594.0,313.2 594.7,312.8 594.9,312.6 594.1,311.1 594.4,311.3 595.3,310.2 595.2,308.9 594.5,309.6 595.4,309.5 595.4,309.5 594.6,309.0 594.4,307.7 594.5,306.1 594.7,306.9 595.3,305.3 594.8,306.5 595.2,305.7 595.8,303.7 594.5,304.7 595.6,303.1 595.6,303.4 595.0,302.9 595.7,302.0 595.3,300.8 594.7,300.0 595.8,301.6 595.8,300.8 595.4,298.6 596.0,299.1 595.6,299.0 595.1,299.0 595.6,297.7 595.4,297.2 596.2,295.8 595.2,296.4 596.0,295.5 596.0,295.1 595.3,294.1 595.5,293.7 595.3,294.4 595.6,292.3 595.3,292.4 595.3,291.9 595.4,291.4 595.4,290.4 596.6,289.5 596.0,290.0 596.4,291.1 597.2,290.0 596.9,291.3 597.9,292.5 598.0,292.0 598.1,291.7 597.5,293.2 598.7,293.0 598.6,294.6 597.7,293.8 598.4,294.4 597.9,295.8 598.1,296.3 599.3,295.5 598.4,296.1 598.8,298.1 599.2,297.6 598.7,298.6 599.1,298.1 599.6,300.2 599.5,299.1 599.3,299.7 599.9,300.3 598.8,301.5 599.4,301.9 599.8,302.6 599.5,303.8 599.2,303.6 599.1,304.6 599.4,304.6 600.1,304.1 599.4,305.5 600.0,306.0 600.2,305.8 599.9,308.0 600.4,306.8 600.4,307.5 599.7,307.4 600.9,310.0 600.1,310.0 600.9,309.3 601.3,311.4 600.1,310.4 601.1,311.3 600.3,311.0 601.5,313.5 600.9,313.5 601.3,314.6 600.9,314.0 601.4,315.5 601.9,315.6 601.4,315.1 602.1,316.5 602.2,316.0 601.5,316.9 601.5,318.3 601.7,318.5 601.8,319.4 602.3,318.6 602.6,320.3 602.0,320.0 602.5,319.9 602.0,318.2 601.5,318.2 602.3,318.8 602.0,317.9 602.3,317.9 602.8,315.4 602.6,315.5 602.9,314.5 602.2,314.0 602.6,313.5 601.8,314.2 602.0,312.4 603.0,313.7 602.5,313.3 602.7,312.8 602.1,310.5 602.9,310.6 602.8,311.0 602.7,309.5 603.4,309.2 602.7,309.0 602.2,308.6 603.0,307.3 603.2,307.4 603.6,306.7 602.4,307.4 602.7,307.0 603.3,305.2 603.1,305.7 603.6,303.7 602.9,303.1 603.2,303.0 602.9,303.3 603.9,301.8 603.3,301.8 603.4,301.1 602.9,300.5 604.0,300.5 604.1,298.9 603.0,300.4 603.0,299.2 603.1,297.7 603.5,298.8 603.7,296.4 603.2,298.1 604.1,296.5 603.5,295.6 603.1,294.9 604.3,294.7 604.3,295.5 604.1,293.5 603.8,292.7 603.6,292.7 603.3,293.3 604.0,292.0 604.1,291.2 604.3,290.9 603.9,290.2 604.2,289.6 604.1,289.4 604.9,289.7 604.9,288.4 605.1,287.0 605.0,287.9 604.0,287.8 604.4,286.7 604.1,286.3 605.0,285.2 604.6,285.6 605.5,283.4 604.7,284.1 604.8,283.1 605.2,283.8 605.6,282.3 605.8,283.1 604.8,280.8 606.0,280.1 605.1,281.6 605.9,279.3 605.4,280.6 605.3,279.6 605.3,278.3 606.4,278.4 605.7,278.5 606.4,278.0 606.0,275.7 606.0,276.0 605.8,274.8 605.8,274.2 606.4,275.1 605.6,274.7 606.7,273.5 607.0,272.1 605.7,271.7 605.9,272.6 606.7,270.7 607.0,271.5 606.7,270.0 606.5,271.1 606.9,268.5 606.7,269.1 607.1,268.6 606.5,268.4 606.9,267.9 607.7,267.9 606.8,267.1 606.7,265.7 606.5,266.1 606.8,265.7 607.4,265.2 607.6,263.3 607.7,264.2 607.4,263.6 607.3,261.6 607.6,261.1 607.4,262.4 608.2,261.5 607.6,259.7 607.8,259.1 608.2,260.2 607.3,258.6 608.0,258.2 608.0,258.0 608.3,256.5 608.5,257.4 607.8,255.6 607.7,255.2 608.2,254.7 607.7,254.7 607.7,253.5 608.9,254.2 608.2,253.0 608.4,252.8 608.8,251.8 608.8,252.3 609.2,252.2 609.2,251.2 608.2,251.4 609.1,250.2 608.8,248.6 608.5,249.9 609.0,248.3 609.7,248.0 608.9,247.3 609.2,247.3 609.6,245.5 609.7,246.5 610.0,245.2 608.9,246.0 609.2,245.3 610.1,244.5 609.3,243.5 609.8,242.5 609.8,243.6 609.9,242.2 609.8,241.0 610.4,240.1 609.9,240.8 610.0,240.0 610.7,238.8 610.8,239.3 609.6,238.1 609.7,238.8 610.5,238.4 609.7,236.9 610.9,235.7 610.3,236.3 611.1,234.9 610.2,234.0 610.8,234.8 610.1,233.2 610.8,233.8 610.2,233.8 611.0,232.8 611.0,232.0 611.2,231.2 611.2,230.7 611.4,230.5 610.5,229.7 610.6,230.3 610.6,228.8 611.6,228.2 610.6,227.2 611.2,226.8 611.8,226.2 612.0,226.7 611.1,225.7 611.6,224.6 612.1,224.0 611.8,224.3 612.1,222.9 611.1,223.4 611.3,222.2 611.5,222.8 611.8,220.9 611.8,221.2 612.2,220.9 611.4,221.7 612.1,222.6 612.1,222.3 613.1,222.7 612.8,224.8 612.7,224.9 612.8,225.4 612.6,226.5 613.4,226.0 614.2,227.5 613.9,226.9 614.0,228.2 614.5,228.0 613.8,227.8 613.9,229.4 613.8,229.8 613.8,230.6 614.2,230.4 615.2,231.5 614.3,231.9 615.0,232.0 614.9,233.6 614.7,233.3 615.1,233.5 615.3,233.8 615.6,234.8 614.9,234.4 615.5,235.6 614.8,235.8 615.9,236.3 615.1,237.3 614.8,237.2 616.0,237.0 615.0,238.2 615.1,238.0 615.6,239.7 614.9,240.5 615.7,240.8 615.3,241.3 616.4,242.4 615.5,240.9 615.6,243.1 615.7,243.3 616.1,243.4 615.5,244.5 615.8,244.5 615.7,245.1 616.1,246.2 616.0,246.0 616.3,246.6 616.5,247.6 616.5,246.6 616.7,247.9 615.8,249.0 615.7,249.3 615.6,249.9 616.6,250.5 616.3,251.1 615.8,250.9 616.4,251.0 616.9,252.9 616.4,251.4 616.1,253.5 616.4,254.0 616.5,254.6 616.9,255.5 616.4,255.5 616.9,255.0 617.1,255.1 616.5,255.6 617.1,257.5 615.9,257.1 616.9,257.4 616.2,258.1 616.5,259.0 616.3,259.0 617.3,259.0 616.3,259.9 616.7,261.3 616.8,262.5 616.8,261.1 616.3,262.7 616.3,263.6 617.2,263.0 617.5,265.0 616.7,263.7 616.9,264.5 617.4,264.7 617.0,266.0 617.0,266.3 617.5,266.8 616.5,266.4 617.0,267.7 617.0,269.0 616.9,269.1 616.6,268.4 617.1,270.4 616.9,271.5 616.6,270.1 616.9,270.9 616.7,271.3 617.9,272.1 617.8,273.9 617.2,274.1 617.7,274.3 617.5,274.7 616.8,275.3 617.5,276.3 617.8,276.0 617.6,276.0 617.1,276.2 617.6,277.1 617.1,278.5 618.1,277.7 618.2,278.7 617.5,279.9 618.2,280.8 618.1,280.7 617.8,279.9 617.7,280.5 618.2,281.5 617.9,281.5 618.2,282.3 617.1,283.1 618.0,284.2 617.5,284.3 617.1,284.3 617.3,286.5 617.4,286.3 618.1,285.6 618.3,287.7 618.3,286.6 617.3,288.3 618.6,289.0 617.3,289.4 617.4,288.8 618.0,290.0 617.9,290.9 617.9,290.5 618.5,291.2 618.0,291.1 617.9,293.1 617.6,293.0 618.1,293.8 618.0,294.0 618.7,295.5 618.0,295.0 618.7,294.4 618.1,295.4 618.5,295.4 618.3,296.9 619.2,298.5 619.4,297.1 618.3,298.6 618.9,298.2 619.0,300.4 619.0,299.9 618.8,300.8 619.7,301.2 618.9,301.9 619.3,302.2 619.1,301.6 619.7,302.6 618.7,303.2 619.0,304.5 618.8,305.2 619.6,304.1 619.9,305.3 619.7,305.5 619.2,306.1 619.8,308.1 620.0,307.5 620.1,308.6 619.7,307.5 620.4,308.2 619.5,309.1 620.0,310.0 620.4,310.3 620.1,310.2 620.7,312.0 620.6,312.9 619.9,313.2 621.1,312.9 620.6,314.6 621.3,315.0 620.4,315.0 620.8,314.0 621.7,316.4 621.7,316.1 621.5,315.6 621.8,316.5 622.1,316.6 621.3,317.5 621.9,318.1 622.0,319.0 621.9,318.5 621.6,318.1 621.4,317.4 622.2,317.1 621.4,316.5 622.7,315.7 621.8,316.2 622.7,315.7 622.2,313.9 621.7,314.3 621.8,313.9 621.8,312.9 622.5,312.8 622.1,312.2 622.9,312.1 622.3,310.0 621.8,309.8 621.8,310.4 622.6,308.5 623.1,308.9 623.1,307.8 622.8,309.0 622.8,307.0 623.2,306.6 622.4,306.5 622.3,306.8 622.6,304.6 622.4,305.6 623.2,303.5 623.0,304.8 622.0,303.6 623.3,303.3 623.4,303.0 622.4,302.8 622.8,300.7 622.7,299.9 623.4,299.4 623.4,299.3 622.3,299.9 623.0,299.1 622.7,298.2 622.9,298.9 623.1,298.3 623.1,296.6 622.5,296.5 623.3,294.9 622.9,295.9 622.8,296.0 623.2,295.1 622.7,294.7 623.0,292.7 623.1,292.3 623.2,293.4 623.1,291.4 623.6,291.2 623.4,291.7 623.0,289.9 622.8,290.3 622.8,290.4 622.8,289.8 623.8,289.1 624.1,287.7 623.8,287.7 622.8,287.1 623.8,286.1 623.2,285.1 622.9,284.8 623.6,285.0 623.2,284.5 623.7,286.0 624.5,285.7 625.0,287.8 624.5,286.6 624.9,286.9 624.5,288.7 625.0,289.9 625.6,289.9 625.6,290.0 626.2,290.5 625.6,291.3 625.3,290.8 625.3,292.6 626.1,291.8 626.6,292.2 625.7,293.1 626.6,294.2 627.0,295.0 626.7,295.5 626.8,295.6 627.1,296.5 626.6,296.7 626.6,296.7 627.0,298.2 627.0,297.0 626.7,298.3 627.6,298.6 626.7,298.5 626.4,299.7 627.1,300.6 626.6,302.0 627.8,300.8 627.3,302.5 626.9,301.9 627.2,303.1 628.0,304.2 627.5,303.0 627.2,304.2 627.3,304.5 628.3,305.5 628.0,306.0 627.8,306.3 628.7,308.1 628.6,306.6 628.8,308.8 628.4,307.8 628.8,309.7 629.4,310.2 628.4,309.3 629.5,311.3 629.2,310.0 628.6,311.7 629.8,312.5 629.4,312.7 629.4,313.8 629.5,314.4 629.6,314.0 629.5,314.4 630.3,315.4 629.6,314.4 629.6,315.4 629.6,315.5 629.6,316.7 630.2,317.1 630.2,318.2 630.0,319.1 630.4,318.2 629.6,318.5 630.1,319.0 629.7,321.4 629.9,320.8 629.7,322.1 630.1,322.0 630.6,321.8 629.5,323.9 630.6,324.0 630.6,324.0 629.6,323.8 630.5,324.2 630.4,325.3 630.9,326.6 630.1,325.7 630.4,327.3 629.7,327.5 629.9,327.6 630.8,329.4 629.9,328.7 630.5,330.5 631.1,330.6 630.1,331.1 630.8,330.0 630.5,331.5 630.2,331.2 630.6,331.4 630.5,333.0 630.4,333.5 631.3,333.9 630.6,334.9 631.4,334.2 631.3,336.4 631.5,335.3 631.5,336.1 630.7,336.5 631.4,337.8 631.0,338.0 630.6,337.1 631.2,337.7 631.3,336.9 631.0,336.8 631.5,335.7 631.0,335.2 631.2,334.3 632.1,333.9 631.1,333.3 631.2,333.5 631.2,333.0 631.6,331.8 631.9,332.6 631.9,330.4 631.6,329.7 632.1,330.9 631.4,329.0 631.5,329.1 632.6,327.7 632.6,327.8 632.3,327.7 632.9,328.0 633.0,326.7 632.4,326.0 633.1,327.1 632.6,327.2 632.2,326.7 632.5,327.5 631.9,329.5 632.2,330.0 632.7,329.0 632.5,329.1 632.8,330.1 632.1,330.4 632.7,332.4 632.4,332.7 632.8,332.2 632.8,333.0 632.7,333.7 633.3,334.8 632.9,334.7 632.6,335.0 633.6,334.8 632.5,334.9 632.8,336.2 633.3,336.8 633.9,337.6 633.8,337.4 633.0,338.6 632.7,339.5 633.1,340.0 633.4,340.8 633.0,341.5 634.2,340.8 633.6,340.4 633.6,341.8 634.0,343.0 633.9,344.1 633.0,343.1 633.9,344.9 633.5,345.1 634.2,345.0 634.1,346.0 634.1,346.8 633.3,347.2 633.3,347.2 633.8,347.6 634.0,348.0 634.5,347.0 634.1,347.6 634.2,346.6 634.3,347.0 633.6,345.4 634.7,344.0 634.7,344.2 633.9,344.6 634.7,344.0 634.8,343.5 635.2,343.3 633.9,341.1 634.8,341.1 634.4,341.9 634.3,340.3 635.4,340.4 634.9,338.8 635.2,338.8 635.5,338.2 634.8,337.8 635.5,338.0 635.1,336.0 634.6,336.1 635.4,335.7 634.9,335.3 634.5,335.7 635.0,335.5 635.8,334.2 635.5,334.0 634.8,334.1 635.6,332.6 635.7,332.2 636.0,331.5 635.3,330.3 635.3,330.2 635.4,330.1 635.8,329.1 635.7,329.4 636.5,327.8 635.2,328.4 636.3,328.0 635.7,326.1 635.8,327.2 636.0,326.0 635.6,325.9 635.9,325.9 635.4,324.7 635.8,324.5 636.2,323.3 636.9,322.9 636.4,322.8 636.0,322.2 636.9,322.6 636.2,321.3 636.6,319.6 636.1,320.2 636.9,319.4 636.9,319.2 636.9,319.4 636.3,317.8 635.9,318.1 636.6,317.8 636.0,316.4 637.1,315.3 636.7,316.3 637.1,314.4 636.6,314.2 636.7,313.1 637.3,313.6 637.3,313.4 636.2,312.2 636.4,311.6 637.3,312.1 636.3,311.6 636.3,309.4 637.6,309.1 637.2,310.2 636.4,309.7 636.9,309.3 637.5,307.9 637.3,307.3 636.6,307.2 637.4,305.6 637.2,305.4 637.1,305.7 637.0,304.7 636.7,305.0 637.8,305.1 637.4,303.3 637.2,303.3 637.6,301.6 637.4,302.9 637.3,301.7 638.2,300.2 638.2,300.1 637.6,299.6 637.4,299.4 637.9,299.1 637.1,299.0 637.7,297.1 637.6,298.5 638.1,297.9 637.6,295.7 637.3,295.4 638.5,294.5 638.2,294.0 637.3,295.5 638.0,294.0 638.5,294.3 637.9,292.2 638.7,293.1 638.1,292.4 638.7,290.5 639.3,290.3 638.9,290.1 638.8,290.6 638.4,289.0 638.9,288.6 639.3,289.3 639.7,288.3 639.4,287.9 639.1,287.4 639.0,287.4 640.0,286.5 639.7,285.7 639.7,285.4 639.3,284.5 640.0,284.0 640.0,285.3 639.6,285.8 640.9,286.5 640.0,285.6 639.9,287.1 640.8,286.4 640.9,286.9 641.1,287.0 641.3,288.3 641.4,289.0 640.4,290.1 641.3,289.0 640.6,289.7 641.0,291.1 641.4,292.4 641.3,292.1 641.7,293.5 642.1,293.1 641.4,292.6 641.2,293.3 641.7,294.7 641.3,295.0 642.4,296.3 642.0,296.0 642.8,297.2 642.5,297.0 642.2,298.5 642.9,296.9 643.8,299.0 643.7,298.4 643.1,299.7 644.0,300.0 643.6,300.6 644.4,300.7 644.6,302.3 644.9,301.0 644.2,303.0 644.1,303.5 643.8,303.5 645.1,303.8 643.9,304.6 644.0,305.0 645.1,306.5 644.9,306.4 644.5,306.8 644.7,306.8 644.5,307.4 644.1,308.5 645.0,308.1 645.2,309.5 644.9,309.6 644.4,309.0 645.5,310.0 645.4,310.8 645.5,312.3 644.6,311.2 645.2,311.6 644.6,312.8 644.8,314.4 645.9,313.0 645.6,315.0 644.9,314.0 645.2,316.1 645.6,316.0 645.2,315.7 646.1,316.9 645.9,316.6 645.4,317.8 646.1,318.3 646.6,319.5 646.5,319.8 646.1,320.2 646.0,321.4 646.3,321.2 646.9,322.0 646.1,321.0 646.4,322.6 646.6,322.5 647.3,322.7 647.0,324.0 646.7,324.4 646.8,325.7 647.6,326.4 647.4,326.0 647.8,327.2 647.9,327.3 648.8,327.4 647.7,328.4 648.2,328.8 649.4,329.9 648.3,328.6 649.0,330.0 649.7,330.2 648.9,331.0 649.0,331.7 649.0,332.6 650.1,333.2 650.2,332.4 649.5,333.3 649.2,334.0 649.4,335.3 649.5,334.4 649.7,336.0 650.2,335.6 650.4,336.7 650.9,336.2 650.6,337.0 650.1,339.0 651.1,337.9 651.2,338.3 650.4,339.0 651.0,340.0 651.9,341.4 651.8,340.5 652.3,341.8 651.5,342.9 652.1,343.3 651.8,344.0 652.4,344.3 653.0,344.0 653.5,343.3 653.7,344.7 654.8,345.6 654.0,345.4 655.0,346.0 655.8,347.0 655.1,346.5 655.8,346.7 655.2,347.9 655.6,349.3 655.8,349.2 656.0,350.1 655.4,349.1 656.3,351.0 655.4,351.1 655.8,351.1 656.0,352.0 655.6,353.0 655.9,352.1 656.2,353.1 657.0,353.3 656.0,355.5 656.7,354.5 657.3,355.5 656.8,356.0 657.3,355.4 657.9,356.9 657.5,358.2 657.7,356.9 657.9,358.2 657.8,359.6 657.3,358.7 658.0,360.0 657.9,360.6 658.6,359.1 659.1,359.5 659.0,358.0 659.7,357.9 659.8,360.1 659.1,358.4 659.5,359.3 658.6,360.5 659.9,360.1 659.4,362.3 659.5,362.9 660.0,361.6 659.1,363.5 659.1,363.5 659.8,363.1 659.5,365.3 660.4,365.0 659.2,364.7 659.2,366.4 660.2,366.3 660.1,368.1 659.6,367.6 660.0,368.0 660.3,367.9 660.0,369.6 660.6,370.5 660.6,369.7 661.3,371.1 661.3,372.1 661.7,371.4 661.6,372.0 661.4,372.5 661.8,371.4 661.1,370.6 661.8,370.8 661.5,369.7 662.2,369.6 662.3,368.5 661.6,367.4 662.2,366.4 662.4,367.7 661.8,366.8 661.9,367.0 662.6,366.5 662.1,364.0 662.7,365.3 663.0,365.0 662.1,363.3 663.3,363.2 663.4,362.2 662.3,362.4 663.2,362.1 663.3,362.1 663.6,360.9 663.0,360.0 663.0,359.5 662.9,358.8 663.5,358.2 664.0,358.0 664.5,357.6 664.1,358.7 664.1,359.9 664.5,360.8 664.9,361.1 665.2,362.0 664.8,360.9 664.4,362.3 665.1,361.8 665.7,363.2 664.4,363.0 665.4,363.5 665.4,364.6 666.0,363.9 664.8,365.0 665.6,366.0 666.1,365.2 665.5,365.8 666.4,365.2 666.3,364.1 665.7,363.3 665.2,362.8 665.2,362.4 665.8,360.9 666.0,361.2 666.1,361.8 666.6,360.2 666.1,361.0 666.7,359.0 665.8,358.3 666.8,358.5 665.8,358.8 666.7,357.0 666.4,356.7 666.7,357.5 666.9,355.5 665.7,354.8 666.5,355.6 666.4,355.3 666.3,354.0 666.5,354.2 666.6,352.9 666.4,353.5 666.6,352.0 666.6,351.5 667.2,354.1 667.0,353.2 667.0,353.2 666.3,354.1 666.4,355.0 667.1,355.7 666.8,356.8 666.7,355.8 667.5,357.0 666.4,357.9 666.4,358.7 667.0,358.7 667.5,359.3 667.8,359.2 666.8,360.6 667.8,360.8 666.7,361.1 666.9,361.4 667.9,361.4 668.0,362.8 667.5,362.3 667.3,364.4 667.7,364.9 667.9,365.4 667.2,364.5 667.0,364.7 667.9,365.8 667.2,366.1 667.3,366.7 667.8,368.5 667.8,369.0 668.1,368.6 667.8,368.2 667.9,369.1 667.2,369.7 667.3,370.5 667.9,370.2 668.5,371.4 668.0,372.0 668.0,372.8 667.8,372.9 668.7,372.7 668.3,373.2 669.5,374.8 669.7,375.2 669.5,375.4 669.6,376.0 669.7,376.5 669.8,378.0 670.6,376.9 671.0,378.0 671.6,379.4 670.7,379.8 671.8,379.6 671.1,378.9 671.6,380.6 672.1,381.4 672.1,381.9 671.9,383.0 671.6,383.6 672.0,382.5 672.4,384.1 672.0,384.0 671.7,384.5 671.7,385.6 672.5,385.9 671.9,385.2 672.4,386.4 672.0,387.9 672.6,387.3 672.8,387.3 672.9,387.7 672.7,389.3 672.5,390.5 673.4,390.3 672.4,389.9 673.3,390.7 672.8,391.5 673.0,392.0 672.8,391.7 672.8,392.7 672.9,392.5 673.6,394.9 672.8,395.0 673.6,395.6 673.8,395.2 673.2,396.7 673.8,396.4 673.4,397.2 673.0,396.7 673.7,398.2 674.0,397.6 674.1,398.0 673.5,398.4 673.3,400.3 674.2,401.3 674.4,401.9 673.6,401.6 673.6,402.4 673.7,403.4 674.5,403.6 674.8,403.0 674.8,404.2 674.7,405.0 674.4,404.0 674.9,405.8 674.4,406.0 674.0,406.5 674.4,408.0 674.3,406.5 675.3,408.8 674.2,408.9 674.2,409.8 674.7,408.9 675.1,410.7 675.1,409.6 675.2,410.7 675.6,412.4 675.6,412.3 675.6,412.2 675.5,414.0 674.8,414.1 675.4,414.0 675.6,412.5 675.9,413.5 675.1,413.6 675.9,412.6 675.6,410.7 675.3,411.7 676.2,410.1 676.2,409.2 675.5,410.1 676.1,408.3 676.5,408.9 676.3,409.1 676.4,407.7 675.7,406.8 676.5,407.6 676.7,406.3 675.9,405.5 676.5,404.3 676.4,403.5 676.0,404.0 676.9,404.3 676.4,402.4 676.4,402.0 677.1,400.9 676.4,401.0 676.6,401.2 676.5,399.4 676.6,400.0 677.3,399.1 676.7,398.9 676.5,398.0 676.3,398.9 677.3,397.3 677.6,396.0 677.3,397.1 677.7,396.4 676.7,395.9 677.2,394.8 677.7,394.9 677.4,393.3 678.1,393.6 677.3,392.9 677.9,392.0 677.7,392.5 678.0,391.6 678.1,390.6 678.6,391.6 678.0,390.0 678.6,389.9 677.6,388.7 678.0,389.4 678.6,388.4 678.7,388.6 678.6,386.4 679.4,386.0 679.0,386.1 679.5,386.1 679.7,385.6 679.3,383.7 678.7,383.7 679.1,382.8 679.6,383.9 679.6,383.1 679.4,381.7 679.9,380.7 680.1,381.4 679.7,381.4 680.0,380.0 680.5,380.0 680.0,379.1 680.3,379.6 680.3,377.5 680.6,377.7 680.1,377.2 680.1,376.3 680.2,376.8 680.8,376.5 680.5,373.9 680.8,373.4 680.8,373.8 680.3,373.2 680.7,373.7 681.0,372.1 681.1,371.7 680.5,371.7 680.0,371.1 680.2,369.8 679.8,370.2 679.9,370.0 680.8,369.5 680.3,369.3 681.2,368.4 680.3,368.4 680.6,366.5 680.4,366.2 680.7,366.8 680.3,365.5 680.2,364.2 680.7,364.3 680.5,364.7 680.1,362.5 680.3,361.9 680.6,362.0 681.2,361.6 680.4,361.5 681.6,361.0 680.5,361.2 681.0,360.0 680.5,359.0 681.4,359.5 681.1,358.3 680.6,358.0 681.1,356.7 681.6,356.4 681.0,356.1 681.4,356.0 681.7,355.3 681.3,354.8 680.8,355.4 681.2,354.6 681.9,354.3 681.9,353.8 681.3,352.9 681.2,353.1 682.3,351.3 681.9,350.4 682.0,350.8 681.2,349.1 682.4,348.5 681.8,349.5 681.6,348.1 682.0,348.0 682.5,348.3 681.7,349.1 682.0,349.0 682.9,349.3 682.9,350.0 683.2,351.3 682.2,352.3 682.4,351.4 683.4,353.5 682.4,353.9 683.1,353.6 682.5,354.9 682.7,355.1 683.3,354.4 684.1,356.2 683.6,356.0 684.2,355.7 684.0,356.2 684.2,358.4 684.4,358.8 684.2,358.5 684.5,359.3 685.1,359.1 685.0,360.0 685.3,361.1 685.4,360.5 686.3,362.4 686.4,362.0 686.0,362.9 686.1,361.9 685.9,362.7 687.3,365.0 686.2,364.4 687.1,365.7 687.3,364.7 686.6,366.3 686.7,366.0 686.7,366.7 687.4,368.0 686.7,368.1 686.8,368.8 687.4,368.7 686.8,369.9 686.4,369.6 686.7,370.5 687.0,370.4 686.8,371.8 687.3,371.1 687.9,371.5 687.1,372.3 687.5,372.7 686.8,373.0 687.5,373.5 687.6,375.3 687.8,375.6 687.6,376.0 687.1,377.5 687.7,376.0 688.0,376.5 687.5,377.9 688.2,378.7 688.2,378.5 688.4,379.2 688.3,379.5 687.7,379.6 688.4,381.4 688.2,381.2 688.0,382.6 688.3,381.5 687.8,383.8 688.4,384.5 688.0,383.1 688.2,384.4 688.3,385.9 688.6,385.1 688.5,386.4 688.1,386.6 688.8,386.3 688.2,387.2 688.7,387.9 687.8,388.0 689.2,389.2 688.3,388.7 688.6,390.0 688.0,388.4 688.9,388.9 688.9,388.1 689.4,388.4 688.4,386.8 688.9,387.7 688.6,385.6 688.8,385.8 689.7,384.9 689.5,384.8 689.6,384.4 689.0,383.8 689.2,383.4 689.0,383.2 689.9,383.6 689.1,382.0 689.9,382.0 689.2,380.0 689.9,380.6 690.0,380.0 690.1,379.9 689.5,378.4 690.0,378.1 690.9,378.8 690.7,377.8 690.8,377.6 690.1,376.2 690.8,377.1 690.8,376.5 690.9,375.4 690.0,375.5 690.7,373.8 690.4,373.3 690.2,373.4 691.1,373.6 691.1,372.8 691.4,371.9 690.5,371.4 690.7,370.1 690.9,370.1 691.6,368.7 691.5,369.9 691.1,367.8 691.6,367.3 691.0,368.6 691.3,367.7 691.6,365.4 691.6,366.0 691.7,366.1 691.2,366.2 691.9,367.0 691.4,368.6 691.7,367.9 691.4,368.5 692.0,369.2 692.4,369.9 691.4,369.4 691.9,371.7 692.7,371.1 692.9,372.1 692.6,372.9 692.9,373.5 692.0,372.7 692.3,373.7 693.3,374.3 692.3,374.4 692.3,375.7 692.1,375.5 693.3,375.6 693.4,376.7 693.3,377.6 693.0,378.0 692.4,378.5 692.7,376.1 693.0,377.4 693.2,376.6 693.1,375.1 692.8,374.4 694.1,374.3 694.0,373.1 693.8,373.6 693.2,373.7 693.8,372.2 693.6,371.5 693.8,372.3 694.1,371.1 693.4,369.5 694.0,370.0 693.6,369.6 693.9,369.7 693.8,369.5 693.6,368.4 694.2,368.3 693.7,367.6 694.7,366.6 694.8,366.4 694.6,365.1 695.0,364.5 694.6,363.4 694.2,363.4 695.2,362.7 695.1,362.3 694.8,362.7 695.1,362.8 694.2,361.1 695.0,361.7 695.2,361.5 694.9,360.7 694.9,360.6 694.6,359.9 694.7,358.7 695.8,358.5 695.8,358.1 695.6,358.0 695.7,357.1 694.7,357.0 696.0,355.3 694.9,354.9 695.3,353.9 695.6,354.0 696.4,354.0 696.7,354.6 696.6,354.3 697.7,352.7 698.0,353.0 698.7,353.7 697.4,353.0 698.3,355.6 697.6,354.0 698.5,355.8 698.7,355.0 698.4,356.3 698.0,357.9 699.0,357.8 698.9,358.7 698.6,359.5 697.9,359.9 698.5,359.0 698.7,360.9 698.9,361.0 699.0,360.7 699.2,361.7 698.3,361.3 698.3,362.4 698.4,363.2 698.4,364.1 699.0,364.0 699.6,365.2 698.9,365.4 699.0,365.2 698.8,366.6 699.3,365.8 699.2,366.4 699.6,368.3 700.4,368.0 699.3,369.2 700.3,368.1 700.2,369.7 700.0,370.0 700.3,369.6 700.9,371.0 700.5,370.9 700.4,372.2 700.5,372.9 701.4,374.0 701.5,373.5 701.7,373.7 702.1,374.2 701.4,375.9 702.1,374.7 702.0,376.0 701.8,376.1 701.5,376.0 702.9,377.7 701.9,378.0 703.0,377.8 702.3,379.0 702.6,380.6 702.6,380.2 702.4,379.9 703.5,380.4 702.4,382.1 703.8,381.6 703.0,382.5 703.4,382.7 703.7,384.2 702.9,383.8 703.7,385.2 703.2,386.0 703.7,384.6 704.0,386.0 703.9,385.5 704.0,386.0 704.1,387.3 704.6,388.9 704.6,389.2 704.2,388.3 705.2,390.2 704.7,390.6 704.3,391.3 704.7,390.9 704.5,392.3 705.7,391.1 705.5,391.9 705.3,393.1 706.1,393.4 705.1,393.9 705.8,393.4 706.4,395.6 706.0,395.0 706.0,396.0 705.9,396.2 706.7,396.4 706.6,398.3 705.9,399.0 706.8,398.8 706.9,398.9 705.9,399.2 706.3,401.0 706.6,400.8 706.0,400.7 707.1,400.6 706.1,401.7 706.5,402.6 707.4,403.6 707.1,403.5 706.9,404.1 707.5,405.2 706.8,404.1 706.9,405.4 707.9,405.3 706.6,406.6 706.7,407.2 707.0,408.0 707.4,408.0 707.3,407.0 707.8,406.6 707.4,407.2 707.1,406.7 707.6,406.4 707.3,404.3 707.4,403.9 707.4,404.1 708.3,402.7 707.9,403.9 708.1,403.4 708.4,400.9 707.9,402.3 708.0,401.7 708.3,399.5 707.9,399.2 708.3,400.2 708.4,397.9 708.9,397.4 709.1,398.3 708.5,397.2 708.3,396.8 708.7,397.6 708.4,396.7 709.4,395.8 709.4,395.3 709.5,393.7 709.0,394.0 708.9,394.0 709.7,392.3 709.4,392.5 708.9,392.0 709.3,390.6 709.7,391.2 709.7,389.9 708.8,390.1 710.3,389.7 709.3,389.4 709.0,387.7 709.2,387.3 710.4,387.7 710.1,386.8 709.4,386.8 709.8,385.3 709.5,386.4 710.5,384.7 709.8,385.6 710.9,384.1 710.2,384.2 710.4,383.0 711.0,382.5 712.1,383.5 711.6,383.5 713.0,383.3 713.0,382.0 713.7,382.1 713.6,382.3 712.8,383.0 713.1,383.6 713.9,384.8 712.8,385.7 713.1,386.1 713.3,387.0 714.0,386.8 713.6,387.8 713.4,388.2 714.1,387.8 714.0,387.5 714.2,388.9 714.1,388.8 714.4,390.0 714.6,390.4 714.1,390.4 714.1,390.5 714.9,391.3 714.8,392.2 714.1,392.4 715.0,393.1 714.8,393.1 715.4,394.4 715.2,394.4 715.4,394.9 715.1,396.9 715.1,395.6 715.4,397.6 715.2,397.8 714.4,397.6 714.8,397.9 715.5,398.2 714.8,398.8 714.7,400.8 714.5,399.5 715.6,400.6 715.0,400.8 715.4,401.1 715.2,402.8 714.7,402.9 714.9,402.5 715.9,403.0 715.0,405.5 714.9,404.9 715.9,405.6 715.6,406.0 716.3,406.3 716.2,406.5 715.5,408.6 715.6,408.2 716.2,409.3 716.3,408.0 715.5,410.5 715.5,409.4 715.4,411.3 715.8,410.7 715.3,411.0 715.4,412.0 715.2,412.6 716.0,413.5 715.9,414.1 715.4,414.7 715.5,414.2 716.0,414.1 716.3,416.2 716.2,415.6 715.5,415.8 715.6,417.3 715.6,417.6 716.3,418.8 716.3,418.1 716.3,420.0 716.2,418.6 716.1,419.9 715.4,420.0 716.6,420.9 716.7,422.3 716.1,422.1 715.7,422.8 715.6,423.1 716.1,423.9 716.4,424.9 716.7,425.2 715.7,424.9 716.5,425.3 715.5,426.2 715.7,425.5 715.8,426.4 715.9,427.3 716.6,428.2 716.2,428.2 716.3,428.7 716.9,429.3 716.7,430.1 716.3,430.7 716.8,430.9 716.6,431.0 716.4,432.0 716.7,430.9 716.2,432.0 716.8,430.8 716.3,430.2 716.4,428.9 716.9,428.2 716.1,428.9 716.6,427.7 717.0,428.3 717.1,426.2 717.3,426.6 717.6,425.1 716.8,424.6 716.8,424.9 717.1,424.2 717.5,424.9 717.4,423.4 717.7,423.3 717.5,422.0 717.5,422.4 716.9,421.7 717.6,421.2 717.8,421.4 718.2,421.0 718.1,418.8 718.0,419.5 717.8,418.4 717.6,417.7 717.7,416.8 718.3,417.2 718.6,416.5 718.0,416.0 718.7,416.5 717.5,415.1 718.3,415.4 718.1,414.6 717.9,413.2 718.2,413.2 718.0,411.8 717.7,411.3 719.0,412.3 718.2,410.9 718.4,410.6 718.2,409.0 718.7,410.5 719.2,409.3 718.2,408.3 718.8,409.1 719.0,408.0 718.9,407.5 718.5,407.6 719.0,406.0 719.8,405.9 719.1,405.8 718.7,403.9 719.7,404.7 719.3,403.9 720.3,403.6 719.9,403.2 720.0,402.0 720.6,402.4 719.8,402.6 720.0,404.5 719.6,404.3 719.9,403.8 720.2,404.8 720.9,405.0 720.8,405.0 720.4,406.1 720.2,407.1 720.6,407.0 720.5,408.6 720.7,408.9 721.3,409.7 721.5,409.9 721.1,409.6 721.8,409.6 720.7,410.1 721.2,412.4 721.4,412.0 722.1,411.9 722.2,410.4 721.8,410.1 721.9,410.8 721.4,409.5 721.4,408.2 721.9,408.5 721.5,408.7 721.6,408.1 722.1,406.7 722.9,405.5 722.5,405.2 723.0,406.0 722.4,405.7 722.4,403.7 723.0,404.0 723.0,403.6 724.6,403.0 724.4,403.3 725.0,403.0 725.5,402.9 724.9,403.2 725.8,405.0 725.2,404.7 725.4,405.2 725.1,406.4 724.8,405.6 725.0,408.1 725.0,407.3 725.4,407.9 725.9,409.0 726.1,408.4 726.4,409.8 726.1,409.6 725.9,409.4 726.4,410.7 726.2,411.6 726.0,412.0 726.2,412.0 726.5,412.4 726.9,413.4 727.1,413.0 726.0,413.5 726.8,414.1 726.9,414.7 727.0,416.0 726.5,416.8 727.7,417.4 726.6,417.6 727.9,417.3 727.9,419.3 727.8,419.2 727.2,418.7 727.0,419.0 728.1,421.0 727.5,421.8 727.7,421.9 727.1,423.0 727.5,422.2 727.7,422.9 728.2,423.0 728.0,424.0 728.1,424.4 727.7,425.7 727.6,425.7 727.8,426.6 727.8,426.8 728.0,427.2 728.2,427.4 728.5,428.7 727.6,427.6 728.3,429.6 728.6,430.0 728.1,430.1 728.4,429.6 728.6,430.0 728.4,431.4 728.4,432.8 728.7,432.7 728.4,433.4 728.7,433.0 728.4,433.3 729.1,434.4 728.6,435.8 728.5,435.3 728.6,436.0 728.0,436.4 728.5,437.1 729.0,437.6 728.4,438.8 729.1,437.9 729.4,438.8 728.3,439.7 729.0,440.2 729.2,440.1 729.6,440.1 728.4,442.1 728.6,442.2 728.7,442.2 728.9,443.0 728.7,443.8 729.4,443.5 730.0,444.4 728.7,446.0 729.2,445.7 729.4,446.0" fill="none" stroke="#f79b31" stroke-width="3.6" stroke-linejoin="round" stroke-linecap="round"/>
 <circle cx="613.1" cy="220.3" r="11.9" fill="none" stroke="#e92a25" stroke-width="3.3"/>
 <circle cx="728.4" cy="444.8" r="11.9" fill="none" stroke="#e92a25" stroke-width="3.3"/>
 <text x="66.8" y="527.5" textLength="151" lengthAdjust="spacingAndGlyphs" class="src">Source: Bloomberg</text>
 <text class="dr" y="529.4"><tspan x="447.5" font-size="15.7" textLength="58.5" lengthAdjust="spacingAndGlyphs">WWW.</tspan><tspan x="507.5" font-size="21.2" textLength="187" lengthAdjust="spacingAndGlyphs">DAILYRECKONING</tspan><tspan x="695.5" font-size="15.7" textLength="47" lengthAdjust="spacingAndGlyphs">.COM</tspan></text>
</svg>
</body></html>
